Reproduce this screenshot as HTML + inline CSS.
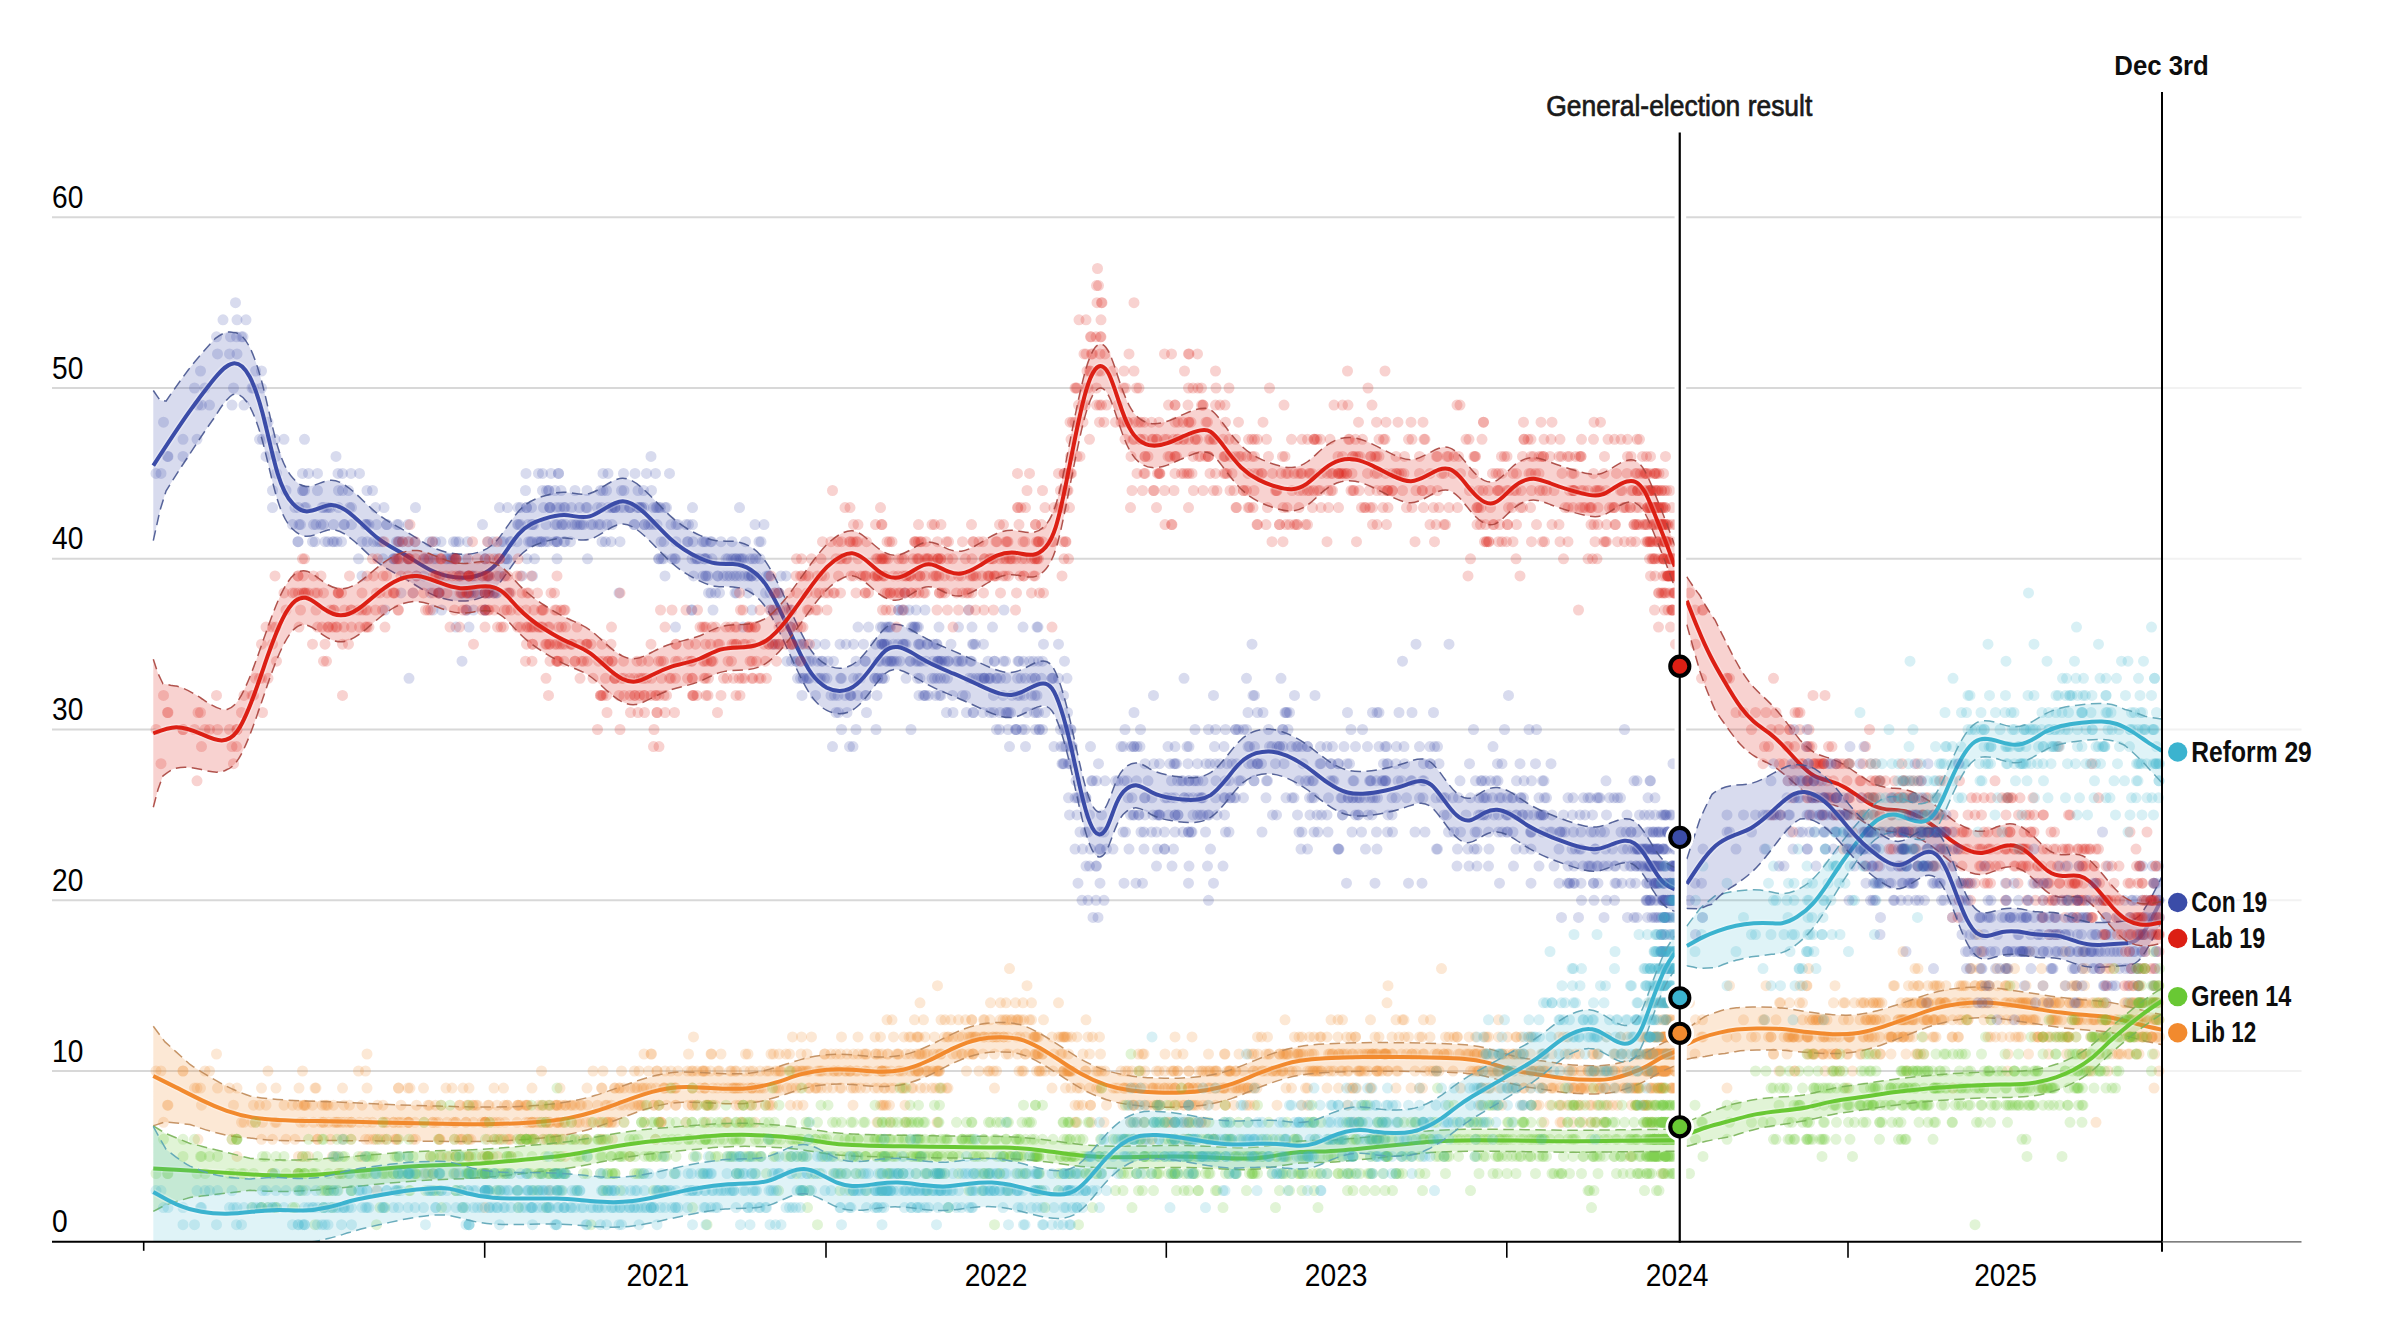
<!DOCTYPE html>
<html lang="en"><head><meta charset="utf-8"><title>Poll tracker</title>
<style>html,body{margin:0;padding:0;background:#fff}svg{display:block}</style></head>
<body>
<svg width="2382" height="1340" viewBox="0 0 2382 1340">
<style>
text{font-family:"Liberation Sans",Arial,Helvetica,sans-serif}
.ax{font-size:30.5px;fill:#000}
.p{fill:none;stroke-width:11;stroke-linecap:round;stroke-opacity:.2}
.d{fill:none;stroke-width:1.5;stroke-dasharray:10.5 5.5;stroke-opacity:.9}
.h{fill:none;stroke:#fff;stroke-width:7;stroke-opacity:.3}
.l{fill:none;stroke-width:4;stroke-linecap:butt;stroke-linejoin:round}
.lb{font-size:28.6px;font-weight:bold;fill:#0d0d0d;stroke:#fff;stroke-width:5;paint-order:stroke;stroke-linejoin:round}
</style>
<rect width="2382" height="1340" fill="#fff"/>
<path d="M52 1071H2162" stroke="#d8d8d8" stroke-width="2"/>
<path d="M2162 1071H2301.5" stroke="#f2f2f2" stroke-width="2"/>
<path d="M52 900.3H2162" stroke="#d8d8d8" stroke-width="2"/>
<path d="M2162 900.3H2301.5" stroke="#f2f2f2" stroke-width="2"/>
<path d="M52 729.5H2162" stroke="#d8d8d8" stroke-width="2"/>
<path d="M2162 729.5H2301.5" stroke="#f2f2f2" stroke-width="2"/>
<path d="M52 558.8H2162" stroke="#d8d8d8" stroke-width="2"/>
<path d="M2162 558.8H2301.5" stroke="#f2f2f2" stroke-width="2"/>
<path d="M52 388H2162" stroke="#d8d8d8" stroke-width="2"/>
<path d="M2162 388H2301.5" stroke="#f2f2f2" stroke-width="2"/>
<path d="M52 217.3H2162" stroke="#d8d8d8" stroke-width="2"/>
<path d="M2162 217.3H2301.5" stroke="#f2f2f2" stroke-width="2"/>
<clipPath id="c"><rect x="0" y="0" width="2382" height="1241.8"/></clipPath>
<g clip-path="url(#c)" class="m">
<path d="M223 319.8h0M217.5 353.9h0M205 388h0M163.5 422.2h0M651 456.4h0M317.5 473.4h0m233.5 0h0m104.5 0h0M286 490.5h0m81 0h0m194 0h0m77 0h0M272.5 507.6h0m56 0h0m171 0h0m50 0h0m30 0h0m35 0h0m22.5 0h0m20 0h0M333.5 524.6h0m43 0h0m142 0h0m38.5 0h0m24.5 0h0m52.5 0h0m37 0h0M298 541.7h0m39 0h0m59.5 0h0m39 0h0m65.5 0h0m36.5 0h0m19.5 0h0m63 0h0m84 0h0m57 0h0M408 558.8h0m39 0h0m38.5 0h0m102 0h0m104.5 0h0m15 0h0m32 0h0M440 575.9h0m47.5 0h0m206 0h0m33.5 0h0m24.5 0h0m34.5 0h0M401 592.9h0m68 0h0m20 0h0m219.5 0h0m61.5 0h0M467 610h0m285 0h0m146.5 0h0M868.5 627.1h0m44.5 0h0m79.5 0h0M800.5 644.2h0m63 0h0m23.5 0h0m32 0h0m53.5 0h0m476.5 0h0M801 661.2h0m32.5 0h0m56.5 0h0m26 0h0m22 0h0m20.5 0h0m45 0h0m39 0h0M807 678.3h0m33.5 0h0m37.5 0h0m56.5 0h0m44.5 0h0m17 0h0m39 0h0m149 0h0M850 695.4h0m73.5 0h0m39 0h0m69 0h0m263 0h0M946.5 712.5h0m53.5 0h0m38.5 0h0m247.5 0h0m126 0h0M841.5 729.5h0m174.5 0h0m44.5 0h0m134.5 0h0m51.5 0h0m258 0h0M849.5 746.6h0m221 0h0m63.5 0h0m90 0h0m55.5 0h0m41 0h0m66 0h0M1062 763.7h0m97.5 0h0m50.5 0h0m47 0h0m64 0h0m66 0h0m82.5 0h0M1091.5 780.8h0m45 0h0m57 0h0m47.5 0h0m71.5 0h0m58 0h0m27.5 0h0m83 0h0m50.5 0h0M1075 797.8h0m69.5 0h0m40 0h0m39.5 0h0m62 0h0m56 0h0m22.5 0h0m55 0h0m51 0h0m37 0h0m39 0h0m53.5 0h0M1069.5 814.9h0m69.5 0h0m36 0h0m33 0h0m109 0h0m51 0h0m112.5 0h0m28 0h0m32.5 0h0m44 0h0m76.5 0h0M1088 832h0m63.5 0h0m40.5 0h0m126 0h0m107 0h0m77 0h0m48 0h0m41 0h0m46 0h0m24 0h0M1099.5 849.1h0m65 0h0m201 0h0m123.5 0h0m92 0h0m54.5 0h0m9.5 0h0m9 0h0m9 0h0M1156.5 866.1h0m332 0h0m101 0h0m35 0h0m21.5 0h0m7 0h0m7.5 0h0m12 0h0M1346.5 883.2h0m223 0h0m45.5 0h0m39.5 0h0m8.5 0h0m8 0h0M1104 900.3h0m543.5 0h0m15.5 0h0m7 0h0m4 0h0M1098 917.4h0m554 0h0m13.5 0h0M1666 951.5h0M1674 1002.8h0" class="p" stroke="#3b4ca8"/>
<path d="M237 319.8h0M229.5 353.9h0M233.5 388h0M268 422.2h0M183 439.3h0M338 473.4h0m220.5 0h0m111 0h0M302.5 490.5h0m70 0h0m202.5 0h0m68.5 0h0M295 507.6h0m35.5 0h0m177 0h0m42.5 0h0m36 0h0m29 0h0m24 0h0m20 0h0M292.5 524.6h0m51.5 0h0m42.5 0h0m134 0h0m41 0h0m22 0h0m51 0h0m41.5 0h0M298 541.7h0m43.5 0h0m56.5 0h0m43 0h0m62.5 0h0m36 0h0m18 0h0m103.5 0h0m45 0h0M358.5 558.8h0m51.5 0h0m40 0h0m47.5 0h0m161 0h0m37 0h0m16.5 0h0m28.5 0h0M459.5 575.9h0m28.5 0h0m215 0h0m27 0h0m21.5 0h0M413 592.9h0m56 0h0m20.5 0h0m221.5 0h0m64.5 0h0M473.5 610h0m297.5 0h0m131 0h0M456 627.1h0m424.5 0h0m34 0h0m108.5 0h0M801.5 644.2h0m74 0h0m18 0h0m27 0h0m53 0h0M806 661.2h0m50 0h0m35 0h0m27 0h0m21.5 0h0m22 0h0m44 0h0m59 0h0M808.5 678.3h0m33 0h0m40.5 0h0m55.5 0h0m44.5 0h0m15 0h0m38.5 0h0m211 0h0M850.5 695.4h0m74.5 0h0m40.5 0h0m69.5 0h0m280 0h0M953 712.5h0m53 0h0m39 0h0m242 0h0m146.5 0h0M856 729.5h0m160.5 0h0m47.5 0h0m144.5 0h0m60 0h0m260.5 0h0M853 746.6h0m218.5 0h0m65.5 0h0m111 0h0m35 0h0m44 0h0m69.5 0h0M1063 763.7h0m107 0h0m45.5 0h0m42 0h0m73.5 0h0m57 0h0m109.5 0h0M1092.5 780.8h0m55.5 0h0m47.5 0h0m58.5 0h0m59.5 0h0m57.5 0h0m30.5 0h0m80.5 0h0m60.5 0h0M1077 797.8h0m68 0h0m43.5 0h0m36.5 0h0m67 0h0m56 0h0m22 0h0m53 0h0m56 0h0m33 0h0m56 0h0m41.5 0h0M1077 814.9h0m68 0h0m30 0h0m34 0h0m112.5 0h0m50.5 0h0m111.5 0h0m32.5 0h0m25.5 0h0m51 0h0m71 0h0M1099.5 832h0m57 0h0m49 0h0m122.5 0h0m120.5 0h0m58.5 0h0m45 0h0m42 0h0m53.5 0h0m17 0h0M1100.5 849.1h0m73 0h0m203.5 0h0m139 0h0m79 0h0m42.5 0h0m8 0h0m10 0h0m8 0h0M1172 866.1h0m341.5 0h0m78 0h0m38.5 0h0m18 0h0m6 0h0m7.5 0h0m12.5 0h0M1078 883.2h0m297 0h0m194.5 0h0m47 0h0m38 0h0m9 0h0m9.5 0h0M1208.5 900.3h0m441.5 0h0m13.5 0h0m7 0h0M1561.5 917.4h0m93 0h0m12.5 0h0M1674.5 951.5h0M1665.5 968.6h0" class="p" stroke="#3b4ca8"/>
<path d="M246 319.8h0M237 353.9h0M252 388h0M198 405.1h0M197 439.3h0M167.5 456.4h0M342.5 473.4h0m216 0h0M303 490.5h0m222.5 0h0m61.5 0h0m64.5 0h0M298.5 507.6h0m40 0h0m179.5 0h0m32 0h0m37 0h0m28 0h0m24.5 0h0m21 0h0M299 524.6h0m45.5 0h0m42.5 0h0m141 0h0m34.5 0h0m28.5 0h0m53.5 0h0m33.5 0h0M312.5 541.7h0m49.5 0h0m37.5 0h0m54 0h0m57 0h0m31 0h0m22.5 0h0m100 0h0m46.5 0h0M383 558.8h0m40.5 0h0m28.5 0h0m53 0h0m154 0h0m38 0h0m29 0h0m16 0h0M460 575.9h0m29 0h0m216.5 0h0m28.5 0h0m18 0h0M430.5 592.9h0m40.5 0h0m23 0h0m221.5 0h0m63 0h0M485 610h0m288.5 0h0m130.5 0h0M469 627.1h0m413.5 0h0m32.5 0h0m122 0h0M807.5 644.2h0m74 0h0m16.5 0h0m29 0h0m48.5 0h0M809 661.2h0m56 0h0m27 0h0m28 0h0m21 0h0m21.5 0h0m55.5 0h0m384.5 0h0M809.5 678.3h0m44 0h0m29 0h0m58 0h0m43.5 0h0m16.5 0h0m41 0h0m239.5 0h0M802 695.4h0m49 0h0m74 0h0m68.5 0h0m43.5 0h0m471.5 0h0M966.5 712.5h0m40.5 0h0m60.5 0h0m222 0h0M876 729.5h0m146 0h0m43.5 0h0m150 0h0m67 0h0m254 0h0M1009.5 746.6h0m63 0h0m67.5 0h0m109.5 0h0m42 0h0m41 0h0m71.5 0h0M1064 763.7h0m110 0h0m46 0h0m38 0h0m73 0h0m65 0h0m106 0h0M1096.5 780.8h0m75 0h0m26.5 0h0m56 0h0m76 0h0m46.5 0h0m34.5 0h0m74.5 0h0m58.5 0h0M1078.5 797.8h0m73.5 0h0m41 0h0m37 0h0m64 0h0m54.5 0h0m24 0h0m63.5 0h0m47 0h0m30 0h0m60 0h0m41 0h0M1089.5 814.9h0m63.5 0h0m25 0h0m39 0h0m110 0h0m61 0h0m95.5 0h0m33 0h0m27 0h0m63 0h0m58.5 0h0M1101.5 832h0m63 0h0m61 0h0m126.5 0h0m102 0h0m53.5 0h0m52.5 0h0m40.5 0h0m49.5 0h0m17 0h0M1106.5 849.1h0m104 0h0m226 0h0m87.5 0h0m71.5 0h0m42 0h0m9 0h0m10 0h0m9 0h0M1189 866.1h0m350 0h0m58 0h0m34.5 0h0m17.5 0h0m5.5 0h0m9 0h0m11.5 0h0M1100 883.2h0m308.5 0h0m165 0h0m48.5 0h0m33.5 0h0m8.5 0h0m10.5 0h0M1581.5 900.3h0m68.5 0h0m14 0h0m6.5 0h0M1578.5 917.4h0m78 0h0m12.5 0h0M1661 934.5h0M1667 968.6h0" class="p" stroke="#3b4ca8"/>
<path d="M235.5 302.7h0M216.5 336.8h0M253.5 388h0M201.5 405.1h0M259.5 439.3h0M168 456.4h0M156 473.4h0m195 0h0m252 0h0M304.5 490.5h0m238 0h0m58 0h0M304.5 507.6h0m45 0h0m171 0h0m36 0h0m41 0h0m22.5 0h0m21.5 0h0m23.5 0h0M300.5 524.6h0m51 0h0m45.5 0h0m135 0h0m33.5 0h0m27.5 0h0m51.5 0h0m41.5 0h0M315 541.7h0m52 0h0m35.5 0h0m53.5 0h0m55 0h0m30.5 0h0m23.5 0h0m111 0h0m35.5 0h0M393.5 558.8h0m32 0h0m29 0h0m52.5 0h0m154.5 0h0m36 0h0m30.5 0h0m15.5 0h0M468 575.9h0m31.5 0h0m206.5 0h0m30.5 0h0m20 0h0M438.5 592.9h0m37.5 0h0m18.5 0h0m225 0h0m59.5 0h0M485 610h0m291.5 0h0m132.5 0h0M675.5 627.1h0m210.5 0h0m31 0h0m121 0h0M772.5 644.2h0m43 0h0m66.5 0h0m21 0h0m24.5 0h0m56 0h0M462 661.2h0m349.5 0h0m54 0h0m28.5 0h0m27.5 0h0m20.5 0h0m28.5 0h0m48.5 0h0M409 678.3h0m408.5 0h0m40.5 0h0m26.5 0h0m60 0h0m40 0h0m21.5 0h0m46 0h0M815.5 695.4h0m42 0h0m71 0h0m74.5 0h0m60.5 0h0M973 712.5h0m35.5 0h0m125.5 0h0m213.5 0h0M911 729.5h0m114 0h0m43 0h0m157.5 0h0m57.5 0h0m341.5 0h0M1025.5 746.6h0m65 0h0m77.5 0h0m86.5 0h0m42 0h0m47.5 0h0m75.5 0h0M1068.5 763.7h0m106.5 0h0m52 0h0m34.5 0h0m76.5 0h0m66.5 0h0m115.5 0h0M1105 780.8h0m72.5 0h0m25.5 0h0m63.5 0h0m66 0h0m49.5 0h0m30 0h0m78.5 0h0m115.5 0h0M1083 797.8h0m82 0h0m33.5 0h0m32 0h0m79 0h0m43 0h0m22.5 0h0m66.5 0h0m43 0h0m36 0h0m63 0h0m34 0h0M1101.5 814.9h0m55.5 0h0m21 0h0m46.5 0h0m118 0h0m49.5 0h0m94.5 0h0m36 0h0m21 0h0m83.5 0h0m38.5 0h0M1104 832h0m71 0h0m54 0h0m132.5 0h0m99 0h0m52.5 0h0m47 0h0m44.5 0h0m48.5 0h0m14.5 0h0M1113 849.1h0m188 0h0m136.5 0h0m93.5 0h0m74.5 0h0m32.5 0h0m9.5 0h0m9.5 0h0m10.5 0h0M1207.5 866.1h0m346.5 0h0m44 0h0m38 0h0m13.5 0h0m5 0h0m11 0h0m9.5 0h0M1124 883.2h0m298 0h0m152.5 0h0m56 0h0m25.5 0h0m9 0h0m10.5 0h0M1594 900.3h0m57 0h0m14 0h0m5.5 0h0M1604 917.4h0m54.5 0h0m13 0h0M1661.5 934.5h0M1668.5 968.6h0" class="p" stroke="#3b4ca8"/>
<path d="M230.5 336.8h0M261.5 388h0M209.5 405.1h0M262.5 439.3h0M183 456.4h0M161 473.4h0m198.5 0h0m248.5 0h0M317.5 490.5h0m229 0h0m56.5 0h0M306 507.6h0m45.5 0h0m175 0h0m33.5 0h0m41.5 0h0m22.5 0h0m17.5 0h0m25 0h0M313.5 524.6h0m52 0h0m33 0h0m134 0h0m39.5 0h0m26.5 0h0m50 0h0m40 0h0M325 541.7h0m48.5 0h0m35.5 0h0m50 0h0m58 0h0m28.5 0h0m25 0h0m117 0h0m33.5 0h0M393.5 558.8h0m34.5 0h0m27.5 0h0m51.5 0h0m156.5 0h0m36.5 0h0m31.5 0h0m18.5 0h0M468.5 575.9h0m36 0h0m203.5 0h0m32 0h0m26.5 0h0M439 592.9h0m38.5 0h0m19 0h0m238.5 0h0m170 0h0M385 610h0m100 0h0m295 0h0m136 0h0M743 627.1h0m145 0h0m30.5 0h0M774.5 644.2h0m50.5 0h0m57 0h0m21 0h0m30.5 0h0m110 0h0M787 661.2h0m30.5 0h0m61 0h0m18 0h0m29.5 0h0m19 0h0m26.5 0h0m52 0h0M797.5 678.3h0m22 0h0m41 0h0m45.5 0h0m41.5 0h0m37 0h0m33 0h0m34.5 0h0M831 695.4h0m34.5 0h0m70 0h0m76.5 0h0m141.5 0h0M836 712.5h0m137.5 0h0m37 0h0m237.5 0h0m124.5 0h0M996.5 729.5h0m39 0h0m35 0h0m165 0h0m52.5 0h0M1054 746.6h0m67 0h0m54 0h0m94.5 0h0m28.5 0h0m57.5 0h0m74.5 0h0M1070 763.7h0m106.5 0h0m55.5 0h0m43.5 0h0m63 0h0m85 0h0m112 0h0M1115.5 780.8h0m66 0h0m34.5 0h0m51.5 0h0m66.5 0h0m49 0h0m39.5 0h0m73.5 0h0m138 0h0M1085.5 797.8h0m81.5 0h0m34.5 0h0m32.5 0h0m78 0h0m41 0h0m24.5 0h0m66.5 0h0m42.5 0h0m34.5 0h0m67 0h0m32.5 0h0M1130.5 814.9h0m28.5 0h0m34 0h0m79.5 0h0m70 0h0m101.5 0h0m50 0h0m28.5 0h0m29.5 0h0m87.5 0h0m27 0h0M1123 832h0m60 0h0m79 0h0m114.5 0h0m98.5 0h0m55.5 0h0m31.5 0h0m59 0h0m32.5 0h0m14.5 0h0M1129 849.1h0m178.5 0h0m150 0h0m101.5 0h0m53.5 0h0m26.5 0h0m11.5 0h0m7.5 0h0m15.5 0h0M1086 866.1h0m137 0h0m345 0h0m36 0h0m32 0h0m14 0h0m6.5 0h0m9 0h0m10 0h0M1136 883.2h0m363.5 0h0m81.5 0h0m54.5 0h0m21 0h0m11 0h0M1606.5 900.3h0m48 0h0m11 0h0m6.5 0h0M1627.5 917.4h0m34 0h0m14 0h0M1665.5 934.5h0M1660.5 951.5h0" class="p" stroke="#3b4ca8"/>
<path d="M236.5 336.8h0M200.5 371h0M232 405.1h0M275 439.3h0M266 456.4h0M276.5 473.4h0m249.5 0h0m97.5 0h0M338.5 490.5h0m210 0h0m58 0h0M322 507.6h0m53.5 0h0m151 0h0m37.5 0h0m44 0h0m21.5 0h0m14.5 0h0m48.5 0h0M316 524.6h0m49.5 0h0m42.5 0h0m126 0h0m41 0h0m25.5 0h0m50.5 0h0m41.5 0h0M328 541.7h0m49.5 0h0m37.5 0h0m52.5 0h0m61 0h0m19.5 0h0m54 0h0m86 0h0m44 0h0M395 558.8h0m38.5 0h0m22.5 0h0m71 0h0m145 0h0m32.5 0h0m29 0h0m19.5 0h0M362 575.9h0m110.5 0h0m49.5 0h0m195.5 0h0m27 0h0m24 0h0M439.5 592.9h0m45.5 0h0m12 0h0m239.5 0h0M433 610h0m258.5 0h0m98 0h0m135.5 0h0M790.5 627.1h0m99 0h0m49.5 0h0M778.5 644.2h0m61.5 0h0m44 0h0m20.5 0h0m32 0h0m122 0h0M791.5 661.2h0m30 0h0m59 0h0m19.5 0h0m33 0h0m15 0h0m40 0h0m41.5 0h0M800.5 678.3h0m20.5 0h0m53.5 0h0m43 0h0m51.5 0h0m19.5 0h0m32.5 0h0m32 0h0M834.5 695.4h0m31.5 0h0m73.5 0h0m78 0h0m196 0h0M838.5 712.5h0m144.5 0h0m44 0h0m230.5 0h0m119.5 0h0M999.5 729.5h0m39.5 0h0m32 0h0m165 0h0m115 0h0M1061 746.6h0m62.5 0h0m63.5 0h0m85 0h0m30 0h0m65.5 0h0m67 0h0M1098.5 763.7h0m89.5 0h0m48.5 0h0m47.5 0h0m63 0h0m83 0h0m121 0h0M1118 780.8h0m65 0h0m42.5 0h0m73.5 0h0m54 0h0m32 0h0m39 0h0m74 0h0m139 0h0M1086 797.8h0m85.5 0h0m30 0h0m34 0h0m78.5 0h0m42.5 0h0m35.5 0h0m53.5 0h0m47 0h0m31 0h0m67 0h0m57.5 0h0M1133 814.9h0m26 0h0m38.5 0h0m79 0h0m79 0h0m91.5 0h0m51.5 0h0m29.5 0h0m35.5 0h0m81 0h0m25.5 0h0M1125.5 832h0m63 0h0m110.5 0h0m88.5 0h0m89.5 0h0m54 0h0m34 0h0m61 0h0m30 0h0m12 0h0M1075 849.1h0m69 0h0m194 0h0m130 0h0m104 0h0m51 0h0m18 0h0m10.5 0h0m7 0h0m17 0h0M1089.5 866.1h0m367.5 0h0m117 0h0m34 0h0m31 0h0m11.5 0h0m6 0h0m15.5 0h0M1142.5 883.2h0m388.5 0h0m62.5 0h0m53 0h0m12 0h0m11.5 0h0M1082 900.3h0m532.5 0h0m43 0h0m10 0h0m4.5 0h0M1634 917.4h0m30.5 0h0M1670 934.5h0M1661.5 951.5h0" class="p" stroke="#3b4ca8"/>
<path d="M241.5 336.8h0M255.5 371h0M244 405.1h0M284 439.3h0M276 456.4h0M302.5 473.4h0m236 0h0m96.5 0h0M342.5 490.5h0m206.5 0h0m72.5 0h0M323.5 507.6h0m60.5 0h0m147.5 0h0m33.5 0h0m46.5 0h0m18.5 0h0m23.5 0h0m86 0h0M321 524.6h0m46 0h0m115.5 0h0m63.5 0h0m31 0h0m30 0h0m47 0h0m101 0h0M332.5 541.7h0m47.5 0h0m49.5 0h0m58.5 0h0m42.5 0h0m24 0h0m51 0h0m87.5 0h0m52.5 0h0M398.5 558.8h0m37.5 0h0m30 0h0m68.5 0h0m140 0h0m30 0h0m31.5 0h0m19.5 0h0M416.5 575.9h0m57 0h0m59 0h0m185.5 0h0m30 0h0m21 0h0M461.5 592.9h0m24 0h0m23.5 0h0m239 0h0M441.5 610h0m250.5 0h0m99.5 0h0m177 0h0M790.5 627.1h0m100 0h0m68 0h0M792.5 644.2h0m53.5 0h0m38 0h0m22 0h0m31 0h0m315 0h0M796 661.2h0m26.5 0h0m63.5 0h0m24 0h0m27.5 0h0m11 0h0m46 0h0m39 0h0M803 678.3h0m21.5 0h0m50.5 0h0m45 0h0m52 0h0m17.5 0h0m36 0h0m33 0h0M838 695.4h0m39 0h0m64 0h0m79 0h0m233 0h0M847 712.5h0m143 0h0m44.5 0h0m228.5 0h0m116 0h0M1008 729.5h0m31.5 0h0m85.5 0h0m113.5 0h0m124 0h0M1064 746.6h0m67 0h0m58 0h0m88 0h0m30.5 0h0m71.5 0h0m58.5 0h0M1145 763.7h0m52.5 0h0m51 0h0m54.5 0h0m46.5 0h0m81 0h0m242.5 0h0M1124 780.8h0m64.5 0h0m40.5 0h0m76.5 0h0m48.5 0h0m31.5 0h0m74.5 0h0m56.5 0h0m133.5 0h0M1128 797.8h0m47 0h0m28 0h0m40.5 0h0m85 0h0m30.5 0h0m37 0h0m57 0h0m46.5 0h0m39.5 0h0m58 0h0m58 0h0M1134 814.9h0m26 0h0m40.5 0h0m97 0h0m60.5 0h0m108 0h0m40.5 0h0m27 0h0m39 0h0m77 0h0m22.5 0h0M1080 832h0m61 0h0m47.5 0h0m113.5 0h0m90.5 0h0m96 0h0m43 0h0m42 0h0m57.5 0h0m27.5 0h0m13.5 0h0M1082.5 849.1h0m75 0h0m181 0h0m135.5 0h0m101.5 0h0m52 0h0m15 0h0m10 0h0m6.5 0h0M1096 866.1h0m373 0h0m114 0h0m31.5 0h0m26 0h0m10.5 0h0m7.5 0h0m13.5 0h0M1188.5 883.2h0m370.5 0h0m34.5 0h0m53.5 0h0m11.5 0h0m11.5 0h0M1088 900.3h0m558 0h0m16 0h0m6 0h0m4 0h0M1637 917.4h0m27.5 0h0M1675 934.5h0M1661.5 951.5h0" class="p" stroke="#3b4ca8"/>
<path d="M243 336.8h0M261.5 371h0M194.5 388h0M304.5 439.3h0M336 456.4h0M308.5 473.4h0m234 0h0m104 0h0M272.5 490.5h0m76 0h0m206.5 0h0m69 0h0M326.5 507.6h0m89 0h0m128 0h0m28 0h0m41 0h0m18 0h0m25.5 0h0M323.5 524.6h0m45.5 0h0m148.5 0h0m37.5 0h0m25 0h0m32 0h0m45 0h0m107 0h0M334 541.7h0m48.5 0h0m50 0h0m60.5 0h0m39 0h0m24.5 0h0m54.5 0h0m91.5 0h0m56.5 0h0M408 558.8h0m38 0h0m39 0h0m72 0h0m118.5 0h0m30 0h0m30.5 0h0m24 0h0M424 575.9h0m58 0h0m183 0h0m58.5 0h0m26 0h0m31.5 0h0M463 592.9h0m24.5 0h0m131.5 0h0m146.5 0h0M466 610h0m247 0h0m185.5 0h0m105.5 0h0M858 627.1h0m53.5 0h0m60.5 0h0M797 644.2h0m56.5 0h0m31.5 0h0m33.5 0h0m32.5 0h0m465 0h0M796.5 661.2h0m31.5 0h0m59.5 0h0m23 0h0m27.5 0h0m18.5 0h0m38 0h0m44 0h0M803.5 678.3h0m23.5 0h0m50.5 0h0m54.5 0h0m44 0h0m14.5 0h0m41 0h0m35.5 0h0M845 695.4h0m74 0h0m33.5 0h0m71.5 0h0m230.5 0h0M866.5 712.5h0m127 0h0m43 0h0m248.5 0h0m114 0h0M1015.5 729.5h0m27 0h0m98 0h0m103 0h0m230 0h0M832.5 746.6h0m233.5 0h0m68 0h0m80.5 0h0m65 0h0m28 0h0m77.5 0h0m108 0h0M1154 763.7h0m52 0h0m46 0h0m68 0h0m63.5 0h0m55.5 0h0M1076 780.8h0m51 0h0m62 0h0m50 0h0m70 0h0m60.5 0h0m16.5 0h0m89.5 0h0m48.5 0h0m126.5 0h0M1068.5 797.8h0m63.5 0h0m52 0h0m31.5 0h0m50.5 0h0m75 0h0m19 0h0m46.5 0h0m52 0h0m43 0h0m43 0h0m54 0h0M1138.5 814.9h0m30 0h0m34.5 0h0m107 0h0m48.5 0h0m120 0h0m28.5 0h0m32.5 0h0m40.5 0h0m75 0h0M1085.5 832h0m58.5 0h0m47 0h0m123 0h0m101 0h0m83.5 0h0m44 0h0m38.5 0h0m50 0h0m27.5 0h0m14.5 0h0M1090.5 849.1h0m74 0h0m174.5 0h0m138 0h0m102.5 0h0m53.5 0h0m10.5 0h0m9.5 0h0m10 0h0M1096.5 866.1h0m380.5 0h0m111 0h0m27.5 0h0m28.5 0h0m8 0h0m7 0h0m13 0h0M1213.5 883.2h0m354 0h0m30.5 0h0m51.5 0h0m9.5 0h0m11 0h0M1096 900.3h0m550.5 0h0m16.5 0h0m5 0h0m5 0h0M1093 917.4h0m554.5 0h0m17 0h0M1663 951.5h0" class="p" stroke="#3b4ca8"/>
<path d="M153.3 390.5C155.5 393.8 157.8 397 160 400.3C162 400.6 164 400.8 166 401.1C173.6 390.1 181.2 379.4 188.8 369.3C189.2 368.7 189.6 368.2 190 367.7C197.2 358.7 204.4 350.3 211.6 342.4C212.8 341.1 213.9 339.9 215 338.7C221 334.1 227 330.6 233 332.4C233.1 332.4 233.1 332.4 233.2 332.4C238.7 332.2 244.2 336.6 249.7 347.3C253.9 355.6 258.1 367.7 262.4 384C267.4 403.5 272.5 429.1 277.6 446.2C282.7 463.4 287.7 472.2 292.8 478.1C295.2 480.8 297.6 483 300 484.5C301.8 485.5 303.7 486.1 305.5 486.4C314 487.5 322.4 480.5 330.9 480.3C338.5 480 346.1 485.3 353.7 491.9C362.2 499.3 370.6 508.5 379.1 515C387.5 521.5 396 525.5 404.4 530.5C412.9 535.5 421.4 541.6 429.8 546C438.3 550.3 446.7 552.7 455.2 553.8C463.6 554.9 472.1 554.6 480.5 551.5C485.6 549.7 490.7 546.9 495.8 541.5C497.2 540.1 498.6 538.4 500 536.6C506.2 528.6 512.4 518.1 518.6 511.2C527.1 501.7 535.5 498.6 544 496C550.7 493.8 557.5 492 564.3 492.2C572.7 492.4 581.2 495.7 589.6 493.5C600.6 490.6 611.6 478.4 622.6 478.3C630.2 478.2 637.8 483.8 645.4 491C653.9 498.9 662.4 508.7 670.8 516.4C680.5 525.1 690.3 531 700 535.4C705.1 537.8 710.1 539.7 715.2 540.5C721.1 541.5 727.1 540.9 733 541.3C738.9 541.7 744.8 543.2 750.7 546.9C755.8 550 760.9 554.8 766 562.1C771 569.5 776.1 579.3 781.2 590C786.3 600.8 791.3 612.3 796.4 623C801.5 633.8 806.6 643.8 811.6 651C816.7 658.1 821.8 662.3 826.8 664.9C831.1 667.1 835.3 668.2 839.5 668.2C845.5 668.3 851.4 666.2 857.3 661.1C862.4 656.8 867.4 650.3 872.5 643.4C876.7 637.7 881 631.7 885.2 628.2C889.4 624.7 893.7 623.8 897.9 624.4C902.1 625 906.3 627.1 910.6 629.5C916.5 632.8 922.4 636.5 928.3 639.6C936.8 644.1 945.2 647.5 953.7 651.1C962.2 654.7 970.6 658.6 979.1 662.5C986 665.8 993 669.1 1000 671C1004.2 672.2 1008.5 672.8 1012.7 672.3C1017.8 671.6 1022.8 669.1 1027.9 666.5C1033 663.8 1038.1 660.9 1043.1 660.9C1046.1 660.9 1049 661.9 1052 666C1055 670 1057.9 677.2 1060.9 686.3C1064.3 696.7 1067.7 709.6 1071 724.3C1074.4 739.1 1077.8 755.7 1081.2 770C1084.1 782.5 1087.1 793.2 1090.1 800.5C1093 807.7 1096 811.4 1098.9 811.9C1101.5 812.3 1104 810.3 1106.6 805.5C1109.9 799.2 1113.3 787.8 1116.7 780.2C1120.1 772.6 1123.5 768.7 1126.8 766.2C1130.2 763.7 1133.6 762.6 1137 763C1142.1 763.5 1147.1 767.4 1152.2 770.1C1159 773.6 1165.7 774.8 1172.5 775.9C1181 777.3 1189.4 778.4 1197.9 777.2C1202.1 776.6 1206.3 775.4 1210.6 772.7C1215.6 769.3 1220.7 763.7 1225.8 757.4C1230.9 751.2 1235.9 744.4 1241 739.7C1246.1 735 1251.2 732.4 1256.2 730.8C1260.5 729.5 1264.7 728.9 1268.9 729.1C1274.8 729.3 1280.8 730.9 1286.7 733.4C1293.4 736.2 1300.2 740 1307 744.8C1313.7 749.6 1320.5 755.4 1327.3 760.1C1334 764.8 1340.8 768.5 1347.6 770.2C1352.6 771.5 1357.7 771.7 1362.8 771.5C1370.4 771.2 1378 769.9 1385.6 768.2C1392.4 766.8 1399.2 765 1405.9 762.7C1411 760.9 1416.1 758.8 1421.1 758.9C1424.5 758.9 1427.9 760 1431.3 762.7C1435.5 766.1 1439.7 772.1 1444 777.9C1448.2 783.8 1452.4 789.4 1456.7 793.2C1460.9 796.9 1465.1 798.8 1469.3 798.2C1474.4 797.6 1479.5 793.3 1484.6 790.6C1488.8 788.4 1493 787.3 1497.2 787.6C1501.5 787.9 1505.7 789.6 1509.9 791.9C1515.9 795.2 1521.8 799.7 1527.7 803.4C1534.5 807.6 1541.2 810.7 1548 813.5C1554.8 816.4 1561.5 818.8 1568.3 821.2C1573.4 822.9 1578.4 824.6 1583.5 825.7C1587.8 826.8 1592.1 827.4 1596.4 827C1601.5 826.5 1606.6 824.5 1611.6 822.5C1615.9 820.8 1620.1 819.1 1624.3 818.7C1627.7 818.4 1631.1 818.9 1634.5 821.2C1637.8 823.5 1641.2 827.6 1644.6 832.6C1648 837.7 1651.4 843.8 1654.8 849.1C1658.1 854.4 1661.5 858.9 1664.9 861.8C1668.2 864.7 1671.5 866.1 1674.8 867.4L1674.8 911.4C1671.5 910.1 1668.2 908.7 1664.9 905.9C1661.5 902.9 1658.1 898.5 1654.8 893.2C1651.4 887.9 1648 881.8 1644.6 876.7C1641.2 871.6 1637.8 867.6 1634.5 865.3C1631.1 863 1627.7 862.5 1624.3 862.8C1620.1 863.1 1615.9 864.9 1611.6 866.6C1606.6 868.6 1601.5 870.7 1596.4 871.2C1592.1 871.6 1587.8 870.9 1583.5 869.9C1578.4 868.7 1573.4 867.1 1568.3 865.3C1561.5 863 1554.8 860.6 1548 857.8C1541.2 854.9 1534.5 851.8 1527.7 847.6C1521.8 844 1515.9 839.5 1509.9 836.2C1505.7 833.9 1501.5 832.2 1497.2 831.9C1493 831.6 1488.8 832.7 1484.6 835C1479.5 837.6 1474.4 841.9 1469.3 842.6C1465.1 843.2 1460.9 841.3 1456.7 837.5C1452.4 833.8 1448.2 828.1 1444 822.3C1439.7 816.5 1435.5 810.5 1431.3 807.1C1427.9 804.4 1424.5 803.4 1421.1 803.3C1416.1 803.2 1411 805.4 1405.9 807.1C1399.2 809.5 1392.4 811.3 1385.6 812.7C1378 814.4 1370.4 815.7 1362.8 816C1357.7 816.3 1352.6 816.1 1347.6 814.8C1340.8 813.1 1334 809.4 1327.3 804.7C1320.5 800 1313.7 794.2 1307 789.5C1300.2 784.7 1293.4 780.9 1286.7 778.1C1280.8 775.6 1274.8 774 1268.9 773.8C1264.7 773.6 1260.5 774.2 1256.2 775.5C1251.2 777.1 1246.1 779.7 1241 784.4C1235.9 789.2 1230.9 796 1225.8 802.2C1220.7 808.4 1215.6 814.1 1210.6 817.4C1206.3 820.2 1202.1 821.4 1197.9 822C1189.4 823.2 1181 822.1 1172.5 820.8C1165.7 819.7 1159 818.5 1152.2 815C1147.1 812.3 1142.1 808.4 1137 807.9C1133.6 807.5 1130.2 808.7 1126.8 811.2C1123.5 813.7 1120.1 817.5 1116.7 825.1C1113.3 832.8 1109.9 844.1 1106.6 850.5C1104 855.3 1101.5 857.3 1098.9 856.9C1096 856.4 1093 852.7 1090.1 845.5C1087.1 838.2 1084.1 827.5 1081.2 815C1077.8 800.7 1074.4 784.1 1071 769.4C1067.7 754.6 1064.3 741.7 1060.9 731.3C1057.9 722.2 1055 715.1 1052 711C1049 707 1046.1 706 1043.1 706C1038.1 706 1033 708.9 1027.9 711.6C1022.8 714.2 1017.8 716.7 1012.7 717.4C1008.5 718 1004.2 717.3 1000 716.1C993 714.2 986 710.9 979.1 707.7C970.6 703.8 962.2 699.9 953.7 696.3C945.2 692.7 936.8 689.4 928.3 684.9C922.4 681.8 916.5 678.1 910.6 674.8C906.3 672.4 902.1 670.3 897.9 669.7C893.7 669.1 889.4 670.1 885.2 673.5C881 677 876.7 683 872.5 688.8C867.4 695.7 862.4 702.2 857.3 706.5C851.4 711.6 845.5 713.7 839.5 713.7C835.3 713.6 831.1 712.6 826.8 710.4C821.8 707.8 816.7 703.5 811.6 696.4C806.6 689.3 801.5 679.3 796.4 668.5C791.3 657.8 786.3 646.3 781.2 635.6C776.1 624.9 771 615 766 607.7C760.9 600.4 755.8 595.6 750.7 592.5C744.8 588.8 738.9 587.3 733 586.9C727.1 586.5 721.1 587.1 715.2 586.2C710.1 585.4 705.1 583.4 700 581.1C690.3 576.6 680.5 570.8 670.8 562.1C662.4 554.5 653.9 544.7 645.4 536.7C637.8 529.6 630.2 523.9 622.6 524.1C611.6 524.2 600.6 536.4 589.6 539.3C581.2 541.5 572.7 538.2 564.3 538.1C557.5 537.9 550.7 539.8 544 541.9C535.5 544.5 527.1 547.6 518.6 557.1C512.4 564.1 506.2 574.6 500 582.6C498.6 584.4 497.2 586.1 495.8 587.6C490.7 593.1 485.6 596 480.5 597.9C472.1 601.1 463.6 601.6 455.2 600.7C446.7 599.8 438.3 597.5 429.8 593.4C421.4 589.2 412.9 583.3 404.4 578.4C396 573.5 387.5 569.8 379.1 563.4C370.6 557.1 362.2 548.1 353.7 540.8C346.1 534.3 338.5 529.3 330.9 529.7C322.4 530.1 314 537.2 305.5 536.3C303.7 536 301.8 535.5 300 534.5C297.6 533.4 295.2 531.7 292.8 529.3C287.7 524.4 282.7 516.5 277.6 500.3C272.5 484 267.4 459.4 262.4 440.7C258.1 425.2 253.9 413.9 249.7 406.4C244.2 396.6 238.7 393.2 233.2 394.4C233.1 394.4 233.1 394.4 233 394.4C227 397.9 221 406.8 215 416.7C213.9 418.3 212.8 419.9 211.6 421.5C204.4 431.7 197.2 442.4 190 453.7C189.6 454.3 189.2 454.9 188.8 455.5C181.2 466.8 173.6 478.8 166 491.1C164 497.5 162 503.9 160 510.3C157.8 520.4 155.5 530.6 153.3 540.7Z" fill="#3b4ca8" fill-opacity=".2"/>
<path d="M153.3 390.5C155.5 393.8 157.8 397 160 400.3C162 400.6 164 400.8 166 401.1C173.6 390.1 181.2 379.4 188.8 369.3C189.2 368.7 189.6 368.2 190 367.7C197.2 358.7 204.4 350.3 211.6 342.4C212.8 341.1 213.9 339.9 215 338.7C221 334.1 227 330.6 233 332.4C233.1 332.4 233.1 332.4 233.2 332.4C238.7 332.2 244.2 336.6 249.7 347.3C253.9 355.6 258.1 367.7 262.4 384C267.4 403.5 272.5 429.1 277.6 446.2C282.7 463.4 287.7 472.2 292.8 478.1C295.2 480.8 297.6 483 300 484.5C301.8 485.5 303.7 486.1 305.5 486.4C314 487.5 322.4 480.5 330.9 480.3C338.5 480 346.1 485.3 353.7 491.9C362.2 499.3 370.6 508.5 379.1 515C387.5 521.5 396 525.5 404.4 530.5C412.9 535.5 421.4 541.6 429.8 546C438.3 550.3 446.7 552.7 455.2 553.8C463.6 554.9 472.1 554.6 480.5 551.5C485.6 549.7 490.7 546.9 495.8 541.5C497.2 540.1 498.6 538.4 500 536.6C506.2 528.6 512.4 518.1 518.6 511.2C527.1 501.7 535.5 498.6 544 496C550.7 493.8 557.5 492 564.3 492.2C572.7 492.4 581.2 495.7 589.6 493.5C600.6 490.6 611.6 478.4 622.6 478.3C630.2 478.2 637.8 483.8 645.4 491C653.9 498.9 662.4 508.7 670.8 516.4C680.5 525.1 690.3 531 700 535.4C705.1 537.8 710.1 539.7 715.2 540.5C721.1 541.5 727.1 540.9 733 541.3C738.9 541.7 744.8 543.2 750.7 546.9C755.8 550 760.9 554.8 766 562.1C771 569.5 776.1 579.3 781.2 590C786.3 600.8 791.3 612.3 796.4 623C801.5 633.8 806.6 643.8 811.6 651C816.7 658.1 821.8 662.3 826.8 664.9C831.1 667.1 835.3 668.2 839.5 668.2C845.5 668.3 851.4 666.2 857.3 661.1C862.4 656.8 867.4 650.3 872.5 643.4C876.7 637.7 881 631.7 885.2 628.2C889.4 624.7 893.7 623.8 897.9 624.4C902.1 625 906.3 627.1 910.6 629.5C916.5 632.8 922.4 636.5 928.3 639.6C936.8 644.1 945.2 647.5 953.7 651.1C962.2 654.7 970.6 658.6 979.1 662.5C986 665.8 993 669.1 1000 671C1004.2 672.2 1008.5 672.8 1012.7 672.3C1017.8 671.6 1022.8 669.1 1027.9 666.5C1033 663.8 1038.1 660.9 1043.1 660.9C1046.1 660.9 1049 661.9 1052 666C1055 670 1057.9 677.2 1060.9 686.3C1064.3 696.7 1067.7 709.6 1071 724.3C1074.4 739.1 1077.8 755.7 1081.2 770C1084.1 782.5 1087.1 793.2 1090.1 800.5C1093 807.7 1096 811.4 1098.9 811.9C1101.5 812.3 1104 810.3 1106.6 805.5C1109.9 799.2 1113.3 787.8 1116.7 780.2C1120.1 772.6 1123.5 768.7 1126.8 766.2C1130.2 763.7 1133.6 762.6 1137 763C1142.1 763.5 1147.1 767.4 1152.2 770.1C1159 773.6 1165.7 774.8 1172.5 775.9C1181 777.3 1189.4 778.4 1197.9 777.2C1202.1 776.6 1206.3 775.4 1210.6 772.7C1215.6 769.3 1220.7 763.7 1225.8 757.4C1230.9 751.2 1235.9 744.4 1241 739.7C1246.1 735 1251.2 732.4 1256.2 730.8C1260.5 729.5 1264.7 728.9 1268.9 729.1C1274.8 729.3 1280.8 730.9 1286.7 733.4C1293.4 736.2 1300.2 740 1307 744.8C1313.7 749.6 1320.5 755.4 1327.3 760.1C1334 764.8 1340.8 768.5 1347.6 770.2C1352.6 771.5 1357.7 771.7 1362.8 771.5C1370.4 771.2 1378 769.9 1385.6 768.2C1392.4 766.8 1399.2 765 1405.9 762.7C1411 760.9 1416.1 758.8 1421.1 758.9C1424.5 758.9 1427.9 760 1431.3 762.7C1435.5 766.1 1439.7 772.1 1444 777.9C1448.2 783.8 1452.4 789.4 1456.7 793.2C1460.9 796.9 1465.1 798.8 1469.3 798.2C1474.4 797.6 1479.5 793.3 1484.6 790.6C1488.8 788.4 1493 787.3 1497.2 787.6C1501.5 787.9 1505.7 789.6 1509.9 791.9C1515.9 795.2 1521.8 799.7 1527.7 803.4C1534.5 807.6 1541.2 810.7 1548 813.5C1554.8 816.4 1561.5 818.8 1568.3 821.2C1573.4 822.9 1578.4 824.6 1583.5 825.7C1587.8 826.8 1592.1 827.4 1596.4 827C1601.5 826.5 1606.6 824.5 1611.6 822.5C1615.9 820.8 1620.1 819.1 1624.3 818.7C1627.7 818.4 1631.1 818.9 1634.5 821.2C1637.8 823.5 1641.2 827.6 1644.6 832.6C1648 837.7 1651.4 843.8 1654.8 849.1C1658.1 854.4 1661.5 858.9 1664.9 861.8C1668.2 864.7 1671.5 866.1 1674.8 867.4M153.3 540.7C155.5 530.6 157.8 520.4 160 510.3C162 503.9 164 497.5 166 491.1C173.6 478.8 181.2 466.8 188.8 455.5C189.2 454.9 189.6 454.3 190 453.7C197.2 442.4 204.4 431.7 211.6 421.5C212.8 419.9 213.9 418.3 215 416.7C221 406.8 227 397.9 233 394.4C233.1 394.4 233.1 394.4 233.2 394.4C238.7 393.2 244.2 396.6 249.7 406.4C253.9 413.9 258.1 425.2 262.4 440.7C267.4 459.4 272.5 484 277.6 500.3C282.7 516.5 287.7 524.4 292.8 529.3C295.2 531.7 297.6 533.4 300 534.5C301.8 535.5 303.7 536 305.5 536.3C314 537.2 322.4 530.1 330.9 529.7C338.5 529.3 346.1 534.3 353.7 540.8C362.2 548.1 370.6 557.1 379.1 563.4C387.5 569.8 396 573.5 404.4 578.4C412.9 583.3 421.4 589.2 429.8 593.4C438.3 597.5 446.7 599.8 455.2 600.7C463.6 601.6 472.1 601.1 480.5 597.9C485.6 596 490.7 593.1 495.8 587.6C497.2 586.1 498.6 584.4 500 582.6C506.2 574.6 512.4 564.1 518.6 557.1C527.1 547.6 535.5 544.5 544 541.9C550.7 539.8 557.5 537.9 564.3 538.1C572.7 538.2 581.2 541.5 589.6 539.3C600.6 536.4 611.6 524.2 622.6 524.1C630.2 523.9 637.8 529.6 645.4 536.7C653.9 544.7 662.4 554.5 670.8 562.1C680.5 570.8 690.3 576.6 700 581.1C705.1 583.4 710.1 585.4 715.2 586.2C721.1 587.1 727.1 586.5 733 586.9C738.9 587.3 744.8 588.8 750.7 592.5C755.8 595.6 760.9 600.4 766 607.7C771 615 776.1 624.9 781.2 635.6C786.3 646.3 791.3 657.8 796.4 668.5C801.5 679.3 806.6 689.3 811.6 696.4C816.7 703.5 821.8 707.8 826.8 710.4C831.1 712.6 835.3 713.6 839.5 713.7C845.5 713.7 851.4 711.6 857.3 706.5C862.4 702.2 867.4 695.7 872.5 688.8C876.7 683 881 677 885.2 673.5C889.4 670.1 893.7 669.1 897.9 669.7C902.1 670.3 906.3 672.4 910.6 674.8C916.5 678.1 922.4 681.8 928.3 684.9C936.8 689.4 945.2 692.7 953.7 696.3C962.2 699.9 970.6 703.8 979.1 707.7C986 710.9 993 714.2 1000 716.1C1004.2 717.3 1008.5 718 1012.7 717.4C1017.8 716.7 1022.8 714.2 1027.9 711.6C1033 708.9 1038.1 706 1043.1 706C1046.1 706 1049 707 1052 711C1055 715.1 1057.9 722.2 1060.9 731.3C1064.3 741.7 1067.7 754.6 1071 769.4C1074.4 784.1 1077.8 800.7 1081.2 815C1084.1 827.5 1087.1 838.2 1090.1 845.5C1093 852.7 1096 856.4 1098.9 856.9C1101.5 857.3 1104 855.3 1106.6 850.5C1109.9 844.1 1113.3 832.8 1116.7 825.1C1120.1 817.5 1123.5 813.7 1126.8 811.2C1130.2 808.7 1133.6 807.5 1137 807.9C1142.1 808.4 1147.1 812.3 1152.2 815C1159 818.5 1165.7 819.7 1172.5 820.8C1181 822.1 1189.4 823.2 1197.9 822C1202.1 821.4 1206.3 820.2 1210.6 817.4C1215.6 814.1 1220.7 808.4 1225.8 802.2C1230.9 796 1235.9 789.2 1241 784.4C1246.1 779.7 1251.2 777.1 1256.2 775.5C1260.5 774.2 1264.7 773.6 1268.9 773.8C1274.8 774 1280.8 775.6 1286.7 778.1C1293.4 780.9 1300.2 784.7 1307 789.5C1313.7 794.2 1320.5 800 1327.3 804.7C1334 809.4 1340.8 813.1 1347.6 814.8C1352.6 816.1 1357.7 816.3 1362.8 816C1370.4 815.7 1378 814.4 1385.6 812.7C1392.4 811.3 1399.2 809.5 1405.9 807.1C1411 805.4 1416.1 803.2 1421.1 803.3C1424.5 803.4 1427.9 804.4 1431.3 807.1C1435.5 810.5 1439.7 816.5 1444 822.3C1448.2 828.1 1452.4 833.8 1456.7 837.5C1460.9 841.3 1465.1 843.2 1469.3 842.6C1474.4 841.9 1479.5 837.6 1484.6 835C1488.8 832.7 1493 831.6 1497.2 831.9C1501.5 832.2 1505.7 833.9 1509.9 836.2C1515.9 839.5 1521.8 844 1527.7 847.6C1534.5 851.8 1541.2 854.9 1548 857.8C1554.8 860.6 1561.5 863 1568.3 865.3C1573.4 867.1 1578.4 868.7 1583.5 869.9C1587.8 870.9 1592.1 871.6 1596.4 871.2C1601.5 870.7 1606.6 868.6 1611.6 866.6C1615.9 864.9 1620.1 863.1 1624.3 862.8C1627.7 862.5 1631.1 863 1634.5 865.3C1637.8 867.6 1641.2 871.6 1644.6 876.7C1648 881.8 1651.4 887.9 1654.8 893.2C1658.1 898.5 1661.5 902.9 1664.9 905.9C1668.2 908.7 1671.5 910.1 1674.8 911.4" class="d" stroke="#46548f"/>
<path d="M153.3 465.6C165.1 447.4 177 429.1 188.8 412.4C196.4 401.6 204 391.5 211.6 381.9C218.8 372.9 226 364.3 233.2 363.4C238.7 362.7 244.2 366.6 249.7 376.8C253.9 384.8 258.1 396.5 262.4 412.4C267.4 431.4 272.5 456.6 277.6 473.3C282.7 490 287.7 498.3 292.8 503.7C297 508.2 301.3 510.8 305.5 511.3C314 512.4 322.4 505.3 330.9 505C338.5 504.7 346.1 509.8 353.7 516.4C362.2 523.7 370.6 532.8 379.1 539.2C387.5 545.7 396 549.5 404.4 554.4C412.9 559.4 421.4 565.4 429.8 569.7C438.3 573.9 446.7 576.3 455.2 577.3C463.6 578.3 472.1 577.9 480.5 574.7C485.6 572.9 490.7 570 495.8 564.6C503.4 556.5 511 542.7 518.6 534.1C527.1 524.6 535.5 521.6 544 518.9C550.7 516.8 557.5 515 564.3 515.1C572.7 515.3 581.2 518.6 589.6 516.4C600.6 513.5 611.6 501.3 622.6 501.2C630.2 501 637.8 506.7 645.4 513.8C653.9 521.8 662.4 531.6 670.8 539.2C680.5 548 690.3 553.8 700 558.3C705.1 560.6 710.1 562.5 715.2 563.3C721.1 564.3 727.1 563.7 733 564.1C738.9 564.5 744.8 566 750.7 569.7C755.8 572.8 760.9 577.6 766 584.9C771 592.2 776.1 602.1 781.2 612.8C786.3 623.5 791.3 635 796.4 645.8C801.5 656.6 806.6 666.6 811.6 673.7C816.7 680.8 821.8 685 826.8 687.7C831.1 689.8 835.3 690.9 839.5 690.9C845.5 691 851.4 688.9 857.3 683.8C862.4 679.5 867.4 673 872.5 666.1C876.7 660.3 881 654.3 885.2 650.9C889.4 647.4 893.7 646.5 897.9 647.1C902.1 647.7 906.3 649.8 910.6 652.1C916.5 655.4 922.4 659.1 928.3 662.3C936.8 666.8 945.2 670.1 953.7 673.7C962.2 677.3 970.6 681.2 979.1 685.1C986 688.4 993 691.6 1000 693.6C1004.2 694.7 1008.5 695.4 1012.7 694.8C1017.8 694.2 1022.8 691.7 1027.9 689C1033 686.3 1038.1 683.4 1043.1 683.4C1046.1 683.4 1049 684.4 1052 688.5C1055 692.6 1057.9 699.7 1060.9 708.8C1064.3 719.2 1067.7 732.1 1071 746.8C1074.4 761.6 1077.8 778.2 1081.2 792.5C1084.1 805 1087.1 815.7 1090.1 823C1093 830.2 1096 833.9 1098.9 834.4C1101.5 834.8 1104 832.8 1106.6 828C1109.9 821.7 1113.3 810.3 1116.7 802.7C1120.1 795.1 1123.5 791.2 1126.8 788.7C1130.2 786.2 1133.6 785.1 1137 785.4C1142.1 785.9 1147.1 789.9 1152.2 792.5C1159 796 1165.7 797.3 1172.5 798.3C1181 799.7 1189.4 800.8 1197.9 799.6C1202.1 799 1206.3 797.8 1210.6 795.1C1215.6 791.7 1220.7 786.1 1225.8 779.8C1230.9 773.6 1235.9 766.8 1241 762.1C1246.1 757.4 1251.2 754.8 1256.2 753.2C1260.5 751.9 1264.7 751.3 1268.9 751.4C1274.8 751.6 1280.8 753.3 1286.7 755.7C1293.4 758.5 1300.2 762.4 1307 767.1C1313.7 771.9 1320.5 777.7 1327.3 782.4C1334 787.1 1340.8 790.8 1347.6 792.5C1352.6 793.8 1357.7 794 1362.8 793.8C1370.4 793.4 1378 792.1 1385.6 790.5C1392.4 789 1399.2 787.3 1405.9 784.9C1411 783.1 1416.1 781 1421.1 781.1C1424.5 781.2 1427.9 782.2 1431.3 784.9C1435.5 788.3 1439.7 794.3 1444 800.1C1448.2 805.9 1452.4 811.6 1456.7 815.3C1460.9 819.1 1465.1 821 1469.3 820.4C1474.4 819.7 1479.5 815.5 1484.6 812.8C1488.8 810.6 1493 809.5 1497.2 809.8C1501.5 810.1 1505.7 811.8 1509.9 814.1C1515.9 817.3 1521.8 821.8 1527.7 825.5C1534.5 829.7 1541.2 832.8 1548 835.6C1554.8 838.5 1561.5 840.9 1568.3 843.3C1573.4 845 1578.4 846.6 1583.5 847.8C1587.8 848.8 1592.1 849.5 1596.4 849.1C1601.5 848.6 1606.6 846.6 1611.6 844.5C1615.9 842.8 1620.1 841.1 1624.3 840.7C1627.7 840.4 1631.1 841 1634.5 843.3C1637.8 845.5 1641.2 849.6 1644.6 854.7C1648 859.7 1651.4 865.9 1654.8 871.2C1658.1 876.5 1661.5 880.9 1664.9 883.8C1668.2 886.7 1671.5 888.1 1674.8 889.4" class="h"/>
<path d="M153.3 465.6C165.1 447.4 177 429.1 188.8 412.4C196.4 401.6 204 391.5 211.6 381.9C218.8 372.9 226 364.3 233.2 363.4C238.7 362.7 244.2 366.6 249.7 376.8C253.9 384.8 258.1 396.5 262.4 412.4C267.4 431.4 272.5 456.6 277.6 473.3C282.7 490 287.7 498.3 292.8 503.7C297 508.2 301.3 510.8 305.5 511.3C314 512.4 322.4 505.3 330.9 505C338.5 504.7 346.1 509.8 353.7 516.4C362.2 523.7 370.6 532.8 379.1 539.2C387.5 545.7 396 549.5 404.4 554.4C412.9 559.4 421.4 565.4 429.8 569.7C438.3 573.9 446.7 576.3 455.2 577.3C463.6 578.3 472.1 577.9 480.5 574.7C485.6 572.9 490.7 570 495.8 564.6C503.4 556.5 511 542.7 518.6 534.1C527.1 524.6 535.5 521.6 544 518.9C550.7 516.8 557.5 515 564.3 515.1C572.7 515.3 581.2 518.6 589.6 516.4C600.6 513.5 611.6 501.3 622.6 501.2C630.2 501 637.8 506.7 645.4 513.8C653.9 521.8 662.4 531.6 670.8 539.2C680.5 548 690.3 553.8 700 558.3C705.1 560.6 710.1 562.5 715.2 563.3C721.1 564.3 727.1 563.7 733 564.1C738.9 564.5 744.8 566 750.7 569.7C755.8 572.8 760.9 577.6 766 584.9C771 592.2 776.1 602.1 781.2 612.8C786.3 623.5 791.3 635 796.4 645.8C801.5 656.6 806.6 666.6 811.6 673.7C816.7 680.8 821.8 685 826.8 687.7C831.1 689.8 835.3 690.9 839.5 690.9C845.5 691 851.4 688.9 857.3 683.8C862.4 679.5 867.4 673 872.5 666.1C876.7 660.3 881 654.3 885.2 650.9C889.4 647.4 893.7 646.5 897.9 647.1C902.1 647.7 906.3 649.8 910.6 652.1C916.5 655.4 922.4 659.1 928.3 662.3C936.8 666.8 945.2 670.1 953.7 673.7C962.2 677.3 970.6 681.2 979.1 685.1C986 688.4 993 691.6 1000 693.6C1004.2 694.7 1008.5 695.4 1012.7 694.8C1017.8 694.2 1022.8 691.7 1027.9 689C1033 686.3 1038.1 683.4 1043.1 683.4C1046.1 683.4 1049 684.4 1052 688.5C1055 692.6 1057.9 699.7 1060.9 708.8C1064.3 719.2 1067.7 732.1 1071 746.8C1074.4 761.6 1077.8 778.2 1081.2 792.5C1084.1 805 1087.1 815.7 1090.1 823C1093 830.2 1096 833.9 1098.9 834.4C1101.5 834.8 1104 832.8 1106.6 828C1109.9 821.7 1113.3 810.3 1116.7 802.7C1120.1 795.1 1123.5 791.2 1126.8 788.7C1130.2 786.2 1133.6 785.1 1137 785.4C1142.1 785.9 1147.1 789.9 1152.2 792.5C1159 796 1165.7 797.3 1172.5 798.3C1181 799.7 1189.4 800.8 1197.9 799.6C1202.1 799 1206.3 797.8 1210.6 795.1C1215.6 791.7 1220.7 786.1 1225.8 779.8C1230.9 773.6 1235.9 766.8 1241 762.1C1246.1 757.4 1251.2 754.8 1256.2 753.2C1260.5 751.9 1264.7 751.3 1268.9 751.4C1274.8 751.6 1280.8 753.3 1286.7 755.7C1293.4 758.5 1300.2 762.4 1307 767.1C1313.7 771.9 1320.5 777.7 1327.3 782.4C1334 787.1 1340.8 790.8 1347.6 792.5C1352.6 793.8 1357.7 794 1362.8 793.8C1370.4 793.4 1378 792.1 1385.6 790.5C1392.4 789 1399.2 787.3 1405.9 784.9C1411 783.1 1416.1 781 1421.1 781.1C1424.5 781.2 1427.9 782.2 1431.3 784.9C1435.5 788.3 1439.7 794.3 1444 800.1C1448.2 805.9 1452.4 811.6 1456.7 815.3C1460.9 819.1 1465.1 821 1469.3 820.4C1474.4 819.7 1479.5 815.5 1484.6 812.8C1488.8 810.6 1493 809.5 1497.2 809.8C1501.5 810.1 1505.7 811.8 1509.9 814.1C1515.9 817.3 1521.8 821.8 1527.7 825.5C1534.5 829.7 1541.2 832.8 1548 835.6C1554.8 838.5 1561.5 840.9 1568.3 843.3C1573.4 845 1578.4 846.6 1583.5 847.8C1587.8 848.8 1592.1 849.5 1596.4 849.1C1601.5 848.6 1606.6 846.6 1611.6 844.5C1615.9 842.8 1620.1 841.1 1624.3 840.7C1627.7 840.4 1631.1 841 1634.5 843.3C1637.8 845.5 1641.2 849.6 1644.6 854.7C1648 859.7 1651.4 865.9 1654.8 871.2C1658.1 876.5 1661.5 880.9 1664.9 883.8C1668.2 886.7 1671.5 888.1 1674.8 889.4" class="l" stroke="#3b4ca8"/>
<path d="M1098.5 285.6h0M1079 319.8h0M1086 353.9h0m102.5 0h0M1113 371h0M1125.5 388h0m103.5 0h0M1078.5 405.1h0m90 0h0m51.5 0h0m240 0h0M1072.5 422.2h0m54.5 0h0m48 0h0m50.5 0h0m197.5 0h0M1125 439.3h0m31.5 0h0m27.5 0h0m30.5 0h0m52 0h0m54 0h0m64.5 0h0m139 0h0m69.5 0h0M1145 456.4h0m48 0h0m31.5 0h0m30 0h0m101 0h0m40.5 0h0m62.5 0h0m72.5 0h0m30.5 0h0m66 0h0M1067.5 473.4h0m91.5 0h0m33 0h0m62 0h0m40 0h0m33 0h0m17 0h0m48 0h0m49.5 0h0m60.5 0h0m70 0h0m68.5 0h0m15.5 0h0M1060.5 490.5h0m104 0h0m79 0h0m55.5 0h0m32 0h0m51 0h0m40 0h0m75.5 0h0m34 0h0m42 0h0m26.5 0h0m38 0h0m13 0h0m13.5 0h0M1018 507.6h0m51.5 0h0m183.5 0h0m85.5 0h0m68 0h0m70.5 0h0m53.5 0h0m60 0h0m34 0h0m23.5 0h0m7.5 0h0m7.5 0h0M410 524.6h0m524.5 0h0m107 0h0m238 0h0m93 0h0m108 0h0m56 0h0m79 0h0m31 0h0m14.5 0h0m6 0h0M384 541.7h0m113 0h0m359 0h0m60 0h0m46.5 0h0m44.5 0h0m35.5 0h0m284.5 0h0m162 0h0m71 0h0m71 0h0m22 0h0m12 0h0M408 558.8h0m33.5 0h0m48 0h0m331.5 0h0m56.5 0h0m24.5 0h0m25.5 0h0m20.5 0h0m44.5 0h0m23.5 0h0m22.5 0h0m558.5 0h0m66.5 0h0m7 0h0M321 575.9h0m95.5 0h0m42.5 0h0m23.5 0h0m38 0h0m288 0h0m55 0h0m18.5 0h0m27 0h0m26.5 0h0m37 0h0m22 0h0m39 0h0m632 0h0m4.5 0h0m5.5 0h0M284 592.9h0m24.5 0h0m53.5 0h0m61.5 0h0m43.5 0h0m42 0h0m111 0h0m199.5 0h0m46 0h0m34.5 0h0m25 0h0m43.5 0h0m690 0h0m15.5 0h0M351 610h0m47 0h0m84 0h0m29 0h0m45.5 0h0m184 0h0m68.5 0h0m128 0h0m641.5 0h0M322 627.1h0m37.5 0h0m138 0h0m34.5 0h0m26.5 0h0m146 0h0m43.5 0h0m42.5 0h0m880 0h0M261.5 644.2h0m271 0h0m27.5 0h0m27 0h0m101.5 0h0m47.5 0h0m36.5 0h0m31 0h0M276.5 661.2h0m281 0h0m41 0h0m43 0h0m50 0h0m36.5 0h0M259.5 678.3h0m355.5 0h0m28.5 0h0m48.5 0h0m47 0h0M253.5 695.4h0m365.5 0h0m32 0h0m42.5 0h0M200.5 712.5h0m456.5 0h0M156 729.5h0m81 0h0M197 780.8h0" class="p" stroke="#dc1f14"/>
<path d="M1097.5 268.5h0M1086 319.8h0M1091.5 353.9h0m97.5 0h0M1124 371h0M1075 388h0m61.5 0h0m133 0h0M1082.5 405.1h0m92.5 0h0m50 0h0M1075 422.2h0m53 0h0m50 0h0m60.5 0h0m245 0h0M1133 439.3h0m24 0h0m31.5 0h0m34.5 0h0m68.5 0h0m38.5 0h0m78.5 0h0m115.5 0h0m84 0h0M1145 456.4h0m53.5 0h0m27 0h0m43 0h0m89.5 0h0m46.5 0h0m69.5 0h0m59.5 0h0m34 0h0m63.5 0h0M1068.5 473.4h0m91 0h0m50.5 0h0m48 0h0m40 0h0m33 0h0m15.5 0h0m49.5 0h0m48 0h0m69 0h0m61 0h0m70 0h0m12.5 0h0M1063.5 490.5h0m110.5 0h0m69.5 0h0m59.5 0h0m29.5 0h0m54.5 0h0m35.5 0h0m75.5 0h0m41.5 0h0m35 0h0m31.5 0h0m35 0h0m12 0h0m13.5 0h0M1021 507.6h0m109.5 0h0m137 0h0m94 0h0m50.5 0h0m66.5 0h0m86.5 0h0m26.5 0h0m34.5 0h0m23.5 0h0m7 0h0m6.5 0h0M853.5 524.6h0m87.5 0h0m224 0h0m121 0h0m91 0h0m108.5 0h0m66.5 0h0m82 0h0m13.5 0h0m13.5 0h0m7 0h0M398.5 541.7h0m424 0h0m35 0h0m61 0h0m54.5 0h0m35 0h0m44 0h0m304.5 0h0m142 0h0m69.5 0h0m67.5 0h0m21 0h0m9 0h0M302.5 558.8h0m106.5 0h0m44.5 0h0m40.5 0h0m342 0h0m44.5 0h0m23.5 0h0m24.5 0h0m24 0h0m41 0h0m28.5 0h0m42 0h0m585.5 0h0m14 0h0m7.5 0h0M349.5 575.9h0m84 0h0m28.5 0h0m23.5 0h0m46 0h0m286 0h0m48 0h0m18.5 0h0m26 0h0m26.5 0h0m37 0h0m23 0h0m38.5 0h0m632.5 0h0m4.5 0h0M292.5 592.9h0m22.5 0h0m61.5 0h0m56.5 0h0m34.5 0h0m43 0h0m229 0h0m85.5 0h0m43.5 0h0m36 0h0m35 0h0m32.5 0h0m687 0h0m15.5 0h0M286 610h0m65.5 0h0m47 0h0m86.5 0h0m33.5 0h0m42.5 0h0m182 0h0m72.5 0h0m132 0h0m707 0h0M328 627.1h0m37.5 0h0m135.5 0h0m33.5 0h0m27 0h0m144.5 0h0m42 0h0m49.5 0h0M272.5 644.2h0m260 0h0m30 0h0m24.5 0h0m108.5 0h0m41 0h0m39 0h0m34 0h0M323.5 661.2h0m235 0h0m44.5 0h0m45.5 0h0m43.5 0h0m39.5 0h0M261.5 678.3h0m353.5 0h0m31.5 0h0m46 0h0m49.5 0h0M342.5 695.4h0m281.5 0h0m31.5 0h0m41.5 0h0M241.5 712.5h0m423.5 0h0M183 729.5h0m54 0h0M161 763.7h0" class="p" stroke="#dc1f14"/>
<path d="M1101 319.8h0M1092.5 353.9h0m105 0h0M1134 371h0M1076 388h0m63 0h0m229 0h0M1085.5 405.1h0m89.5 0h0m109 0h0M1083 422.2h0m51 0h0m49 0h0m80 0h0m220.5 0h0M1134 439.3h0m30.5 0h0m30.5 0h0m34 0h0m73 0h0m46.5 0h0m63.5 0h0m116 0h0m86.5 0h0M1148 456.4h0m52.5 0h0m30 0h0m52 0h0m77.5 0h0m59.5 0h0m55.5 0h0m64 0h0m30.5 0h0m73 0h0M1070.5 473.4h0m89.5 0h0m55.5 0h0m46 0h0m39.5 0h0m31.5 0h0m14.5 0h0m49.5 0h0m56.5 0h0m63.5 0h0m77 0h0m52 0h0m13.5 0h0M1067 490.5h0m126.5 0h0m53 0h0m61 0h0m43.5 0h0m36.5 0h0m43 0h0m69 0h0m43 0h0m38.5 0h0m39.5 0h0m24 0h0m11 0h0m14.5 0h0M1025.5 507.6h0m131 0h0m126.5 0h0m81.5 0h0m59 0h0m57.5 0h0m87 0h0m30 0h0m32 0h0m20 0h0m6.5 0h0m8.5 0h0M858 524.6h0m113.5 0h0m200 0h0m118 0h0m97 0h0m106.5 0h0m66 0h0m75 0h0m18 0h0m9.5 0h0m10.5 0h0M402.5 541.7h0m428.5 0h0m35.5 0h0m54 0h0m53 0h0m49.5 0h0m30 0h0m362 0h0m87 0h0m93 0h0m51 0h0m12 0h0m7.5 0h0M304.5 558.8h0m104.5 0h0m46.5 0h0m44 0h0m340.5 0h0m42 0h0m31 0h0m20 0h0m32.5 0h0m34.5 0h0m25.5 0h0m43 0h0m583.5 0h0m12 0h0m8 0h0M367 575.9h0m68.5 0h0m33 0h0m19 0h0m69.5 0h0m264.5 0h0m44.5 0h0m18.5 0h0m26 0h0m28.5 0h0m37 0h0m27 0h0m59 0h0m605.5 0h0m4.5 0h0M295 592.9h0m22.5 0h0m62.5 0h0m58.5 0h0m35 0h0m48.5 0h0m252.5 0h0m53.5 0h0m57 0h0m20 0h0m34.5 0h0m44 0h0m678 0h0m13.5 0h0M300.5 610h0m58 0h0m67 0h0m60 0h0m40.5 0h0m38 0h0m196 0h0m57.5 0h0m141 0h0m706 0h0M328.5 627.1h0m38.5 0h0m136.5 0h0m35 0h0m27 0h0m146.5 0h0m37.5 0h0m51.5 0h0M312.5 644.2h0m233 0h0m19.5 0h0m26 0h0m114.5 0h0m38 0h0m35 0h0m897 0h0M326.5 661.2h0m237.5 0h0m44 0h0m50.5 0h0m44.5 0h0m47 0h0M268 678.3h0m353.5 0h0m30 0h0m52.5 0h0m40.5 0h0M548.5 695.4h0m81.5 0h0m26 0h0m50 0h0M262.5 712.5h0m412 0h0M183 729.5h0m414.5 0h0M233.5 763.7h0" class="p" stroke="#dc1f14"/>
<path d="M1097 302.7h0M1090.5 336.8h0M1100 353.9h0M1087 371h0m97.5 0h0M1077 388h0m111.5 0h0M1096.5 405.1h0m91.5 0h0m146 0h0M1099.5 422.2h0m39 0h0m50 0h0m170 0h0m165 0h0M1140 439.3h0m27 0h0m28.5 0h0m40 0h0m72 0h0m42 0h0m74.5 0h0m107 0h0m90 0h0M1168 456.4h0m37.5 0h0m30 0h0m49.5 0h0m85.5 0h0m66 0h0m39 0h0m66 0h0m34 0h0m71 0h0M1017.5 473.4h0m54 0h0m103.5 0h0m49 0h0m38 0h0m40 0h0m36 0h0m14 0h0m47 0h0m61.5 0h0m68.5 0h0m75 0h0m42 0h0m17.5 0h0M1068 490.5h0m135 0h0m51 0h0m55.5 0h0m43.5 0h0m35 0h0m49.5 0h0m69.5 0h0m39.5 0h0m37 0h0m38.5 0h0m24.5 0h0m9.5 0h0M1045 507.6h0m143.5 0h0m98.5 0h0m78.5 0h0m68 0h0m57 0h0m82.5 0h0m36.5 0h0m21 0h0m20.5 0h0m6 0h0m8.5 0h0M875.5 524.6h0m124 0h0m172.5 0h0m122.5 0h0m135.5 0h0m64 0h0m97 0h0m45 0h0m17.5 0h0m9.5 0h0m12.5 0h0M408 541.7h0m430 0h0m49 0h0m34.5 0h0m57.5 0h0m46 0h0m38 0h0m371.5 0h0m72 0h0m97.5 0h0m43.5 0h0m11 0h0m7.5 0h0M372.5 558.8h0m43 0h0m40.5 0h0m43.5 0h0m342 0h0m41 0h0m34.5 0h0m20.5 0h0m34.5 0h0m32 0h0m27.5 0h0m439 0h0m182.5 0h0m11 0h0m8 0h0M275 575.9h0m98.5 0h0m62.5 0h0m33 0h0m20 0h0m282 0h0m53.5 0h0m50 0h0m19 0h0m24 0h0m27 0h0m37.5 0h0m23.5 0h0m462.5 0h0m200 0h0m5.5 0h0M298.5 592.9h0m25 0h0m63.5 0h0m52 0h0m46 0h0m42 0h0m251.5 0h0m55 0h0m54 0h0m23.5 0h0m31 0h0m58.5 0h0m662.5 0h0M316 610h0m46 0h0m66 0h0m60 0h0m46 0h0m31 0h0m205 0h0m57 0h0m142 0h0m699 0h0M266 627.1h0m66.5 0h0m36.5 0h0m148.5 0h0m22 0h0m37.5 0h0m138.5 0h0m36 0h0m51.5 0h0M325 644.2h0m221.5 0h0m24 0h0m31.5 0h0m108.5 0h0m35 0h0m34.5 0h0M525.5 661.2h0m49.5 0h0m33 0h0m53 0h0m43.5 0h0m47.5 0h0M546 678.3h0m78 0h0m37.5 0h0m44 0h0m46.5 0h0M600.5 695.4h0m34 0h0m24.5 0h0m49 0h0M607 712.5h0m110.5 0h0M194.5 729.5h0m425.5 0h0M201.5 746.6h0" class="p" stroke="#dc1f14"/>
<path d="M1101.5 302.7h0M1091 336.8h0M1105 353.9h0M1089.5 371h0m126 0h0M1085.5 388h0m107.5 0h0M1099.5 405.1h0m102 0h0m141 0h0M1104 422.2h0m37 0h0m48 0h0m187.5 0h0m164.5 0h0M1140.5 439.3h0m33 0h0m24 0h0m51 0h0m65.5 0h0m41.5 0h0m69.5 0h0m119 0h0m83.5 0h0M1070.5 456.4h0m99.5 0h0m38 0h0m31 0h0m99 0h0m33 0h0m66.5 0h0m64 0h0m42 0h0m36 0h0m71 0h0M1029.5 473.4h0m107.5 0h0m44.5 0h0m44 0h0m47 0h0m36.5 0h0m29.5 0h0m29 0h0m34 0h0m72 0h0m57.5 0h0m85.5 0h0m30.5 0h0M1132 490.5h0m81.5 0h0m62 0h0m38 0h0m40.5 0h0m38 0h0m77.5 0h0m39 0h0m45.5 0h0m34 0h0m43.5 0h0m17.5 0h0m8.5 0h0M845 507.6h0m209 0h0m182 0h0m63 0h0m71 0h0m69 0h0m69.5 0h0m71.5 0h0m32.5 0h0m23.5 0h0m16.5 0h0m6 0h0m13.5 0h0M881.5 524.6h0m122 0h0m253.5 0h0m39.5 0h0m139.5 0h0m63.5 0h0m94.5 0h0m43 0h0m17.5 0h0m9 0h0M415 541.7h0m426.5 0h0m48 0h0m36.5 0h0m57 0h0m53.5 0h0m29 0h0m419 0h0m28.5 0h0m92.5 0h0m42.5 0h0m13.5 0h0m5.5 0h0M377.5 558.8h0m46.5 0h0m32 0h0m62 0h0m328 0h0m38 0h0m34 0h0m20 0h0m46.5 0h0m21.5 0h0m28.5 0h0m481.5 0h0m138.5 0h0m12.5 0h0m6 0h0M298 575.9h0m85 0h0m56.5 0h0m29.5 0h0m27.5 0h0m299.5 0h0m42.5 0h0m36.5 0h0m23 0h0m22 0h0m31 0h0m37 0h0m20.5 0h0m511.5 0h0m148 0h0m6 0h0M302.5 592.9h0m35.5 0h0m55.5 0h0m53.5 0h0m38 0h0m43.5 0h0m261 0h0m45 0h0m55.5 0h0m21.5 0h0m33.5 0h0m71.5 0h0m648 0h0M330.5 610h0m35 0h0m65 0h0m58.5 0h0m52.5 0h0m119 0h0m113 0h0m109 0h0m93 0h0m696 0h0M272.5 627.1h0m63.5 0h0m49 0h0m135.5 0h0m21 0h0m70 0h0m114.5 0h0m29 0h0m141.5 0h0M342.5 644.2h0m206.5 0h0m22.5 0h0m39.5 0h0m107 0h0m33.5 0h0m34.5 0h0M532 661.2h0m43 0h0m37 0h0m51.5 0h0m43.5 0h0m49.5 0h0M580 678.3h0m49.5 0h0m40 0h0m39 0h0m44.5 0h0M163.5 695.4h0m437 0h0m34.5 0h0m29 0h0m57 0h0M630.5 712.5h0M205 729.5h0m449 0h0M232 746.6h0" class="p" stroke="#dc1f14"/>
<path d="M1102 302.7h0M1096 336.8h0M1129 353.9h0M1090.5 371h0m257 0h0M1088 388h0m110 0h0M1101.5 405.1h0m101.5 0h0m145 0h0M1115.5 422.2h0m29 0h0m46.5 0h0m195 0h0m166 0h0M1144 439.3h0m33.5 0h0m31.5 0h0m43 0h0m62 0h0m48.5 0h0m103.5 0h0m85 0h0m86 0h0M1077 456.4h0m98 0h0m33.5 0h0m32.5 0h0m101.5 0h0m32.5 0h0m72 0h0m57.5 0h0m39 0h0m37.5 0h0m84.5 0h0M1058.5 473.4h0m85.5 0h0m40 0h0m43 0h0m54 0h0m29 0h0m29 0h0m36 0h0m29 0h0m88.5 0h0m43 0h0m91.5 0h0m23 0h0M832.5 490.5h0m310 0h0m74.5 0h0m59.5 0h0m41.5 0h0m41 0h0m33.5 0h0m86.5 0h0m34.5 0h0m56 0h0m26 0h0m37.5 0h0m16.5 0h0m9 0h0M850 507.6h0m208.5 0h0m178 0h0m76 0h0m60 0h0m76.5 0h0m63 0h0m71 0h0m31 0h0m25 0h0m15 0h0m4.5 0h0M882 524.6h0m137 0h0m238.5 0h0m40 0h0m146.5 0h0m63.5 0h0m90.5 0h0m41 0h0m17.5 0h0m7 0h0M432.5 541.7h0m417 0h0m42.5 0h0m45.5 0h0m58.5 0h0m42 0h0m28 0h0m420.5 0h0m45 0h0m75 0h0m43.5 0h0m13 0h0m4.5 0h0M396.5 558.8h0m33 0h0m38.5 0h0m328.5 0h0m50.5 0h0m39 0h0m33 0h0m19 0h0m46.5 0h0m25 0h0m25.5 0h0m528.5 0h0m91.5 0h0m15 0h0m3 0h0M298 575.9h0m88.5 0h0m59.5 0h0m23 0h0m36 0h0m295.5 0h0m50.5 0h0m26 0h0m26 0h0m17 0h0m38.5 0h0m30 0h0m31.5 0h0m630.5 0h0m18 0h0m5.5 0h0M304.5 592.9h0m34 0h0m55 0h0m66.5 0h0m28 0h0m49.5 0h0m259.5 0h0m43.5 0h0m50 0h0m25.5 0h0m40.5 0h0m75 0h0m634 0h0M333.5 610h0m33.5 0h0m87.5 0h0m40 0h0m48 0h0m129.5 0h0m115 0h0m99 0h0m98 0h0m688 0h0M276 627.1h0m61 0h0m113 0h0m76.5 0h0m16 0h0m122.5 0h0m65 0h0m25.5 0h0m197.5 0h0M348.5 644.2h0m201.5 0h0m22 0h0m79 0h0m68.5 0h0m44.5 0h0m26.5 0h0M550 661.2h0m31.5 0h0m31 0h0m63 0h0m35.5 0h0m54.5 0h0M593 678.3h0m41 0h0m37 0h0m52.5 0h0m35.5 0h0M216.5 695.4h0m385 0h0m38 0h0m27 0h0m69.5 0h0M167.5 712.5h0m470.5 0h0M209.5 729.5h0M236.5 746.6h0" class="p" stroke="#dc1f14"/>
<path d="M1134 302.7h0M1100.5 336.8h0M1164.5 353.9h0M1098.5 371h0m286.5 0h0M1096.5 388h0m105 0h0M1106.5 405.1h0m96.5 0h0m169 0h0M1121 422.2h0m30.5 0h0m54.5 0h0m192 0h0m196 0h0M1071 439.3h0m81 0h0m26 0h0m32.5 0h0m44 0h0m60.5 0h0m64 0h0m90 0h0m91 0h0m79.5 0h0M1080 456.4h0m95 0h0m33.5 0h0m38 0h0m106 0h0m24 0h0m72 0h0m58.5 0h0m43 0h0m31 0h0M1064 473.4h0m81 0h0m42 0h0m45 0h0m54 0h0m26 0h0m29 0h0m36.5 0h0m42 0h0m76.5 0h0m43 0h0m96.5 0h0m19 0h0M1027 490.5h0m126.5 0h0m76.5 0h0m47 0h0m43 0h0m49.5 0h0m33 0h0m80.5 0h0m33 0h0m56.5 0h0m24.5 0h0m40.5 0h0m12.5 0h0m11.5 0h0M880.5 507.6h0m180.5 0h0m187 0h0m73 0h0m62 0h0m74.5 0h0m63 0h0m64.5 0h0m29.5 0h0m33 0h0m6.5 0h0m6.5 0h0M918.5 524.6h0m117 0h0m230.5 0h0m39.5 0h0m140 0h0m62 0h0m99 0h0m37 0h0m15.5 0h0m6.5 0h0M472.5 541.7h0m378 0h0m64 0h0m32 0h0m50.5 0h0m41.5 0h0m233.5 0h0m214.5 0h0m56 0h0m75 0h0m32.5 0h0m14.5 0h0m3 0h0M397 558.8h0m43 0h0m37.5 0h0m324 0h0m56.5 0h0m30 0h0m37 0h0m15.5 0h0m49 0h0m21 0h0m26.5 0h0m551 0h0m70.5 0h0m11.5 0h0m5 0h0M303 575.9h0m98 0h0m51 0h0m19 0h0m36.5 0h0m294.5 0h0m51.5 0h0m24.5 0h0m28 0h0m19 0h0m36.5 0h0m28.5 0h0m33.5 0h0m631.5 0h0m15 0h0m4.5 0h0M304.5 592.9h0m34 0h0m56.5 0h0m66.5 0h0m31.5 0h0m58 0h0m256 0h0m49 0h0m38 0h0m25 0h0m43.5 0h0m77 0h0m629.5 0h0M334 610h0m41.5 0h0m87.5 0h0m41.5 0h0m39 0h0m142.5 0h0m105.5 0h0m99.5 0h0m102.5 0h0m679 0h0M299 627.1h0m45 0h0m115.5 0h0m68.5 0h0m20 0h0m152 0h0m35 0h0m44 0h0m273 0h0M473.5 644.2h0m81.5 0h0m24.5 0h0m96.5 0h0m56 0h0m36.5 0h0m23 0h0M556.5 661.2h0m27 0h0m40 0h0m54.5 0h0m33.5 0h0m65 0h0M605.5 678.3h0m33.5 0h0m36.5 0h0m51.5 0h0m34 0h0M244 695.4h0m359 0h0m41 0h0m48.5 0h0m47.5 0h0M168 712.5h0m476.5 0h0M217.5 729.5h0M653.5 746.6h0" class="p" stroke="#dc1f14"/>
<path d="M1096.5 285.6h0M1101 336.8h0M1084 353.9h0m87.5 0h0M1101 371h0M1123.5 388h0m92.5 0h0M1118 405.1h0m97.5 0h0m241.5 0h0M1070 422.2h0m53 0h0m36 0h0m48.5 0h0m203.5 0h0m189.5 0h0M1089.5 439.3h0m63.5 0h0m30 0h0m30.5 0h0m44 0h0m59.5 0h0m66.5 0h0m98.5 0h0m99.5 0h0M1131 456.4h0m45.5 0h0m47.5 0h0m28 0h0m101 0h0m26 0h0m75 0h0m68.5 0h0m36.5 0h0m45.5 0h0M1064.5 473.4h0m93 0h0m31.5 0h0m59 0h0m40 0h0m33.5 0h0m20.5 0h0m43.5 0h0m44.5 0h0m68.5 0h0m63.5 0h0m75 0h0m17.5 0h0M1042.5 490.5h0m111.5 0h0m80 0h0m58 0h0m36 0h0m49 0h0m39 0h0m72.5 0h0m32.5 0h0m52.5 0h0m25 0h0m39 0h0m13 0h0m11 0h0M1017.5 507.6h0m46.5 0h0m185.5 0h0m79 0h0m59.5 0h0m89 0h0m45.5 0h0m67 0h0m33.5 0h0m24.5 0h0m7 0h0m7 0h0M932 524.6h0m103.5 0h0m244 0h0m28 0h0m169.5 0h0m39.5 0h0m98.5 0h0m30 0h0m15.5 0h0m5 0h0M487.5 541.7h0m365.5 0h0m62 0h0m33.5 0h0m57.5 0h0m33 0h0m244 0h0m205.5 0h0m56 0h0m80 0h0m27 0h0m13.5 0h0m7 0h0M399.5 558.8h0m41.5 0h0m44 0h0m326.5 0h0m64.5 0h0m22.5 0h0m28.5 0h0m14 0h0m49.5 0h0m21.5 0h0m25 0h0m555.5 0h0m69.5 0h0m8.5 0h0m5 0h0M313.5 575.9h0m94.5 0h0m48 0h0m20 0h0m41 0h0m289 0h0m54.5 0h0m18 0h0m27.5 0h0m27.5 0h0m37 0h0m24 0h0m29.5 0h0m639 0h0m7 0h0m5 0h0M306 592.9h0m35.5 0h0m71.5 0h0m53 0h0m41 0h0m47.5 0h0m261 0h0m49.5 0h0m33.5 0h0m25 0h0m43 0h0m77 0h0m629.5 0h0M344.5 610h0m38 0h0m83.5 0h0m41 0h0m48 0h0m142.5 0h0m110 0h0m95.5 0h0m112.5 0h0m657.5 0h0M317.5 627.1h0m34 0h0m133.5 0h0m45.5 0h0m19 0h0m153 0h0m34 0h0m44.5 0h0m877.5 0h0M526.5 644.2h0m30.5 0h0m29 0h0m90 0h0m58 0h0m35 0h0m23.5 0h0M557 661.2h0m30.5 0h0m49.5 0h0m51 0h0m25 0h0m87.5 0h0M255.5 678.3h0m359 0h0m27 0h0m46 0h0m46 0h0m33 0h0M252 695.4h0m354.5 0h0m38 0h0m48.5 0h0M198 712.5h0m459 0h0M229.5 729.5h0M659 746.6h0" class="p" stroke="#dc1f14"/>
<path d="M153.3 659.3C154.9 664.1 156.4 668.8 158 673.5C159.7 676.9 161.3 680.3 163 683.8C166 684.1 169 684.7 172 685.6C173.4 685.7 174.7 685.9 176.1 686.1C184.6 687.8 193 692.9 201.5 698.5C208.2 703 215 707.9 221.8 709.3C223.5 709.6 225.3 709.8 227 709.5C230.3 708.5 233.7 706.3 237 702C242.1 695.4 247.1 684.1 252.2 670.9C257.3 657.7 262.4 642.6 267.4 628.4C272.5 614.2 277.6 600.8 282.7 590.9C286.9 582.7 291.1 576.8 295.3 573.7C296.9 572.5 298.4 571.7 300 571.3C301.8 570.7 303.7 570.6 305.5 570.9C311.4 572 317.3 577.6 323.3 581.8C329.2 586 335.1 588.8 341 588.9C346.9 589 352.9 586.3 358.8 582.3C365.5 577.7 372.3 571.4 379.1 566.1C385.8 560.7 392.6 556.4 399.4 553.6C405.3 551.2 411.2 550.1 417.1 550.6C423.9 551.2 430.7 554 437.4 556.7C445 559.8 452.6 562.8 460.3 563.3C468.7 563.9 477.2 561.5 485.6 561.6C490.7 561.8 495.8 562.8 500.8 566.4C506.8 570.6 512.7 578.2 518.6 584.4C527.1 593.3 535.5 599.5 544 605C552.4 610.6 560.9 615.4 569.3 619.3C576.1 622.5 582.9 625 589.6 629.8C593.1 632.2 596.5 635.3 600 638.4C602.5 640.7 604.9 643 607.4 645.1C612.5 649.6 617.5 653.6 622.6 656.1C626.8 658.1 631.1 659.1 635.3 658.6C641.2 658 647.1 654.6 653.1 651.6C659 648.5 664.9 645.9 670.8 644C680.5 640.8 690.3 639.6 700 635.7C706.8 632.9 713.5 628.8 720.3 626.8C728.8 624.3 737.2 625 745.7 624.3C752.4 623.8 759.2 622.4 766 618C772.7 613.7 779.5 606.3 786.3 597.8C793 589.2 799.8 579.4 806.6 569.9C813.3 560.4 820.1 551.3 826.8 544.6C831.9 539.5 837 535.7 842.1 533.2C845.5 531.5 848.8 530.4 852.2 530.7C856.4 531 860.7 533.7 864.9 537C870 541.1 875.1 546.1 880.1 549.7C885.2 553.3 890.3 555.5 895.3 555.3C900.4 555.2 905.5 552.8 910.6 549.8C915.6 546.8 920.7 543.1 925.8 542.2C929.2 541.6 932.6 542.2 935.9 543.5C940.2 545.1 944.4 547.7 948.6 549.4C952.9 551 957.1 551.7 961.3 551.2C967.2 550.4 973.1 547.2 979.1 543.6C985 540 990.9 536 996.8 533.5C1003 530.9 1009.1 529.8 1015.2 530.5C1021.1 531.1 1027.1 533.3 1033 532.5C1037.2 532 1041.4 529.8 1045.7 525C1049 521 1052.4 515.4 1055.8 504.7C1059.2 494 1062.6 478.2 1066 461.6C1069.3 444.9 1072.7 427.3 1076.1 410.8C1079.5 394.4 1082.9 379 1086.3 367.7C1089.2 357.9 1092.2 351.2 1095.1 347.5C1099.8 341.6 1104.4 343.1 1109.1 352.6C1112.5 359.4 1115.9 370.5 1119.2 380.5C1122.6 390.5 1126 399.5 1129.4 405.9C1132.8 412.2 1136.2 416 1139.5 418.6C1143.8 421.8 1148 423.3 1152.2 423.7C1157.3 424.1 1162.4 422.9 1167.4 421.2C1173.4 419.1 1179.3 416.2 1185.2 413.6C1190.3 411.4 1195.3 409.4 1200.4 408.5C1203.8 407.9 1207.2 407.8 1210.6 409.8C1214.8 412.3 1219 418.1 1223.3 423.8C1229.2 431.8 1235.1 439.6 1241 445.4C1246.9 451.2 1252.9 455.1 1258.8 458.1C1264.7 461.1 1270.6 463.2 1276.5 465C1281.6 466.5 1286.7 467.8 1291.8 467.6C1296.8 467.3 1301.9 465.5 1307 462C1312.9 457.9 1318.8 451.5 1324.7 446.8C1329.8 442.8 1334.9 440.2 1340 438.7C1345 437.3 1350.1 437.1 1355.2 438C1361.1 439 1367 441.5 1372.9 444.4C1379.7 447.6 1386.5 451.3 1393.2 454.6C1399.2 457.4 1405.1 459.9 1411 459.7C1416.1 459.5 1421.1 457.3 1426.2 454.6C1430.4 452.4 1434.7 449.8 1438.9 448.3C1442.3 447.1 1445.7 446.5 1449 447.6C1452.4 448.6 1455.8 451.1 1459.2 454.7C1463.4 459.1 1467.6 465.1 1471.9 469.9C1476.1 474.8 1480.3 478.6 1484.6 480.6C1487.9 482.2 1491.3 482.6 1494.7 481.4C1500.7 479.2 1506.7 471.7 1512.7 466.5C1516.9 462.9 1521.1 460.4 1525.4 458.9C1528.8 457.8 1532.1 457.4 1535.5 457.7C1540.6 458.2 1545.7 460.3 1550.7 462.3C1557.5 464.9 1564.3 467.1 1571 469.2C1577 471 1582.9 472.8 1588.8 473.8C1593 474.5 1597.3 474.8 1601.5 473.5C1605.7 472.3 1609.9 469.4 1614.2 466.7C1618.4 464 1622.6 461.5 1626.8 460.4C1629.8 459.6 1632.8 459.5 1635.7 460.9C1638.7 462.4 1641.6 465.4 1644.6 470.6C1648 476.4 1651.4 485 1654.8 493.4C1658.1 501.8 1661.5 510 1664.9 518.8C1668.2 527.4 1671.5 536.4 1674.8 545.5L1674.8 587.5C1671.5 578.4 1668.2 569.4 1664.9 560.8C1661.5 552.1 1658.1 543.9 1654.8 535.5C1651.4 527.1 1648 518.5 1644.6 512.7C1641.6 507.6 1638.7 504.5 1635.7 503.1C1632.8 501.6 1629.8 501.8 1626.8 502.6C1622.6 503.7 1618.4 506.2 1614.2 508.9C1609.9 511.6 1605.7 514.5 1601.5 515.8C1597.3 517.1 1593 516.8 1588.8 516.1C1582.9 515.1 1577 513.4 1571 511.6C1564.3 509.5 1557.5 507.3 1550.7 504.7C1545.7 502.8 1540.6 500.7 1535.5 500.2C1532.1 499.9 1528.8 500.3 1525.4 501.5C1521.1 502.9 1516.9 505.5 1512.7 509.1C1506.7 514.3 1500.7 521.8 1494.7 524.1C1491.3 525.3 1487.9 524.9 1484.6 523.3C1480.3 521.3 1476.1 517.5 1471.9 512.7C1467.6 507.8 1463.4 501.9 1459.2 497.5C1455.8 494 1452.4 491.4 1449 490.4C1445.7 489.4 1442.3 490 1438.9 491.2C1434.7 492.7 1430.4 495.3 1426.2 497.5C1421.1 500.2 1416.1 502.4 1411 502.7C1405.1 502.9 1399.2 500.4 1393.2 497.6C1386.5 494.4 1379.7 490.7 1372.9 487.5C1367 484.7 1361.1 482.2 1355.2 481.2C1350.1 480.3 1345 480.5 1340 482C1334.9 483.4 1329.8 486.1 1324.7 490.1C1318.8 494.8 1312.9 501.3 1307 505.4C1301.9 508.9 1296.8 510.7 1291.8 511C1286.7 511.3 1281.6 510 1276.5 508.5C1270.6 506.7 1264.7 504.6 1258.8 501.7C1252.9 498.7 1246.9 494.8 1241 489C1235.1 483.2 1229.2 475.4 1223.3 467.5C1219 461.8 1214.8 456 1210.6 453.6C1207.2 451.6 1203.8 451.7 1200.4 452.3C1195.3 453.2 1190.3 455.2 1185.2 457.4C1179.3 460 1173.4 462.9 1167.4 465.1C1162.4 466.9 1157.3 468 1152.2 467.6C1148 467.3 1143.8 465.8 1139.5 462.6C1136.2 460 1132.8 456.3 1129.4 449.9C1126 443.5 1122.6 434.6 1119.2 424.5C1115.9 414.5 1112.5 403.5 1109.1 396.7C1104.4 387.2 1099.8 385.7 1095.1 391.6C1092.2 395.3 1089.2 402.1 1086.3 411.9C1082.9 423.2 1079.5 438.6 1076.1 455.1C1072.7 471.6 1069.3 489.2 1066 505.8C1062.6 522.5 1059.2 538.3 1055.8 549C1052.4 559.7 1049 565.4 1045.7 569.3C1041.4 574.2 1037.2 576.3 1033 576.9C1027.1 577.8 1021.1 575.6 1015.2 574.9C1009.1 574.3 1003 575.4 996.8 578C990.9 580.5 985 584.5 979.1 588.2C973.1 591.8 967.2 595 961.3 595.8C957.1 596.4 952.9 595.7 948.6 594.1C944.4 592.4 940.2 589.8 935.9 588.3C932.6 587 929.2 586.4 925.8 587C920.7 587.9 915.6 591.6 910.6 594.6C905.5 597.7 900.4 600.1 895.3 600.3C890.3 600.4 885.2 598.3 880.1 594.7C875.1 591.1 870 586.1 864.9 582C860.7 578.7 856.4 576.1 852.2 575.7C848.8 575.4 845.5 576.6 842.1 578.3C837 580.8 831.9 584.6 826.8 589.7C820.1 596.5 813.3 605.6 806.6 615.1C799.8 624.6 793 634.5 786.3 643.1C779.5 651.7 772.7 659 766 663.4C759.2 667.8 752.4 669.2 745.7 669.8C737.2 670.5 728.8 669.8 720.3 672.4C713.5 674.4 706.8 678.5 700 681.3C690.3 685.3 680.5 686.5 670.8 689.7C664.9 691.7 659 694.3 653.1 697.4C647.1 700.4 641.2 703.8 635.3 704.5C631.1 705 626.8 704 622.6 702C617.5 699.6 612.5 695.6 607.4 691.1C604.9 688.9 602.5 686.6 600 684.4C596.5 681.3 593.1 678.4 589.6 676C582.9 671.4 576.1 669.1 569.3 666.2C560.9 662.5 552.4 657.8 544 652.5C535.5 647.2 527.1 641.3 518.6 632.6C512.7 626.5 506.8 619.1 500.8 615.1C495.8 611.6 490.7 610.7 485.6 610.7C477.2 610.7 468.7 613.4 460.3 613.1C452.6 612.7 445 609.9 437.4 607C430.7 604.5 423.9 601.9 417.1 601.5C411.2 601.1 405.3 602.4 399.4 605C392.6 607.9 385.8 612.4 379.1 618C372.3 623.5 365.5 630 358.8 634.7C352.9 638.9 346.9 641.7 341 641.8C335.1 641.9 329.2 639.2 323.3 635.2C317.3 631.1 311.4 625.7 305.5 624.8C303.7 624.5 301.8 624.7 300 625.3C298.4 625.9 296.9 626.8 295.3 628.1C291.1 631.6 286.9 637.8 282.7 646.4C277.6 656.7 272.5 670.4 267.4 685C262.4 699.7 257.3 715.2 252.2 728.8C247.1 742.4 242.1 754.1 237 761.1C233.7 765.7 230.3 768.3 227 769.5C225.3 770.5 223.5 771.2 221.8 771.6C215 773.1 208.2 771.2 201.5 769.6C193 767.7 184.6 766.3 176.1 768.3C174.7 768.7 173.4 769.1 172 769.6C169 771.3 166 773.5 163 775.8C161.3 780.3 159.7 784.9 158 789.5C156.4 795.4 154.9 801.4 153.3 807.3Z" fill="#dc1f14" fill-opacity=".2"/>
<path d="M153.3 659.3C154.9 664.1 156.4 668.8 158 673.5C159.7 676.9 161.3 680.3 163 683.8C166 684.1 169 684.7 172 685.6C173.4 685.7 174.7 685.9 176.1 686.1C184.6 687.8 193 692.9 201.5 698.5C208.2 703 215 707.9 221.8 709.3C223.5 709.6 225.3 709.8 227 709.5C230.3 708.5 233.7 706.3 237 702C242.1 695.4 247.1 684.1 252.2 670.9C257.3 657.7 262.4 642.6 267.4 628.4C272.5 614.2 277.6 600.8 282.7 590.9C286.9 582.7 291.1 576.8 295.3 573.7C296.9 572.5 298.4 571.7 300 571.3C301.8 570.7 303.7 570.6 305.5 570.9C311.4 572 317.3 577.6 323.3 581.8C329.2 586 335.1 588.8 341 588.9C346.9 589 352.9 586.3 358.8 582.3C365.5 577.7 372.3 571.4 379.1 566.1C385.8 560.7 392.6 556.4 399.4 553.6C405.3 551.2 411.2 550.1 417.1 550.6C423.9 551.2 430.7 554 437.4 556.7C445 559.8 452.6 562.8 460.3 563.3C468.7 563.9 477.2 561.5 485.6 561.6C490.7 561.8 495.8 562.8 500.8 566.4C506.8 570.6 512.7 578.2 518.6 584.4C527.1 593.3 535.5 599.5 544 605C552.4 610.6 560.9 615.4 569.3 619.3C576.1 622.5 582.9 625 589.6 629.8C593.1 632.2 596.5 635.3 600 638.4C602.5 640.7 604.9 643 607.4 645.1C612.5 649.6 617.5 653.6 622.6 656.1C626.8 658.1 631.1 659.1 635.3 658.6C641.2 658 647.1 654.6 653.1 651.6C659 648.5 664.9 645.9 670.8 644C680.5 640.8 690.3 639.6 700 635.7C706.8 632.9 713.5 628.8 720.3 626.8C728.8 624.3 737.2 625 745.7 624.3C752.4 623.8 759.2 622.4 766 618C772.7 613.7 779.5 606.3 786.3 597.8C793 589.2 799.8 579.4 806.6 569.9C813.3 560.4 820.1 551.3 826.8 544.6C831.9 539.5 837 535.7 842.1 533.2C845.5 531.5 848.8 530.4 852.2 530.7C856.4 531 860.7 533.7 864.9 537C870 541.1 875.1 546.1 880.1 549.7C885.2 553.3 890.3 555.5 895.3 555.3C900.4 555.2 905.5 552.8 910.6 549.8C915.6 546.8 920.7 543.1 925.8 542.2C929.2 541.6 932.6 542.2 935.9 543.5C940.2 545.1 944.4 547.7 948.6 549.4C952.9 551 957.1 551.7 961.3 551.2C967.2 550.4 973.1 547.2 979.1 543.6C985 540 990.9 536 996.8 533.5C1003 530.9 1009.1 529.8 1015.2 530.5C1021.1 531.1 1027.1 533.3 1033 532.5C1037.2 532 1041.4 529.8 1045.7 525C1049 521 1052.4 515.4 1055.8 504.7C1059.2 494 1062.6 478.2 1066 461.6C1069.3 444.9 1072.7 427.3 1076.1 410.8C1079.5 394.4 1082.9 379 1086.3 367.7C1089.2 357.9 1092.2 351.2 1095.1 347.5C1099.8 341.6 1104.4 343.1 1109.1 352.6C1112.5 359.4 1115.9 370.5 1119.2 380.5C1122.6 390.5 1126 399.5 1129.4 405.9C1132.8 412.2 1136.2 416 1139.5 418.6C1143.8 421.8 1148 423.3 1152.2 423.7C1157.3 424.1 1162.4 422.9 1167.4 421.2C1173.4 419.1 1179.3 416.2 1185.2 413.6C1190.3 411.4 1195.3 409.4 1200.4 408.5C1203.8 407.9 1207.2 407.8 1210.6 409.8C1214.8 412.3 1219 418.1 1223.3 423.8C1229.2 431.8 1235.1 439.6 1241 445.4C1246.9 451.2 1252.9 455.1 1258.8 458.1C1264.7 461.1 1270.6 463.2 1276.5 465C1281.6 466.5 1286.7 467.8 1291.8 467.6C1296.8 467.3 1301.9 465.5 1307 462C1312.9 457.9 1318.8 451.5 1324.7 446.8C1329.8 442.8 1334.9 440.2 1340 438.7C1345 437.3 1350.1 437.1 1355.2 438C1361.1 439 1367 441.5 1372.9 444.4C1379.7 447.6 1386.5 451.3 1393.2 454.6C1399.2 457.4 1405.1 459.9 1411 459.7C1416.1 459.5 1421.1 457.3 1426.2 454.6C1430.4 452.4 1434.7 449.8 1438.9 448.3C1442.3 447.1 1445.7 446.5 1449 447.6C1452.4 448.6 1455.8 451.1 1459.2 454.7C1463.4 459.1 1467.6 465.1 1471.9 469.9C1476.1 474.8 1480.3 478.6 1484.6 480.6C1487.9 482.2 1491.3 482.6 1494.7 481.4C1500.7 479.2 1506.7 471.7 1512.7 466.5C1516.9 462.9 1521.1 460.4 1525.4 458.9C1528.8 457.8 1532.1 457.4 1535.5 457.7C1540.6 458.2 1545.7 460.3 1550.7 462.3C1557.5 464.9 1564.3 467.1 1571 469.2C1577 471 1582.9 472.8 1588.8 473.8C1593 474.5 1597.3 474.8 1601.5 473.5C1605.7 472.3 1609.9 469.4 1614.2 466.7C1618.4 464 1622.6 461.5 1626.8 460.4C1629.8 459.6 1632.8 459.5 1635.7 460.9C1638.7 462.4 1641.6 465.4 1644.6 470.6C1648 476.4 1651.4 485 1654.8 493.4C1658.1 501.8 1661.5 510 1664.9 518.8C1668.2 527.4 1671.5 536.4 1674.8 545.5M153.3 807.3C154.9 801.4 156.4 795.4 158 789.5C159.7 784.9 161.3 780.3 163 775.8C166 773.5 169 771.3 172 769.6C173.4 769.1 174.7 768.7 176.1 768.3C184.6 766.3 193 767.7 201.5 769.6C208.2 771.2 215 773.1 221.8 771.6C223.5 771.2 225.3 770.5 227 769.5C230.3 768.3 233.7 765.7 237 761.1C242.1 754.1 247.1 742.4 252.2 728.8C257.3 715.2 262.4 699.7 267.4 685C272.5 670.4 277.6 656.7 282.7 646.4C286.9 637.8 291.1 631.6 295.3 628.1C296.9 626.8 298.4 625.9 300 625.3C301.8 624.7 303.7 624.5 305.5 624.8C311.4 625.7 317.3 631.1 323.3 635.2C329.2 639.2 335.1 641.9 341 641.8C346.9 641.7 352.9 638.9 358.8 634.7C365.5 630 372.3 623.5 379.1 618C385.8 612.4 392.6 607.9 399.4 605C405.3 602.4 411.2 601.1 417.1 601.5C423.9 601.9 430.7 604.5 437.4 607C445 609.9 452.6 612.7 460.3 613.1C468.7 613.4 477.2 610.7 485.6 610.7C490.7 610.7 495.8 611.6 500.8 615.1C506.8 619.1 512.7 626.5 518.6 632.6C527.1 641.3 535.5 647.2 544 652.5C552.4 657.8 560.9 662.5 569.3 666.2C576.1 669.1 582.9 671.4 589.6 676C593.1 678.4 596.5 681.3 600 684.4C602.5 686.6 604.9 688.9 607.4 691.1C612.5 695.6 617.5 699.6 622.6 702C626.8 704 631.1 705 635.3 704.5C641.2 703.8 647.1 700.4 653.1 697.4C659 694.3 664.9 691.7 670.8 689.7C680.5 686.5 690.3 685.3 700 681.3C706.8 678.5 713.5 674.4 720.3 672.4C728.8 669.8 737.2 670.5 745.7 669.8C752.4 669.2 759.2 667.8 766 663.4C772.7 659 779.5 651.7 786.3 643.1C793 634.5 799.8 624.6 806.6 615.1C813.3 605.6 820.1 596.5 826.8 589.7C831.9 584.6 837 580.8 842.1 578.3C845.5 576.6 848.8 575.4 852.2 575.7C856.4 576.1 860.7 578.7 864.9 582C870 586.1 875.1 591.1 880.1 594.7C885.2 598.3 890.3 600.4 895.3 600.3C900.4 600.1 905.5 597.7 910.6 594.6C915.6 591.6 920.7 587.9 925.8 587C929.2 586.4 932.6 587 935.9 588.3C940.2 589.8 944.4 592.4 948.6 594.1C952.9 595.7 957.1 596.4 961.3 595.8C967.2 595 973.1 591.8 979.1 588.2C985 584.5 990.9 580.5 996.8 578C1003 575.4 1009.1 574.3 1015.2 574.9C1021.1 575.6 1027.1 577.8 1033 576.9C1037.2 576.3 1041.4 574.2 1045.7 569.3C1049 565.4 1052.4 559.7 1055.8 549C1059.2 538.3 1062.6 522.5 1066 505.8C1069.3 489.2 1072.7 471.6 1076.1 455.1C1079.5 438.6 1082.9 423.2 1086.3 411.9C1089.2 402.1 1092.2 395.3 1095.1 391.6C1099.8 385.7 1104.4 387.2 1109.1 396.7C1112.5 403.5 1115.9 414.5 1119.2 424.5C1122.6 434.6 1126 443.5 1129.4 449.9C1132.8 456.3 1136.2 460 1139.5 462.6C1143.8 465.8 1148 467.3 1152.2 467.6C1157.3 468 1162.4 466.9 1167.4 465.1C1173.4 462.9 1179.3 460 1185.2 457.4C1190.3 455.2 1195.3 453.2 1200.4 452.3C1203.8 451.7 1207.2 451.6 1210.6 453.6C1214.8 456 1219 461.8 1223.3 467.5C1229.2 475.4 1235.1 483.2 1241 489C1246.9 494.8 1252.9 498.7 1258.8 501.7C1264.7 504.6 1270.6 506.7 1276.5 508.5C1281.6 510 1286.7 511.3 1291.8 511C1296.8 510.7 1301.9 508.9 1307 505.4C1312.9 501.3 1318.8 494.8 1324.7 490.1C1329.8 486.1 1334.9 483.4 1340 482C1345 480.5 1350.1 480.3 1355.2 481.2C1361.1 482.2 1367 484.7 1372.9 487.5C1379.7 490.7 1386.5 494.4 1393.2 497.6C1399.2 500.4 1405.1 502.9 1411 502.7C1416.1 502.4 1421.1 500.2 1426.2 497.5C1430.4 495.3 1434.7 492.7 1438.9 491.2C1442.3 490 1445.7 489.4 1449 490.4C1452.4 491.4 1455.8 494 1459.2 497.5C1463.4 501.9 1467.6 507.8 1471.9 512.7C1476.1 517.5 1480.3 521.3 1484.6 523.3C1487.9 524.9 1491.3 525.3 1494.7 524.1C1500.7 521.8 1506.7 514.3 1512.7 509.1C1516.9 505.5 1521.1 502.9 1525.4 501.5C1528.8 500.3 1532.1 499.9 1535.5 500.2C1540.6 500.7 1545.7 502.8 1550.7 504.7C1557.5 507.3 1564.3 509.5 1571 511.6C1577 513.4 1582.9 515.1 1588.8 516.1C1593 516.8 1597.3 517.1 1601.5 515.8C1605.7 514.5 1609.9 511.6 1614.2 508.9C1618.4 506.2 1622.6 503.7 1626.8 502.6C1629.8 501.8 1632.8 501.6 1635.7 503.1C1638.7 504.5 1641.6 507.6 1644.6 512.7C1648 518.5 1651.4 527.1 1654.8 535.5C1658.1 543.9 1661.5 552.1 1664.9 560.8C1668.2 569.4 1671.5 578.4 1674.8 587.5" class="d" stroke="#a8423c"/>
<path d="M153.3 733.3C160.9 730.4 168.5 727.4 176.1 727.2C184.6 727 193 730.3 201.5 734.1C208.2 737.1 215 740.5 221.8 740.4C226.8 740.4 231.9 738.3 237 731.5C242.1 724.8 247.1 713.2 252.2 699.8C257.3 686.4 262.4 671.1 267.4 656.7C272.5 642.3 277.6 628.7 282.7 618.6C286.9 610.2 291.1 604.2 295.3 600.9C298.7 598.2 302.1 597.3 305.5 597.8C311.4 598.8 317.3 604.4 323.3 608.5C329.2 612.6 335.1 615.4 341 615.3C346.9 615.3 352.9 612.6 358.8 608.5C365.5 603.8 372.3 597.4 379.1 592C385.8 586.6 392.6 582.2 399.4 579.3C405.3 576.8 411.2 575.6 417.1 576C423.9 576.5 430.7 579.2 437.4 581.9C445 584.8 452.6 587.8 460.3 588.2C468.7 588.7 477.2 586.1 485.6 586.2C490.7 586.2 495.8 587.2 500.8 590.7C506.8 594.8 512.7 602.3 518.6 608.5C527.1 617.3 535.5 623.4 544 628.8C552.4 634.2 560.9 639 569.3 642.7C576.1 645.8 582.9 648.2 589.6 652.9C595.6 657 601.5 662.9 607.4 668.1C612.5 672.6 617.5 676.6 622.6 679C626.8 681.1 631.1 682 635.3 681.6C641.2 680.9 647.1 677.5 653.1 674.5C659 671.4 664.9 668.8 670.8 666.8C680.5 663.7 690.3 662.4 700 658.5C706.8 655.7 713.5 651.6 720.3 649.6C728.8 647.1 737.2 647.7 745.7 647.1C752.4 646.5 759.2 645.1 766 640.7C772.7 636.3 779.5 629 786.3 620.4C793 611.8 799.8 602 806.6 592.5C813.3 583 820.1 573.9 826.8 567.1C831.9 562.1 837 558.3 842.1 555.7C845.5 554 848.8 552.9 852.2 553.2C856.4 553.6 860.7 556.2 864.9 559.5C870 563.6 875.1 568.6 880.1 572.2C885.2 575.8 890.3 577.9 895.3 577.8C900.4 577.7 905.5 575.3 910.6 572.2C915.6 569.2 920.7 565.5 925.8 564.6C929.2 564 932.6 564.6 935.9 565.9C940.2 567.5 944.4 570.1 948.6 571.7C952.9 573.4 957.1 574 961.3 573.5C967.2 572.7 973.1 569.5 979.1 565.9C985 562.3 990.9 558.3 996.8 555.7C1003 553.1 1009.1 552.1 1015.2 552.7C1021.1 553.3 1027.1 555.6 1033 554.7C1037.2 554.1 1041.4 552 1045.7 547.1C1049 543.2 1052.4 537.5 1055.8 526.8C1059.2 516.1 1062.6 500.4 1066 483.7C1069.3 467 1072.7 449.4 1076.1 433C1079.5 416.5 1082.9 401.1 1086.3 389.8C1089.2 380 1092.2 373.3 1095.1 369.5C1099.8 363.7 1104.4 365.2 1109.1 374.6C1112.5 381.5 1115.9 392.5 1119.2 402.5C1122.6 412.5 1126 421.5 1129.4 427.9C1132.8 434.2 1136.2 438 1139.5 440.6C1143.8 443.8 1148 445.3 1152.2 445.6C1157.3 446.1 1162.4 444.9 1167.4 443.1C1173.4 441 1179.3 438.1 1185.2 435.5C1190.3 433.3 1195.3 431.3 1200.4 430.4C1203.8 429.8 1207.2 429.7 1210.6 431.7C1214.8 434.2 1219 440 1223.3 445.6C1229.2 453.6 1235.1 461.4 1241 467.2C1246.9 473 1252.9 476.9 1258.8 479.9C1264.7 482.9 1270.6 485 1276.5 486.7C1281.6 488.3 1286.7 489.5 1291.8 489.3C1296.8 489 1301.9 487.2 1307 483.7C1312.9 479.6 1318.8 473.1 1324.7 468.5C1329.8 464.5 1334.9 461.8 1340 460.4C1345 458.9 1350.1 458.7 1355.2 459.6C1361.1 460.6 1367 463.1 1372.9 465.9C1379.7 469.2 1386.5 472.9 1393.2 476.1C1399.2 478.9 1405.1 481.4 1411 481.2C1416.1 481 1421.1 478.8 1426.2 476.1C1430.4 473.8 1434.7 471.3 1438.9 469.7C1442.3 468.5 1445.7 468 1449 469C1452.4 470 1455.8 472.6 1459.2 476.1C1463.4 480.5 1467.6 486.4 1471.9 491.3C1476.1 496.2 1480.3 500 1484.6 502C1487.9 503.6 1491.3 504 1494.7 502.7C1500.7 500.5 1506.7 493 1512.7 487.8C1516.9 484.2 1521.1 481.6 1525.4 480.2C1528.8 479.1 1532.1 478.6 1535.5 478.9C1540.6 479.4 1545.7 481.6 1550.7 483.5C1557.5 486.1 1564.3 488.3 1571 490.4C1577 492.2 1582.9 493.9 1588.8 494.9C1593 495.6 1597.3 496 1601.5 494.7C1605.7 493.4 1609.9 490.5 1614.2 487.8C1618.4 485.1 1622.6 482.6 1626.8 481.5C1629.8 480.7 1632.8 480.5 1635.7 482C1638.7 483.4 1641.6 486.5 1644.6 491.6C1648 497.5 1651.4 506.1 1654.8 514.5C1658.1 522.9 1661.5 531.1 1664.9 539.8C1668.2 548.4 1671.5 557.4 1674.8 566.5" class="h"/>
<path d="M153.3 733.3C160.9 730.4 168.5 727.4 176.1 727.2C184.6 727 193 730.3 201.5 734.1C208.2 737.1 215 740.5 221.8 740.4C226.8 740.4 231.9 738.3 237 731.5C242.1 724.8 247.1 713.2 252.2 699.8C257.3 686.4 262.4 671.1 267.4 656.7C272.5 642.3 277.6 628.7 282.7 618.6C286.9 610.2 291.1 604.2 295.3 600.9C298.7 598.2 302.1 597.3 305.5 597.8C311.4 598.8 317.3 604.4 323.3 608.5C329.2 612.6 335.1 615.4 341 615.3C346.9 615.3 352.9 612.6 358.8 608.5C365.5 603.8 372.3 597.4 379.1 592C385.8 586.6 392.6 582.2 399.4 579.3C405.3 576.8 411.2 575.6 417.1 576C423.9 576.5 430.7 579.2 437.4 581.9C445 584.8 452.6 587.8 460.3 588.2C468.7 588.7 477.2 586.1 485.6 586.2C490.7 586.2 495.8 587.2 500.8 590.7C506.8 594.8 512.7 602.3 518.6 608.5C527.1 617.3 535.5 623.4 544 628.8C552.4 634.2 560.9 639 569.3 642.7C576.1 645.8 582.9 648.2 589.6 652.9C595.6 657 601.5 662.9 607.4 668.1C612.5 672.6 617.5 676.6 622.6 679C626.8 681.1 631.1 682 635.3 681.6C641.2 680.9 647.1 677.5 653.1 674.5C659 671.4 664.9 668.8 670.8 666.8C680.5 663.7 690.3 662.4 700 658.5C706.8 655.7 713.5 651.6 720.3 649.6C728.8 647.1 737.2 647.7 745.7 647.1C752.4 646.5 759.2 645.1 766 640.7C772.7 636.3 779.5 629 786.3 620.4C793 611.8 799.8 602 806.6 592.5C813.3 583 820.1 573.9 826.8 567.1C831.9 562.1 837 558.3 842.1 555.7C845.5 554 848.8 552.9 852.2 553.2C856.4 553.6 860.7 556.2 864.9 559.5C870 563.6 875.1 568.6 880.1 572.2C885.2 575.8 890.3 577.9 895.3 577.8C900.4 577.7 905.5 575.3 910.6 572.2C915.6 569.2 920.7 565.5 925.8 564.6C929.2 564 932.6 564.6 935.9 565.9C940.2 567.5 944.4 570.1 948.6 571.7C952.9 573.4 957.1 574 961.3 573.5C967.2 572.7 973.1 569.5 979.1 565.9C985 562.3 990.9 558.3 996.8 555.7C1003 553.1 1009.1 552.1 1015.2 552.7C1021.1 553.3 1027.1 555.6 1033 554.7C1037.2 554.1 1041.4 552 1045.7 547.1C1049 543.2 1052.4 537.5 1055.8 526.8C1059.2 516.1 1062.6 500.4 1066 483.7C1069.3 467 1072.7 449.4 1076.1 433C1079.5 416.5 1082.9 401.1 1086.3 389.8C1089.2 380 1092.2 373.3 1095.1 369.5C1099.8 363.7 1104.4 365.2 1109.1 374.6C1112.5 381.5 1115.9 392.5 1119.2 402.5C1122.6 412.5 1126 421.5 1129.4 427.9C1132.8 434.2 1136.2 438 1139.5 440.6C1143.8 443.8 1148 445.3 1152.2 445.6C1157.3 446.1 1162.4 444.9 1167.4 443.1C1173.4 441 1179.3 438.1 1185.2 435.5C1190.3 433.3 1195.3 431.3 1200.4 430.4C1203.8 429.8 1207.2 429.7 1210.6 431.7C1214.8 434.2 1219 440 1223.3 445.6C1229.2 453.6 1235.1 461.4 1241 467.2C1246.9 473 1252.9 476.9 1258.8 479.9C1264.7 482.9 1270.6 485 1276.5 486.7C1281.6 488.3 1286.7 489.5 1291.8 489.3C1296.8 489 1301.9 487.2 1307 483.7C1312.9 479.6 1318.8 473.1 1324.7 468.5C1329.8 464.5 1334.9 461.8 1340 460.4C1345 458.9 1350.1 458.7 1355.2 459.6C1361.1 460.6 1367 463.1 1372.9 465.9C1379.7 469.2 1386.5 472.9 1393.2 476.1C1399.2 478.9 1405.1 481.4 1411 481.2C1416.1 481 1421.1 478.8 1426.2 476.1C1430.4 473.8 1434.7 471.3 1438.9 469.7C1442.3 468.5 1445.7 468 1449 469C1452.4 470 1455.8 472.6 1459.2 476.1C1463.4 480.5 1467.6 486.4 1471.9 491.3C1476.1 496.2 1480.3 500 1484.6 502C1487.9 503.6 1491.3 504 1494.7 502.7C1500.7 500.5 1506.7 493 1512.7 487.8C1516.9 484.2 1521.1 481.6 1525.4 480.2C1528.8 479.1 1532.1 478.6 1535.5 478.9C1540.6 479.4 1545.7 481.6 1550.7 483.5C1557.5 486.1 1564.3 488.3 1571 490.4C1577 492.2 1582.9 493.9 1588.8 494.9C1593 495.6 1597.3 496 1601.5 494.7C1605.7 493.4 1609.9 490.5 1614.2 487.8C1618.4 485.1 1622.6 482.6 1626.8 481.5C1629.8 480.7 1632.8 480.5 1635.7 482C1638.7 483.4 1641.6 486.5 1644.6 491.6C1648 497.5 1651.4 506.1 1654.8 514.5C1658.1 522.9 1661.5 531.1 1664.9 539.8C1668.2 548.4 1671.5 557.4 1674.8 566.5" class="l" stroke="#dc1f14"/>
<path d="M1388 985.7h0M1058.5 1002.8h0M958.5 1019.8h0m44.5 0h0m18 0h0m317 0h0m160.5 0h0m177 0h0M792.5 1036.9h0m111.5 0h0m40.5 0h0m27.5 0h0m20.5 0h0m24 0h0m22 0h0m29 0h0m190 0h0m62.5 0h0m55 0h0m55 0h0m54.5 0h0m44.5 0h0m111.5 0h0m16 0h0m8.5 0h0m5 0h0m4 0h0M711 1054h0m75 0h0m54.5 0h0m35.5 0h0m30 0h0m27.5 0h0m35.5 0h0m48.5 0h0m25 0h0m58 0h0m124 0h0m44 0h0m19.5 0h0m24 0h0m30 0h0m25.5 0h0m15.5 0h0m9.5 0h0m42 0h0m25.5 0h0m23 0h0m30 0h0m30.5 0h0m53.5 0h0m40 0h0m12.5 0h0m7 0h0m2.5 0h0m6.5 0h0m4.5 0h0m3 0h0M156 1071h0m202.5 0h0m290 0h0m44.5 0h0m26.5 0h0m40.5 0h0m31.5 0h0m17.5 0h0m29 0h0m19.5 0h0m25 0h0m32.5 0h0m18 0h0m55 0h0m51 0h0m28 0h0m18.5 0h0m42.5 0h0m43.5 0h0m30 0h0m15.5 0h0m26.5 0h0m29 0h0m24 0h0m24 0h0m28 0h0m28.5 0h0m38 0h0m55.5 0h0m23.5 0h0m19 0h0m26.5 0h0m48.5 0h0m18.5 0h0m27.5 0h0m16 0h0m4.5 0h0m7 0h0m3.5 0h0m10 0h0M229.5 1088.1h0m137.5 0h0m96 0h0m139 0h0m35 0h0m28 0h0m35 0h0m32 0h0m16 0h0m26.5 0h0m35 0h0m32 0h0m42.5 0h0m29 0h0m35 0h0m148.5 0h0m28.5 0h0m26.5 0h0m20 0h0m17.5 0h0m21.5 0h0m21.5 0h0m16 0h0m79 0h0m69 0h0m93 0h0m42 0h0m38.5 0h0m15.5 0h0m31.5 0h0m19 0h0m16 0h0m10 0h0M266 1105.2h0m46.5 0h0m49.5 0h0m79 0h0m36.5 0h0m40.5 0h0m23.5 0h0m19.5 0h0m26.5 0h0m46.5 0h0m25 0h0m38.5 0h0m42 0h0m33 0h0m113.5 0h0m220.5 0h0m41.5 0h0m30 0h0m19.5 0h0m52 0h0m252.5 0h0m65.5 0h0m40.5 0h0m36.5 0h0M262.5 1122.3h0m61 0h0m25 0h0m38 0h0m22.5 0h0m38 0h0m38 0h0m14.5 0h0m35 0h0m15.5 0h0m27 0h0m31 0h0m53 0h0m94 0h0m349 0h0m80 0h0m360 0h0m103 0h0M317.5 1139.3h0m58 0h0m40 0h0m52 0h0m41.5 0h0m33.5 0h0m32.5 0h0m577 0h0M338 1156.4h0m144.5 0h0m1148 0h0M456 1173.5h0M485 1207.6h0" class="p" stroke="#f28a2e"/>
<path d="M1009.5 968.6h0M920 1002.8h0m467 0h0M887 1019.8h0m78.5 0h0m40 0h0m18.5 0h0m318.5 0h0m316 0h0M801.5 1036.9h0m107.5 0h0m38.5 0h0m26 0h0m20 0h0m26.5 0h0m32 0h0m19.5 0h0m190 0h0m59.5 0h0m58 0h0m66.5 0h0m41 0h0m44.5 0h0m111.5 0h0m15 0h0m7.5 0h0m5 0h0M711.5 1054h0m78 0h0m57.5 0h0m31.5 0h0m32 0h0m27.5 0h0m34.5 0h0m52.5 0h0m17.5 0h0m96 0h0m86.5 0h0m44.5 0h0m24.5 0h0m20 0h0m30 0h0m25.5 0h0m14 0h0m18 0h0m36 0h0m28.5 0h0m17.5 0h0m30 0h0m38.5 0h0m46 0h0m41.5 0h0m10.5 0h0m6.5 0h0m4 0h0m5 0h0m5 0h0m3 0h0M161 1071h0m204.5 0h0m291.5 0h0m40 0h0m33 0h0m36.5 0h0m30 0h0m21 0h0m21 0h0m26.5 0h0m19.5 0h0m31.5 0h0m20.5 0h0m53 0h0m50 0h0m28.5 0h0m17.5 0h0m46.5 0h0m41.5 0h0m29.5 0h0m24 0h0m26 0h0m22.5 0h0m32 0h0m14 0h0m36.5 0h0m19.5 0h0m47.5 0h0m48.5 0h0m24 0h0m25 0h0m21 0h0m44.5 0h0m21.5 0h0m28 0h0m13 0h0m4 0h0m7 0h0m4 0h0m10 0h0M237 1088.1h0m161.5 0h0m70.5 0h0m145.5 0h0m27 0h0m28 0h0m35 0h0m29 0h0m18 0h0m25 0h0m39 0h0m35.5 0h0m34 0h0m35.5 0h0m74 0h0m105 0h0m27.5 0h0m26 0h0m22 0h0m18 0h0m21.5 0h0m21 0h0m16.5 0h0m86.5 0h0m72.5 0h0m79.5 0h0m50.5 0h0m31.5 0h0m18 0h0m32.5 0h0m13 0h0m18 0h0m9 0h0M284 1105.2h0m38 0h0m55.5 0h0m82 0h0m28.5 0h0m30.5 0h0m25 0h0m21.5 0h0m32.5 0h0m40.5 0h0m28.5 0h0m39.5 0h0m37.5 0h0m47 0h0m99 0h0m233.5 0h0m31 0h0m29 0h0m20 0h0m51.5 0h0m268 0h0m51 0h0m39 0h0m33.5 0h0M275 1122.3h0m53.5 0h0m23 0h0m42 0h0m15.5 0h0m44.5 0h0m31.5 0h0m20 0h0m32.5 0h0m19 0h0m23 0h0m31.5 0h0m50.5 0h0m215.5 0h0m253.5 0h0m56.5 0h0m373 0h0m92.5 0h0M198 1139.3h0m119.5 0h0m62.5 0h0m59 0h0m30 0h0m41.5 0h0m36 0h0m37 0h0m600.5 0h0M362 1156.4h0m125.5 0h0M485 1173.5h0M376.5 1190.6h0" class="p" stroke="#f28a2e"/>
<path d="M1441.5 968.6h0M990.5 1002.8h0m659.5 0h0M892 1019.8h0m79.5 0h0m35.5 0h0m22.5 0h0m341 0h0m292.5 0h0M811.5 1036.9h0m99.5 0h0m37.5 0h0m27 0h0m20.5 0h0m29.5 0h0m33 0h0m18.5 0h0m190.5 0h0m59.5 0h0m65 0h0m57 0h0m39.5 0h0m70.5 0h0m86 0h0m13.5 0h0m7 0h0m4.5 0h0M216.5 1054h0m504.5 0h0m80 0h0m52.5 0h0m28.5 0h0m34 0h0m24.5 0h0m32.5 0h0m52.5 0h0m28.5 0h0m88.5 0h0m96.5 0h0m40.5 0h0m18 0h0m31 0h0m18.5 0h0m25 0h0m13 0h0m21.5 0h0m31 0h0m30.5 0h0m18.5 0h0m29.5 0h0m49 0h0m49 0h0m32 0h0m4 0h0m6.5 0h0m4.5 0h0m4.5 0h0m6.5 0h0m2 0h0M183 1071h0m358.5 0h0m115.5 0h0m45.5 0h0m29 0h0m37.5 0h0m28 0h0m22.5 0h0m25.5 0h0m20.5 0h0m20.5 0h0m32 0h0m19.5 0h0m56 0h0m48 0h0m27 0h0m28 0h0m42.5 0h0m35 0h0m32 0h0m23 0h0m25 0h0m22.5 0h0m33.5 0h0m18 0h0m31 0h0m20 0h0m51 0h0m47 0h0m21 0h0m30 0h0m16.5 0h0m49 0h0m21 0h0m24.5 0h0m11.5 0h0m4.5 0h0m6.5 0h0m4 0h0M261.5 1088.1h0m137 0h0m95.5 0h0m121 0h0m28.5 0h0m28.5 0h0m32.5 0h0m29.5 0h0m18 0h0m26.5 0h0m37 0h0m38 0h0m37 0h0m34.5 0h0m127 0h0m49.5 0h0m29.5 0h0m22.5 0h0m21.5 0h0m18.5 0h0m22 0h0m21 0h0m18 0h0m95 0h0m70 0h0m80 0h0m43 0h0m31.5 0h0m24.5 0h0m26 0h0m13 0h0m18 0h0m9 0h0M167.5 1105.2h0m125 0h0m32.5 0h0m58 0h0m77 0h0m29 0h0m31.5 0h0m27.5 0h0m17.5 0h0m40 0h0m34 0h0m36 0h0m31.5 0h0m42.5 0h0m48 0h0m107.5 0h0m224 0h0m28 0h0m27.5 0h0m23 0h0m69.5 0h0m254 0h0m47.5 0h0m39 0h0m30.5 0h0M276.5 1122.3h0m57.5 0h0m17.5 0h0m42 0h0m21.5 0h0m40.5 0h0m29.5 0h0m32 0h0m22.5 0h0m17.5 0h0m29 0h0m26 0h0m74 0h0m204 0h0m247 0h0m52 0h0m373 0h0M232 1139.3h0m98.5 0h0m53.5 0h0m55.5 0h0m31.5 0h0m49.5 0h0m30.5 0h0m36 0h0m626.5 0h0M430.5 1156.4h0m57.5 0h0M1663 1173.5h0M549 1190.6h0" class="p" stroke="#f28a2e"/>
<path d="M1000.5 1002.8h0m658.5 0h0M914.5 1019.8h0m57.5 0h0m38.5 0h0m21 0h0m364.5 0h0m269.5 0h0M841.5 1036.9h0m75.5 0h0m36 0h0m23 0h0m21 0h0m36.5 0h0m27.5 0h0m27 0h0m206.5 0h0m43.5 0h0m61 0h0m55 0h0m44.5 0h0m65 0h0m84 0h0m14 0h0m6 0h0m3 0h0M367 1054h0m378.5 0h0m61.5 0h0m51 0h0m29.5 0h0m31.5 0h0m22 0h0m32.5 0h0m61.5 0h0m25.5 0h0m83.5 0h0m104.5 0h0m31 0h0m18.5 0h0m32 0h0m22 0h0m20.5 0h0m12.5 0h0m27 0h0m32 0h0m25.5 0h0m23.5 0h0m27 0h0m49.5 0h0m46 0h0m31 0h0m3.5 0h0m7 0h0m5 0h0m5 0h0m5 0h0m2.5 0h0M183 1071h0m410 0h0m72 0h0m38 0h0m32 0h0m40.5 0h0m25 0h0m20.5 0h0m25 0h0m22.5 0h0m22.5 0h0m27.5 0h0m19.5 0h0m58.5 0h0m48.5 0h0m24.5 0h0m29 0h0m42 0h0m37 0h0m31 0h0m20.5 0h0m28.5 0h0m23.5 0h0m31.5 0h0m18.5 0h0m29 0h0m22 0h0m51.5 0h0m45 0h0m21 0h0m32 0h0m15 0h0m47.5 0h0m21 0h0m30.5 0h0m5.5 0h0m4 0h0m8.5 0h0m2 0h0M276 1088.1h0m132 0h0m95.5 0h0m115.5 0h0m27.5 0h0m28 0h0m31 0h0m30.5 0h0m16 0h0m35 0h0m30.5 0h0m38.5 0h0m38 0h0m38 0h0m133.5 0h0m47.5 0h0m21 0h0m22.5 0h0m18.5 0h0m22.5 0h0m22.5 0h0m18.5 0h0m18.5 0h0m95.5 0h0m70 0h0m86 0h0m34 0h0m32 0h0m25.5 0h0m27 0h0m11 0h0m20.5 0h0m12.5 0h0M168 1105.2h0m130 0h0m28.5 0h0m74.5 0h0m66 0h0m30 0h0m28.5 0h0m24.5 0h0m20.5 0h0m36.5 0h0m34.5 0h0m34.5 0h0m32 0h0m43.5 0h0m51.5 0h0m272 0h0m58 0h0m24.5 0h0m31 0h0m27 0h0m86.5 0h0m234.5 0h0m44.5 0h0m50.5 0h0m21.5 0h0M163.5 1122.3h0m137 0h0m35.5 0h0m23.5 0h0m38.5 0h0m26 0h0m32 0h0m29.5 0h0m40.5 0h0m16.5 0h0m16 0h0m32.5 0h0m24 0h0m91 0h0m200 0h0m238 0h0m51.5 0h0m377.5 0h0M236.5 1139.3h0m106 0h0m44.5 0h0m53 0h0m47.5 0h0m34.5 0h0m32.5 0h0m46 0h0M237 1156.4h0m204.5 0h0m47.5 0h0M272.5 1173.5h0" class="p" stroke="#f28a2e"/>
<path d="M1006 1002.8h0m661 0h0M923.5 1019.8h0m60 0h0m28.5 0h0m31.5 0h0m359 0h0m264 0h0M858 1036.9h0m59.5 0h0m41 0h0m23.5 0h0m17.5 0h0m35 0h0m28.5 0h0m29.5 0h0m206.5 0h0m47.5 0h0m58 0h0m52.5 0h0m50.5 0h0m60.5 0h0m85.5 0h0m9.5 0h0m5 0h0m4 0h0M644 1054h0m104 0h0m76.5 0h0m39 0h0m24.5 0h0m32 0h0m32.5 0h0m30.5 0h0m52.5 0h0m26.5 0h0m103 0h0m87 0h0m31 0h0m16 0h0m33.5 0h0m20.5 0h0m19.5 0h0m13 0h0m26.5 0h0m32 0h0m30 0h0m27.5 0h0m19 0h0m55 0h0m46.5 0h0m25.5 0h0m3 0h0m7.5 0h0m5 0h0m4 0h0m5 0h0m3 0h0M205 1071h0m398 0h0m68 0h0m33 0h0m32.5 0h0m42 0h0m23.5 0h0m20.5 0h0m27 0h0m28 0h0m21 0h0m20 0h0m20.5 0h0m80 0h0m34 0h0m17 0h0m31.5 0h0m43.5 0h0m33 0h0m32 0h0m20 0h0m32 0h0m20.5 0h0m31 0h0m20.5 0h0m27.5 0h0m26 0h0m48.5 0h0m43 0h0m27.5 0h0m25 0h0m36.5 0h0m26 0h0m27 0h0m25.5 0h0m5.5 0h0m3.5 0h0m8 0h0m2.5 0h0M194.5 1088.1h0m104.5 0h0m111 0h0m122 0h0m88 0h0m31 0h0m24.5 0h0m37.5 0h0m23.5 0h0m19 0h0m36 0h0m30 0h0m39 0h0m41.5 0h0m33.5 0h0m135.5 0h0m44.5 0h0m18.5 0h0m25 0h0m22.5 0h0m16.5 0h0m25 0h0m18 0h0m45 0h0m67 0h0m107.5 0h0m51.5 0h0m39 0h0m29 0h0m20.5 0h0m27 0h0m11.5 0h0m19.5 0h0m13.5 0h0M201.5 1105.2h0m101.5 0h0m25 0h0m88.5 0h0m51.5 0h0m36.5 0h0m22 0h0m28.5 0h0m17 0h0m39.5 0h0m33 0h0m43.5 0h0m20.5 0h0m48 0h0m96.5 0h0m225.5 0h0m55.5 0h0m25.5 0h0m29 0h0m37 0h0m82 0h0m231.5 0h0m50.5 0h0m46 0h0M241.5 1122.3h0m63 0h0m32.5 0h0m30 0h0m32.5 0h0m33 0h0m33.5 0h0m19.5 0h0m43 0h0m17 0h0m13 0h0m40 0h0m25.5 0h0m102 0h0m211 0h0m230 0h0m33.5 0h0m382.5 0h0M261.5 1139.3h0m89.5 0h0m44 0h0m59.5 0h0m40 0h0m32 0h0m28.5 0h0m48 0h0M298.5 1156.4h0m151.5 0h0m47.5 0h0M298 1173.5h0" class="p" stroke="#f28a2e"/>
<path d="M1015.5 1002.8h0m652.5 0h0M941 1019.8h0m43.5 0h0m31.5 0h0m70 0h0m318 0h0m264 0h0M875 1036.9h0m44 0h0m43.5 0h0m21.5 0h0m19.5 0h0m31.5 0h0m29 0h0m35.5 0h0m202.5 0h0m49 0h0m57.5 0h0m49 0h0m58.5 0h0m90.5 0h0m48 0h0m8.5 0h0m5.5 0h0m3.5 0h0M651 1054h0m120 0h0m54 0h0m40.5 0h0m31 0h0m25 0h0m35 0h0m38 0h0m42.5 0h0m31.5 0h0m108 0h0m77.5 0h0m30 0h0m17 0h0m31.5 0h0m26 0h0m16.5 0h0m11 0h0m30 0h0m31 0h0m28 0h0m27 0h0m22 0h0m55.5 0h0m46.5 0h0m21.5 0h0m4.5 0h0m6.5 0h0m5 0h0m4 0h0m4.5 0h0m3 0h0M209.5 1071h0m412 0h0m56.5 0h0m27.5 0h0m39 0h0m35.5 0h0m23.5 0h0m24.5 0h0m22 0h0m31.5 0h0m18.5 0h0m26 0h0m13.5 0h0m82.5 0h0m41.5 0h0m7 0h0m34.5 0h0m51.5 0h0m32 0h0m25 0h0m17 0h0m32.5 0h0m20 0h0m32 0h0m26 0h0m23.5 0h0m23.5 0h0m48.5 0h0m47 0h0m23.5 0h0m26.5 0h0m38.5 0h0m23 0h0m29.5 0h0m22 0h0m6.5 0h0m3 0h0m7.5 0h0m4 0h0M197 1088.1h0m118 0h0m108.5 0h0m136.5 0h0m64 0h0m32 0h0m20 0h0m41.5 0h0m21.5 0h0m20 0h0m37 0h0m31 0h0m39 0h0m37 0h0m36.5 0h0m137.5 0h0m41 0h0m18.5 0h0m28 0h0m23.5 0h0m15 0h0m21 0h0m19.5 0h0m48 0h0m65 0h0m124.5 0h0m35.5 0h0m35.5 0h0m29 0h0m24.5 0h0m25.5 0h0m10 0h0m19.5 0h0m11.5 0h0M233.5 1105.2h0m71 0h0m29 0h0m94.5 0h0m44.5 0h0m34.5 0h0m20 0h0m29.5 0h0m18.5 0h0m45 0h0m33.5 0h0m38.5 0h0m20 0h0m53.5 0h0m115 0h0m202 0h0m51.5 0h0m26 0h0m31 0h0m34.5 0h0m122.5 0h0m202 0h0m41.5 0h0m45.5 0h0M244 1122.3h0m69.5 0h0m25 0h0m34 0h0m30 0h0m30.5 0h0m33 0h0m23.5 0h0m42 0h0m14.5 0h0m16.5 0h0m38 0h0m44 0h0m82.5 0h0m348 0h0m93.5 0h0m33 0h0m389.5 0h0M272.5 1139.3h0m93 0h0m31 0h0m62.5 0h0m40.5 0h0m31 0h0m26.5 0h0m55.5 0h0M302.5 1156.4h0m153.5 0h0m55 0h0M338.5 1173.5h0" class="p" stroke="#f28a2e"/>
<path d="M937.5 985.7h0M1023 1002.8h0M945 1019.8h0m45 0h0m27.5 0h0m267.5 0h0m138.5 0h0m247 0h0M880.5 1036.9h0m44.5 0h0m43.5 0h0m16 0h0m19.5 0h0m31.5 0h0m29 0h0m110.5 0h0m134.5 0h0m46 0h0m64 0h0m49.5 0h0m47.5 0h0m104 0h0m34 0h0m9 0h0m5.5 0h0m4 0h0M651.5 1054h0m122 0h0m57.5 0h0m35.5 0h0m31.5 0h0m27 0h0m36.5 0h0m44.5 0h0m32 0h0m45 0h0m100 0h0m75 0h0m28 0h0m17 0h0m35.5 0h0m24 0h0m14 0h0m10 0h0m36.5 0h0m25.5 0h0m28.5 0h0m27.5 0h0m26 0h0m62 0h0m43.5 0h0m11.5 0h0m6.5 0h0m4.5 0h0m5.5 0h0m4 0h0m4.5 0h0m3 0h0M268 1071h0m366.5 0h0m53 0h0m23 0h0m39.5 0h0m31 0h0m25 0h0m27.5 0h0m17 0h0m31.5 0h0m21 0h0m24 0h0m39.5 0h0m57 0h0m40.5 0h0m6.5 0h0m50.5 0h0m38 0h0m30 0h0m26.5 0h0m20 0h0m31 0h0m23 0h0m27.5 0h0m25.5 0h0m25.5 0h0m28.5 0h0m42.5 0h0m49.5 0h0m18.5 0h0m28.5 0h0m38 0h0m24.5 0h0m32 0h0m18 0h0m5 0h0m3 0h0m8 0h0m3.5 0h0M200.5 1088.1h0m115.5 0h0m130 0h0m141 0h0m43.5 0h0m33 0h0m28.5 0h0m31.5 0h0m16.5 0h0m21 0h0m39.5 0h0m32 0h0m42 0h0m30 0h0m37.5 0h0m138 0h0m43.5 0h0m17.5 0h0m23.5 0h0m24 0h0m19.5 0h0m16 0h0m22.5 0h0m59 0h0m64.5 0h0m112 0h0m41.5 0h0m30.5 0h0m27.5 0h0m24.5 0h0m27 0h0m16.5 0h0m11.5 0h0m13 0h0M253.5 1105.2h0m51 0h0m39.5 0h0m85.5 0h0m44 0h0m34 0h0m20.5 0h0m29 0h0m23 0h0m43.5 0h0m30.5 0h0m38.5 0h0m23 0h0m53 0h0m114 0h0m208 0h0m49.5 0h0m30 0h0m23 0h0m41 0h0m246.5 0h0m78.5 0h0m38 0h0m46.5 0h0M252 1122.3h0m69 0h0m20.5 0h0m41 0h0m25.5 0h0m28 0h0m37.5 0h0m19.5 0h0m39 0h0m16.5 0h0m15.5 0h0m42.5 0h0m52.5 0h0m81.5 0h0m335.5 0h0m96 0h0m33.5 0h0m390 0h0M286 1139.3h0m83 0h0m28 0h0m64.5 0h0m39.5 0h0m31.5 0h0m29 0h0m94 0h0M308.5 1156.4h0m160 0h0m96.5 0h0M425.5 1173.5h0" class="p" stroke="#f28a2e"/>
<path d="M1027 985.7h0M1031.5 1002.8h0M951 1019.8h0m49 0h0m18 0h0m313 0h0m99.5 0h0m241 0h0M693.5 1036.9h0m200 0h0m41 0h0m36 0h0m18 0h0m19.5 0h0m29 0h0m29 0h0m126 0h0m122 0h0m41.5 0h0m66.5 0h0m53.5 0h0m45.5 0h0m106.5 0h0m29 0h0m8 0h0m5.5 0h0m3 0h0M688.5 1054h0m90.5 0h0m57 0h0m39.5 0h0m23 0h0m29 0h0m35 0h0m46 0h0m30 0h0m51 0h0m119 0h0m57.5 0h0m21 0h0m22 0h0m30 0h0m26.5 0h0m11.5 0h0m15 0h0m32 0h0m34.5 0h0m18.5 0h0m31.5 0h0m33 0h0m52 0h0m43.5 0h0m12 0h0m5.5 0h0m4 0h0m6 0h0m5.5 0h0m3 0h0M302.5 1071h0m336.5 0h0m52.5 0h0m26.5 0h0m35 0h0m37.5 0h0m17 0h0m27 0h0m21.5 0h0m26 0h0m28 0h0m18.5 0h0m50.5 0h0m57.5 0h0m27.5 0h0m8.5 0h0m53 0h0m39 0h0m34 0h0m17.5 0h0m20 0h0m36 0h0m20 0h0m26 0h0m29.5 0h0m29 0h0m21.5 0h0m55 0h0m39.5 0h0m15 0h0m31.5 0h0m42 0h0m23.5 0h0m26.5 0h0m18.5 0h0m5 0h0m4.5 0h0m5.5 0h0m10 0h0M217.5 1088.1h0m125 0h0m109.5 0h0m149.5 0h0m33.5 0h0m29 0h0m28.5 0h0m35.5 0h0m15 0h0m21 0h0m44.5 0h0m31.5 0h0m38 0h0m33.5 0h0m35 0h0m143 0h0m34.5 0h0m20.5 0h0m23.5 0h0m20.5 0h0m20.5 0h0m16.5 0h0m22.5 0h0m59.5 0h0m63.5 0h0m114.5 0h0m38.5 0h0m36 0h0m23.5 0h0m31 0h0m19.5 0h0m17 0h0m10.5 0h0m14 0h0M259.5 1105.2h0m46.5 0h0m43.5 0h0m86 0h0m40.5 0h0m41.5 0h0m21 0h0m19 0h0m24 0h0m48.5 0h0m28.5 0h0m37 0h0m40.5 0h0m34 0h0m114 0h0m206.5 0h0m54.5 0h0m30 0h0m20 0h0m51.5 0h0m249.5 0h0m65.5 0h0m42.5 0h0m40 0h0M255.5 1122.3h0m68 0h0m21 0h0m40.5 0h0m23 0h0m30.5 0h0m43.5 0h0m14.5 0h0m36 0h0m17 0h0m22 0h0m36.5 0h0m52.5 0h0m81.5 0h0m349.5 0h0m83.5 0h0m179 0h0m250 0h0M295 1139.3h0m78.5 0h0m39.5 0h0m49 0h0m45 0h0m27 0h0m30 0h0m581 0h0M332.5 1156.4h0m136.5 0h0m160.5 0h0M433.5 1173.5h0" class="p" stroke="#f28a2e"/>
<path d="M153.3 1026.3C157.2 1031.5 161.1 1036.7 165 1041.9C168.7 1045.2 172.4 1048.5 176.1 1051.9C180.7 1056.1 185.4 1060.3 190 1064.5C193.8 1067 197.7 1069.5 201.5 1071.8C209.9 1077.1 218.4 1082.1 226.8 1086.3C234.6 1090.2 242.3 1093.4 250 1096C250.7 1096.1 251.5 1096.3 252.2 1096.4C260.7 1098 269.1 1098.8 277.6 1099.5C294.5 1100.7 311.4 1101.1 328.3 1101.7C345.2 1102.4 362.2 1103.3 379.1 1104C386 1104.3 393 1104.6 400 1104.9C409.9 1105.2 419.9 1105.5 429.8 1105.8C446.7 1106.3 463.6 1106.9 480.5 1107C497.5 1107.2 514.4 1106.8 531.3 1105.8C544 1105 556.7 1103.9 569.3 1101.6C577.8 1100.1 586.3 1098 594.7 1095.5C603.2 1093 611.6 1089.9 620.1 1086.9C628.5 1083.8 637 1080.8 645.4 1078.2C653.9 1075.7 662.4 1073.6 670.8 1072.7C680.5 1071.5 690.3 1071.9 700 1072.4C708.5 1072.9 716.9 1073.4 725.4 1073.7C733.8 1074 742.3 1074 750.7 1073C759.2 1072 767.7 1070 776.1 1067.4C784.6 1064.9 793 1061.7 801.5 1059.4C809.9 1057 818.4 1055.5 826.8 1054.8C835.3 1054.1 843.8 1054.2 852.2 1054.8C860.7 1055.5 869.1 1056.6 877.6 1056.9C886 1057.2 894.5 1056.7 903 1054.9C911.4 1053.1 919.9 1050 928.3 1046C936.8 1042.1 945.2 1037.3 953.7 1033.4C962.2 1029.4 970.6 1026.3 979.1 1024.5C985.8 1023.1 992.6 1022.6 999.4 1022.5C1006.1 1022.4 1012.9 1022.8 1019.7 1024.6C1026.4 1026.4 1033.2 1029.6 1040 1033.5C1046.7 1037.3 1053.5 1041.7 1060.3 1046.2C1067 1050.6 1073.8 1055 1080.5 1058.9C1089 1063.7 1097.5 1067.5 1105.9 1070.3C1114.4 1073.1 1122.8 1074.8 1131.3 1075.9C1139.7 1077.1 1148.2 1077.7 1156.7 1078C1165.1 1078.3 1173.6 1078.4 1182 1078C1190.5 1077.7 1198.9 1076.9 1207.4 1075.5C1215.9 1074.1 1224.3 1072.1 1232.8 1069.2C1241.2 1066.3 1249.7 1062.5 1258.1 1059.1C1266.6 1055.6 1275 1052.6 1283.5 1050.2C1289 1048.6 1294.5 1047.4 1300 1046.4C1308.5 1045 1316.9 1044.4 1325.4 1043.9C1338.1 1043.2 1350.7 1042.8 1363.4 1042.7C1376.1 1042.5 1388.8 1042.6 1401.5 1042.7C1414.2 1042.9 1426.8 1043.1 1439.5 1043.5C1448 1043.8 1456.4 1044.1 1464.9 1044.8C1471.7 1045.4 1478.4 1046.3 1485.2 1047.9C1491.1 1049.3 1497 1051.2 1503 1053C1509.7 1055 1516.5 1056.8 1523.3 1058.1C1530 1059.4 1536.8 1060.1 1543.5 1061.1C1551.2 1062.2 1558.8 1063.6 1566.4 1064.4C1574.8 1065.4 1583.3 1065.7 1591.8 1065.7C1598.5 1065.8 1605.3 1065.7 1612 1064.5C1618 1063.4 1623.9 1061.5 1629.8 1059.4C1634.9 1057.7 1640 1055.8 1645 1053.1C1650.1 1050.4 1655.2 1047 1660.3 1044.3C1665.1 1041.7 1670 1039.8 1674.8 1037.9L1674.8 1065.9C1670 1067.8 1665.1 1069.7 1660.3 1072.3C1655.2 1075 1650.1 1078.5 1645 1081.2C1640 1083.9 1634.9 1085.8 1629.8 1087.5C1623.9 1089.6 1618 1091.6 1612 1092.6C1605.3 1093.9 1598.5 1094 1591.8 1093.9C1583.3 1093.9 1574.8 1093.6 1566.4 1092.7C1558.8 1091.8 1551.2 1090.5 1543.5 1089.4C1536.8 1088.4 1530 1087.6 1523.3 1086.4C1516.5 1085.1 1509.7 1083.3 1503 1081.3C1497 1079.6 1491.1 1077.6 1485.2 1076.3C1478.4 1074.7 1471.7 1073.8 1464.9 1073.2C1456.4 1072.5 1448 1072.2 1439.5 1072C1426.8 1071.6 1414.2 1071.4 1401.5 1071.3C1388.8 1071.1 1376.1 1071.1 1363.4 1071.3C1350.7 1071.5 1338.1 1071.9 1325.4 1072.6C1316.9 1073.1 1308.5 1073.7 1300 1075.2C1294.5 1076.1 1289 1077.4 1283.5 1079C1275 1081.4 1266.6 1084.5 1258.1 1087.9C1249.7 1091.3 1241.2 1095.2 1232.8 1098.1C1224.3 1101 1215.9 1103 1207.4 1104.5C1198.9 1105.9 1190.5 1106.6 1182 1107C1173.6 1107.4 1165.1 1107.4 1156.7 1107C1148.2 1106.7 1139.7 1106.2 1131.3 1105C1122.8 1103.9 1114.4 1102.2 1105.9 1099.5C1097.5 1096.7 1089 1092.9 1080.5 1088.1C1073.8 1084.3 1067 1079.9 1060.3 1075.4C1053.5 1071 1046.7 1066.6 1040 1062.8C1033.2 1058.9 1026.4 1055.7 1019.7 1053.9C1012.9 1052.1 1006.1 1051.8 999.4 1051.9C992.6 1052 985.8 1052.5 979.1 1054C970.6 1055.7 962.2 1058.9 953.7 1062.9C945.2 1066.8 936.8 1071.6 928.3 1075.6C919.9 1079.5 911.4 1082.6 903 1084.5C894.5 1086.3 886 1086.8 877.6 1086.5C869.1 1086.2 860.7 1085.1 852.2 1084.5C843.8 1083.9 835.3 1083.8 826.8 1084.6C818.4 1085.3 809.9 1086.8 801.5 1089.1C793 1091.5 784.6 1094.7 776.1 1097.3C767.7 1099.9 759.2 1101.9 750.7 1102.9C742.3 1103.9 733.8 1104 725.4 1103.7C716.9 1103.4 708.5 1102.8 700 1102.4C690.3 1102.1 680.5 1101.9 670.8 1103.2C662.4 1104.4 653.9 1106.6 645.4 1109.3C637 1112 628.5 1115.3 620.1 1118.5C611.6 1121.7 603.2 1124.9 594.7 1127.6C586.3 1130.3 577.8 1132.5 569.3 1134.2C556.7 1136.7 544 1138.1 531.3 1139.1C514.4 1140.5 497.5 1141.2 480.5 1141.4C463.6 1141.6 446.7 1141.4 429.8 1141.2C419.9 1141.1 409.9 1141 400 1140.9C393 1140.9 386 1140.9 379.1 1140.9C362.2 1140.8 345.2 1140.6 328.3 1140.6C311.4 1140.6 294.5 1140.9 277.6 1140.4C269.1 1140.1 260.7 1139.6 252.2 1138.3C251.5 1138.2 250.7 1138.1 250 1138C242.3 1137.7 234.6 1136.8 226.8 1135.3C218.4 1133.6 209.9 1131.2 201.5 1128.4C197.7 1127.2 193.8 1125.8 190 1124.5C185.4 1124 180.7 1123.5 176.1 1123C172.4 1122.6 168.7 1122.2 165 1121.9C161.1 1123.2 157.2 1124.5 153.3 1125.8Z" fill="#f28a2e" fill-opacity=".2"/>
<path d="M153.3 1026.3C157.2 1031.5 161.1 1036.7 165 1041.9C168.7 1045.2 172.4 1048.5 176.1 1051.9C180.7 1056.1 185.4 1060.3 190 1064.5C193.8 1067 197.7 1069.5 201.5 1071.8C209.9 1077.1 218.4 1082.1 226.8 1086.3C234.6 1090.2 242.3 1093.4 250 1096C250.7 1096.1 251.5 1096.3 252.2 1096.4C260.7 1098 269.1 1098.8 277.6 1099.5C294.5 1100.7 311.4 1101.1 328.3 1101.7C345.2 1102.4 362.2 1103.3 379.1 1104C386 1104.3 393 1104.6 400 1104.9C409.9 1105.2 419.9 1105.5 429.8 1105.8C446.7 1106.3 463.6 1106.9 480.5 1107C497.5 1107.2 514.4 1106.8 531.3 1105.8C544 1105 556.7 1103.9 569.3 1101.6C577.8 1100.1 586.3 1098 594.7 1095.5C603.2 1093 611.6 1089.9 620.1 1086.9C628.5 1083.8 637 1080.8 645.4 1078.2C653.9 1075.7 662.4 1073.6 670.8 1072.7C680.5 1071.5 690.3 1071.9 700 1072.4C708.5 1072.9 716.9 1073.4 725.4 1073.7C733.8 1074 742.3 1074 750.7 1073C759.2 1072 767.7 1070 776.1 1067.4C784.6 1064.9 793 1061.7 801.5 1059.4C809.9 1057 818.4 1055.5 826.8 1054.8C835.3 1054.1 843.8 1054.2 852.2 1054.8C860.7 1055.5 869.1 1056.6 877.6 1056.9C886 1057.2 894.5 1056.7 903 1054.9C911.4 1053.1 919.9 1050 928.3 1046C936.8 1042.1 945.2 1037.3 953.7 1033.4C962.2 1029.4 970.6 1026.3 979.1 1024.5C985.8 1023.1 992.6 1022.6 999.4 1022.5C1006.1 1022.4 1012.9 1022.8 1019.7 1024.6C1026.4 1026.4 1033.2 1029.6 1040 1033.5C1046.7 1037.3 1053.5 1041.7 1060.3 1046.2C1067 1050.6 1073.8 1055 1080.5 1058.9C1089 1063.7 1097.5 1067.5 1105.9 1070.3C1114.4 1073.1 1122.8 1074.8 1131.3 1075.9C1139.7 1077.1 1148.2 1077.7 1156.7 1078C1165.1 1078.3 1173.6 1078.4 1182 1078C1190.5 1077.7 1198.9 1076.9 1207.4 1075.5C1215.9 1074.1 1224.3 1072.1 1232.8 1069.2C1241.2 1066.3 1249.7 1062.5 1258.1 1059.1C1266.6 1055.6 1275 1052.6 1283.5 1050.2C1289 1048.6 1294.5 1047.4 1300 1046.4C1308.5 1045 1316.9 1044.4 1325.4 1043.9C1338.1 1043.2 1350.7 1042.8 1363.4 1042.7C1376.1 1042.5 1388.8 1042.6 1401.5 1042.7C1414.2 1042.9 1426.8 1043.1 1439.5 1043.5C1448 1043.8 1456.4 1044.1 1464.9 1044.8C1471.7 1045.4 1478.4 1046.3 1485.2 1047.9C1491.1 1049.3 1497 1051.2 1503 1053C1509.7 1055 1516.5 1056.8 1523.3 1058.1C1530 1059.4 1536.8 1060.1 1543.5 1061.1C1551.2 1062.2 1558.8 1063.6 1566.4 1064.4C1574.8 1065.4 1583.3 1065.7 1591.8 1065.7C1598.5 1065.8 1605.3 1065.7 1612 1064.5C1618 1063.4 1623.9 1061.5 1629.8 1059.4C1634.9 1057.7 1640 1055.8 1645 1053.1C1650.1 1050.4 1655.2 1047 1660.3 1044.3C1665.1 1041.7 1670 1039.8 1674.8 1037.9M153.3 1125.8C157.2 1124.5 161.1 1123.2 165 1121.9C168.7 1122.2 172.4 1122.6 176.1 1123C180.7 1123.5 185.4 1124 190 1124.5C193.8 1125.8 197.7 1127.2 201.5 1128.4C209.9 1131.2 218.4 1133.6 226.8 1135.3C234.6 1136.8 242.3 1137.7 250 1138C250.7 1138.1 251.5 1138.2 252.2 1138.3C260.7 1139.6 269.1 1140.1 277.6 1140.4C294.5 1140.9 311.4 1140.6 328.3 1140.6C345.2 1140.6 362.2 1140.8 379.1 1140.9C386 1140.9 393 1140.9 400 1140.9C409.9 1141 419.9 1141.1 429.8 1141.2C446.7 1141.4 463.6 1141.6 480.5 1141.4C497.5 1141.2 514.4 1140.5 531.3 1139.1C544 1138.1 556.7 1136.7 569.3 1134.2C577.8 1132.5 586.3 1130.3 594.7 1127.6C603.2 1124.9 611.6 1121.7 620.1 1118.5C628.5 1115.3 637 1112 645.4 1109.3C653.9 1106.6 662.4 1104.4 670.8 1103.2C680.5 1101.9 690.3 1102.1 700 1102.4C708.5 1102.8 716.9 1103.4 725.4 1103.7C733.8 1104 742.3 1103.9 750.7 1102.9C759.2 1101.9 767.7 1099.9 776.1 1097.3C784.6 1094.7 793 1091.5 801.5 1089.1C809.9 1086.8 818.4 1085.3 826.8 1084.6C835.3 1083.8 843.8 1083.9 852.2 1084.5C860.7 1085.1 869.1 1086.2 877.6 1086.5C886 1086.8 894.5 1086.3 903 1084.5C911.4 1082.6 919.9 1079.5 928.3 1075.6C936.8 1071.6 945.2 1066.8 953.7 1062.9C962.2 1058.9 970.6 1055.7 979.1 1054C985.8 1052.5 992.6 1052 999.4 1051.9C1006.1 1051.8 1012.9 1052.1 1019.7 1053.9C1026.4 1055.7 1033.2 1058.9 1040 1062.8C1046.7 1066.6 1053.5 1071 1060.3 1075.4C1067 1079.9 1073.8 1084.3 1080.5 1088.1C1089 1092.9 1097.5 1096.7 1105.9 1099.5C1114.4 1102.2 1122.8 1103.9 1131.3 1105C1139.7 1106.2 1148.2 1106.7 1156.7 1107C1165.1 1107.4 1173.6 1107.4 1182 1107C1190.5 1106.6 1198.9 1105.9 1207.4 1104.5C1215.9 1103 1224.3 1101 1232.8 1098.1C1241.2 1095.2 1249.7 1091.3 1258.1 1087.9C1266.6 1084.5 1275 1081.4 1283.5 1079C1289 1077.4 1294.5 1076.1 1300 1075.2C1308.5 1073.7 1316.9 1073.1 1325.4 1072.6C1338.1 1071.9 1350.7 1071.5 1363.4 1071.3C1376.1 1071.1 1388.8 1071.1 1401.5 1071.3C1414.2 1071.4 1426.8 1071.6 1439.5 1072C1448 1072.2 1456.4 1072.5 1464.9 1073.2C1471.7 1073.8 1478.4 1074.7 1485.2 1076.3C1491.1 1077.6 1497 1079.6 1503 1081.3C1509.7 1083.3 1516.5 1085.1 1523.3 1086.4C1530 1087.6 1536.8 1088.4 1543.5 1089.4C1551.2 1090.5 1558.8 1091.8 1566.4 1092.7C1574.8 1093.6 1583.3 1093.9 1591.8 1093.9C1598.5 1094 1605.3 1093.9 1612 1092.6C1618 1091.6 1623.9 1089.6 1629.8 1087.5C1634.9 1085.8 1640 1083.9 1645 1081.2C1650.1 1078.5 1655.2 1075 1660.3 1072.3C1665.1 1069.7 1670 1067.8 1674.8 1065.9" class="d" stroke="#c08a58"/>
<path d="M153.3 1076C160.9 1079.8 168.5 1083.6 176.1 1087.4C184.6 1091.7 193 1096.1 201.5 1100.1C209.9 1104.2 218.4 1107.8 226.8 1110.8C235.3 1113.7 243.8 1115.9 252.2 1117.4C260.7 1118.8 269.1 1119.5 277.6 1119.9C294.5 1120.8 311.4 1120.9 328.3 1121.2C345.2 1121.5 362.2 1122 379.1 1122.5C396 1122.9 412.9 1123.1 429.8 1123.5C446.7 1123.8 463.6 1124.3 480.5 1124.2C497.5 1124.2 514.4 1123.6 531.3 1122.5C544 1121.6 556.7 1120.3 569.3 1117.9C577.8 1116.3 586.3 1114.2 594.7 1111.5C603.2 1108.9 611.6 1105.8 620.1 1102.7C628.5 1099.5 637 1096.4 645.4 1093.8C653.9 1091.1 662.4 1089 670.8 1087.9C680.5 1086.7 690.3 1087 700 1087.4C708.5 1087.8 716.9 1088.4 725.4 1088.7C733.8 1089 742.3 1089 750.7 1087.9C759.2 1086.9 767.7 1085 776.1 1082.4C784.6 1079.8 793 1076.6 801.5 1074.2C809.9 1071.9 818.4 1070.4 826.8 1069.7C835.3 1069 843.8 1069.1 852.2 1069.7C860.7 1070.3 869.1 1071.4 877.6 1071.7C886 1072 894.5 1071.5 903 1069.7C911.4 1067.9 919.9 1064.7 928.3 1060.8C936.8 1056.9 945.2 1052.1 953.7 1048.1C962.2 1044.2 970.6 1041 979.1 1039.2C985.8 1037.8 992.6 1037.3 999.4 1037.2C1006.1 1037.1 1012.9 1037.4 1019.7 1039.2C1026.4 1041 1033.2 1044.3 1040 1048.1C1046.7 1052 1053.5 1056.4 1060.3 1060.8C1067 1065.2 1073.8 1069.7 1080.5 1073.5C1089 1078.3 1097.5 1082.1 1105.9 1084.9C1114.4 1087.7 1122.8 1089.4 1131.3 1090.5C1139.7 1091.6 1148.2 1092.2 1156.7 1092.5C1165.1 1092.8 1173.6 1092.9 1182 1092.5C1190.5 1092.2 1198.9 1091.4 1207.4 1090C1215.9 1088.6 1224.3 1086.6 1232.8 1083.6C1241.2 1080.7 1249.7 1076.9 1258.1 1073.5C1266.6 1070.1 1275 1067 1283.5 1064.6C1289 1063 1294.5 1061.7 1300 1060.8C1308.5 1059.4 1316.9 1058.7 1325.4 1058.3C1338.1 1057.6 1350.7 1057.2 1363.4 1057C1376.1 1056.8 1388.8 1056.9 1401.5 1057C1414.2 1057.1 1426.8 1057.4 1439.5 1057.8C1448 1058 1456.4 1058.3 1464.9 1059C1471.7 1059.6 1478.4 1060.5 1485.2 1062.1C1491.1 1063.5 1497 1065.4 1503 1067.1C1509.7 1069.2 1516.5 1070.9 1523.3 1072.2C1530 1073.5 1536.8 1074.3 1543.5 1075.3C1551.2 1076.4 1558.8 1077.7 1566.4 1078.6C1574.8 1079.5 1583.3 1079.8 1591.8 1079.8C1598.5 1079.9 1605.3 1079.8 1612 1078.6C1618 1077.5 1623.9 1075.6 1629.8 1073.5C1634.9 1071.7 1640 1069.8 1645 1067.1C1650.1 1064.5 1655.2 1061 1660.3 1058.3C1665.1 1055.7 1670 1053.8 1674.8 1051.9" class="h"/>
<path d="M153.3 1076C160.9 1079.8 168.5 1083.6 176.1 1087.4C184.6 1091.7 193 1096.1 201.5 1100.1C209.9 1104.2 218.4 1107.8 226.8 1110.8C235.3 1113.7 243.8 1115.9 252.2 1117.4C260.7 1118.8 269.1 1119.5 277.6 1119.9C294.5 1120.8 311.4 1120.9 328.3 1121.2C345.2 1121.5 362.2 1122 379.1 1122.5C396 1122.9 412.9 1123.1 429.8 1123.5C446.7 1123.8 463.6 1124.3 480.5 1124.2C497.5 1124.2 514.4 1123.6 531.3 1122.5C544 1121.6 556.7 1120.3 569.3 1117.9C577.8 1116.3 586.3 1114.2 594.7 1111.5C603.2 1108.9 611.6 1105.8 620.1 1102.7C628.5 1099.5 637 1096.4 645.4 1093.8C653.9 1091.1 662.4 1089 670.8 1087.9C680.5 1086.7 690.3 1087 700 1087.4C708.5 1087.8 716.9 1088.4 725.4 1088.7C733.8 1089 742.3 1089 750.7 1087.9C759.2 1086.9 767.7 1085 776.1 1082.4C784.6 1079.8 793 1076.6 801.5 1074.2C809.9 1071.9 818.4 1070.4 826.8 1069.7C835.3 1069 843.8 1069.1 852.2 1069.7C860.7 1070.3 869.1 1071.4 877.6 1071.7C886 1072 894.5 1071.5 903 1069.7C911.4 1067.9 919.9 1064.7 928.3 1060.8C936.8 1056.9 945.2 1052.1 953.7 1048.1C962.2 1044.2 970.6 1041 979.1 1039.2C985.8 1037.8 992.6 1037.3 999.4 1037.2C1006.1 1037.1 1012.9 1037.4 1019.7 1039.2C1026.4 1041 1033.2 1044.3 1040 1048.1C1046.7 1052 1053.5 1056.4 1060.3 1060.8C1067 1065.2 1073.8 1069.7 1080.5 1073.5C1089 1078.3 1097.5 1082.1 1105.9 1084.9C1114.4 1087.7 1122.8 1089.4 1131.3 1090.5C1139.7 1091.6 1148.2 1092.2 1156.7 1092.5C1165.1 1092.8 1173.6 1092.9 1182 1092.5C1190.5 1092.2 1198.9 1091.4 1207.4 1090C1215.9 1088.6 1224.3 1086.6 1232.8 1083.6C1241.2 1080.7 1249.7 1076.9 1258.1 1073.5C1266.6 1070.1 1275 1067 1283.5 1064.6C1289 1063 1294.5 1061.7 1300 1060.8C1308.5 1059.4 1316.9 1058.7 1325.4 1058.3C1338.1 1057.6 1350.7 1057.2 1363.4 1057C1376.1 1056.8 1388.8 1056.9 1401.5 1057C1414.2 1057.1 1426.8 1057.4 1439.5 1057.8C1448 1058 1456.4 1058.3 1464.9 1059C1471.7 1059.6 1478.4 1060.5 1485.2 1062.1C1491.1 1063.5 1497 1065.4 1503 1067.1C1509.7 1069.2 1516.5 1070.9 1523.3 1072.2C1530 1073.5 1536.8 1074.3 1543.5 1075.3C1551.2 1076.4 1558.8 1077.7 1566.4 1078.6C1574.8 1079.5 1583.3 1079.8 1591.8 1079.8C1598.5 1079.9 1605.3 1079.8 1612 1078.6C1618 1077.5 1623.9 1075.6 1629.8 1073.5C1634.9 1071.7 1640 1069.8 1645 1067.1C1650.1 1064.5 1655.2 1061 1660.3 1058.3C1665.1 1055.7 1670 1053.8 1674.8 1051.9" class="l" stroke="#f28a2e"/>
<path d="M789.5 1071h0M671 1088.1h0m510.5 0h0M542.5 1105.2h0m183.5 0h0m149 0h0m167.5 0h0m269.5 0h0m178.5 0h0m83.5 0h0m61.5 0h0m19.5 0h0m11 0h0M255.5 1122.3h0m337.5 0h0m65.5 0h0m46 0h0m40 0h0m61.5 0h0m57.5 0h0m34.5 0h0m25.5 0h0m65 0h0m41 0h0m58.5 0h0m77 0h0m83 0h0m98.5 0h0m39.5 0h0m50.5 0h0m52.5 0h0m42 0h0m66 0h0m37 0h0m18 0h0m9.5 0h0m5.5 0h0m7 0h0M308.5 1139.3h0m90 0h0m105 0h0m25 0h0m28 0h0m30.5 0h0m51 0h0m62 0h0m23.5 0h0m45 0h0m29 0h0m29.5 0h0m47.5 0h0m24 0h0m26.5 0h0m37.5 0h0m21.5 0h0m36 0h0m49.5 0h0m54.5 0h0m17 0h0m36.5 0h0m24 0h0m25.5 0h0m52.5 0h0m53 0h0m37 0h0m15.5 0h0m68 0h0m30.5 0h0m23 0h0m30 0h0m31.5 0h0m47.5 0h0m21.5 0h0m16 0h0m5.5 0h0m4.5 0h0m3.5 0h0m5 0h0M183 1156.4h0m101 0h0m74.5 0h0m41 0h0m56.5 0h0m32 0h0m44 0h0m49.5 0h0m40 0h0m29.5 0h0m46 0h0m43 0h0m33.5 0h0m33.5 0h0m46.5 0h0m28.5 0h0m14.5 0h0m24 0h0m21.5 0h0m42.5 0h0m31 0h0m21 0h0m29 0h0m17 0h0m61.5 0h0m39 0h0m20 0h0m32.5 0h0m21.5 0h0m29 0h0m45 0h0m56 0h0m52 0h0m44.5 0h0m33 0h0m27 0h0m50.5 0h0m30.5 0h0m23 0h0m8.5 0h0m9.5 0h0m7.5 0h0M233.5 1173.5h0m64.5 0h0m18 0h0m49.5 0h0m32.5 0h0m35 0h0m40.5 0h0m12 0h0m22 0h0m40.5 0h0m16 0h0m48 0h0m62.5 0h0m145 0h0m67.5 0h0m48.5 0h0m49 0h0m54 0h0m47.5 0h0m50.5 0h0m35 0h0m21.5 0h0m42.5 0h0m36.5 0h0m30 0h0m40.5 0h0m30 0h0m73 0h0m108.5 0h0m69 0h0m28.5 0h0M333.5 1190.6h0m99 0h0m67 0h0m107 0h0m233.5 0h0m198 0h0m138.5 0h0m103 0h0m105.5 0h0m271.5 0h0M261.5 1207.6h0m71 0h0m475 0h0m784 0h0M315 1224.7h0" class="p" stroke="#69c834"/>
<path d="M1139 1071h0M692.5 1088.1h0m745 0h0M549.5 1105.2h0m193.5 0h0m167 0h0m215.5 0h0m236 0h0m131 0h0m82 0h0m61.5 0h0m19.5 0h0m12 0h0M383 1122.3h0m220 0h0m56 0h0m52 0h0m37 0h0m60.5 0h0m56.5 0h0m39.5 0h0m20.5 0h0m65.5 0h0m41 0h0m58 0h0m85.5 0h0m93.5 0h0m81 0h0m48.5 0h0m59 0h0m50.5 0h0m34 0h0m62.5 0h0m39.5 0h0m9.5 0h0m9 0h0m6 0h0m7 0h0M163.5 1139.3h0m158.5 0h0m87 0h0m108 0h0m15 0h0m26.5 0h0m39 0h0m58 0h0m49 0h0m27.5 0h0m38 0h0m30.5 0h0m38 0h0m37 0h0m27.5 0h0m29 0h0m30.5 0h0m32 0h0m31 0h0m45 0h0m54.5 0h0m27 0h0m31 0h0m23 0h0m23 0h0m56 0h0m53 0h0m33 0h0m21 0h0m65.5 0h0m29 0h0m22 0h0m30.5 0h0m33 0h0m45.5 0h0m27.5 0h0m8 0h0m5.5 0h0m5 0h0m3.5 0h0m5 0h0M200.5 1156.4h0m102 0h0m63 0h0m42.5 0h0m52 0h0m28 0h0m57.5 0h0m42 0h0m36.5 0h0m32 0h0m54.5 0h0m35 0h0m30 0h0m47 0h0m33.5 0h0m26.5 0h0m21.5 0h0m17.5 0h0m26.5 0h0m49 0h0m20.5 0h0m19.5 0h0m29 0h0m19.5 0h0m59.5 0h0m42 0h0m20.5 0h0m28.5 0h0m22 0h0m30 0h0m46 0h0m53.5 0h0m56.5 0h0m41.5 0h0m34.5 0h0m26.5 0h0m50.5 0h0m34 0h0m18.5 0h0m7 0h0m9 0h0M241.5 1173.5h0m57 0h0m30 0h0m38.5 0h0m35.5 0h0m37 0h0m34 0h0m14 0h0m23 0h0m38.5 0h0m15 0h0m48.5 0h0m90.5 0h0m130.5 0h0m54.5 0h0m49.5 0h0m50.5 0h0m51.5 0h0m50 0h0m47.5 0h0m36.5 0h0m20 0h0m43 0h0m44.5 0h0m26.5 0h0m40.5 0h0m35 0h0m96 0h0m80 0h0m71.5 0h0m31 0h0M299 1190.6h0m39 0h0m97.5 0h0m82 0h0m102.5 0h0m230 0h0m191.5 0h0m142.5 0h0m105.5 0h0m103 0h0m266.5 0h0M261.5 1207.6h0m118.5 0h0m568.5 0h0M376.5 1224.7h0" class="p" stroke="#69c834"/>
<path d="M1507.5 1071h0M772.5 1088.1h0m792.5 0h0M646.5 1105.2h0m97 0h0m175 0h0m238 0h0m209 0h0m133 0h0m80 0h0m59 0h0m19 0h0m13.5 0h0M424 1122.3h0m200 0h0m45.5 0h0m48 0h0m32 0h0m68 0h0m60.5 0h0m28 0h0m32 0h0m58.5 0h0m66.5 0h0m70 0h0m56 0h0m98 0h0m71.5 0h0m45.5 0h0m64 0h0m40.5 0h0m59 0h0m38 0h0m38.5 0h0m11.5 0h0m7.5 0h0m6 0h0m6.5 0h0M183 1139.3h0m140.5 0h0m115 0h0m82 0h0m13.5 0h0m28.5 0h0m36 0h0m66.5 0h0m40.5 0h0m28 0h0m37.5 0h0m30.5 0h0m43.5 0h0m32.5 0h0m27.5 0h0m28.5 0h0m32 0h0m30.5 0h0m35.5 0h0m44.5 0h0m51 0h0m37.5 0h0m23.5 0h0m20 0h0m22.5 0h0m63.5 0h0m44.5 0h0m33.5 0h0m40 0h0m48.5 0h0m28 0h0m24.5 0h0m26.5 0h0m34 0h0m53.5 0h0m18.5 0h0m9 0h0m4 0h0m5.5 0h0m3.5 0h0m4.5 0h0M201.5 1156.4h0m104.5 0h0m61 0h0m46 0h0m49 0h0m31 0h0m62 0h0m45.5 0h0m29.5 0h0m27 0h0m58.5 0h0m32.5 0h0m38 0h0m39 0h0m32.5 0h0m26.5 0h0m27 0h0m14 0h0m27.5 0h0m50.5 0h0m15 0h0m19 0h0m30.5 0h0m32 0h0m45.5 0h0m43.5 0h0m22 0h0m28.5 0h0m23 0h0m37 0h0m43.5 0h0m45.5 0h0m56 0h0m52 0h0m25 0h0m42.5 0h0m36.5 0h0m31.5 0h0m18.5 0h0m6.5 0h0m9 0h0M156 1173.5h0m88 0h0m56.5 0h0m38 0h0m35 0h0m34.5 0h0m45.5 0h0m24 0h0m11.5 0h0m39 0h0m22 0h0m15.5 0h0m49.5 0h0m121.5 0h0m101.5 0h0m52 0h0m49.5 0h0m50 0h0m69 0h0m38 0h0m48.5 0h0m30 0h0m20.5 0h0m54 0h0m33.5 0h0m29.5 0h0m36 0h0m47.5 0h0m97 0h0m68.5 0h0m75.5 0h0m26.5 0h0M302.5 1190.6h0m49 0h0m87.5 0h0m93.5 0h0m121 0h0m213 0h0m192 0h0m130 0h0m113.5 0h0m120.5 0h0M268 1207.6h0m117 0h0m660 0h0M591 1224.7h0" class="p" stroke="#69c834"/>
<path d="M1131 1054h0M802 1088.1h0m791.5 0h0M659 1105.2h0m92.5 0h0m183 0h0m224.5 0h0m208.5 0h0m164 0h0m53.5 0h0m52.5 0h0m23 0h0m9.5 0h0M489.5 1122.3h0m152 0h0m34.5 0h0m45 0h0m31 0h0m80.5 0h0m49.5 0h0m27 0h0m30 0h0m61.5 0h0m63 0h0m81 0h0m47.5 0h0m115.5 0h0m51.5 0h0m52 0h0m58.5 0h0m44 0h0m54.5 0h0m38 0h0m40 0h0m10.5 0h0m6.5 0h0m7.5 0h0m5 0h0M194.5 1139.3h0m142.5 0h0m117.5 0h0m66 0h0m14 0h0m36 0h0m31 0h0m70.5 0h0m33.5 0h0m30.5 0h0m40.5 0h0m32.5 0h0m40.5 0h0m31 0h0m30 0h0m30.5 0h0m27.5 0h0m37.5 0h0m28.5 0h0m45.5 0h0m49 0h0m39 0h0m20.5 0h0m20 0h0m23.5 0h0m62.5 0h0m47.5 0h0m34.5 0h0m45.5 0h0m44 0h0m28 0h0m26.5 0h0m22 0h0m33 0h0m54.5 0h0m18 0h0m6.5 0h0m4 0h0m6 0h0m3.5 0h0m5 0h0M209.5 1156.4h0m108 0h0m51.5 0h0m61.5 0h0m37 0h0m39.5 0h0m49.5 0h0m45.5 0h0m28.5 0h0m31 0h0m56.5 0h0m32 0h0m40.5 0h0m40.5 0h0m34.5 0h0m19 0h0m28.5 0h0m15.5 0h0m24.5 0h0m50.5 0h0m17.5 0h0m17.5 0h0m32.5 0h0m28.5 0h0m48.5 0h0m41 0h0m26.5 0h0m28 0h0m19.5 0h0m40 0h0m50 0h0m48.5 0h0m45.5 0h0m51 0h0m30 0h0m45 0h0m31 0h0m29 0h0m18 0h0m7 0h0m9.5 0h0M167.5 1173.5h0m86 0h0m51 0h0m37 0h0m41 0h0m25.5 0h0m58 0h0m16 0h0m12.5 0h0m36 0h0m24 0h0m29 0h0m31.5 0h0m124 0h0m101.5 0h0m58 0h0m42.5 0h0m58.5 0h0m62.5 0h0m34.5 0h0m55 0h0m23.5 0h0m30.5 0h0m46.5 0h0m34 0h0m31 0h0m34 0h0m45 0h0m101.5 0h0m64.5 0h0m76 0h0m26.5 0h0M321 1190.6h0m30.5 0h0m104.5 0h0m81.5 0h0m126 0h0m218.5 0h0m233.5 0h0m82.5 0h0m116 0h0m156.5 0h0M275 1207.6h0m166.5 0h0m651 0h0M707 1224.7h0" class="p" stroke="#69c834"/>
<path d="M900 1088.1h0m739 0h0M441 1105.2h0m256.5 0h0m68 0h0m174 0h0m227.5 0h0m281.5 0h0m103.5 0h0m46.5 0h0m44 0h0m19 0h0m10.5 0h0M541.5 1122.3h0m100 0h0m44.5 0h0m42 0h0m36 0h0m72 0h0m46.5 0h0m29 0h0m45 0h0m50.5 0h0m61 0h0m86 0h0m55 0h0m101 0h0m52.5 0h0m52.5 0h0m58.5 0h0m49 0h0m57 0h0m27 0h0m41 0h0m11 0h0m5.5 0h0m7 0h0M232 1139.3h0m112 0h0m123 0h0m58.5 0h0m18 0h0m28.5 0h0m33.5 0h0m72.5 0h0m28 0h0m33.5 0h0m41.5 0h0m34.5 0h0m35 0h0m31 0h0m33.5 0h0m29.5 0h0m26 0h0m35.5 0h0m36.5 0h0m40.5 0h0m51 0h0m37.5 0h0m17 0h0m25 0h0m27.5 0h0m55.5 0h0m47.5 0h0m32.5 0h0m47 0h0m45.5 0h0m30.5 0h0m24 0h0m20.5 0h0m47 0h0m40 0h0m18 0h0m5.5 0h0m4.5 0h0m5.5 0h0m4 0h0m4.5 0h0M217.5 1156.4h0m116.5 0h0m38.5 0h0m61 0h0m37.5 0h0m36 0h0m53 0h0m51 0h0m24 0h0m30 0h0m62 0h0m26 0h0m38.5 0h0m43 0h0m31 0h0m20.5 0h0m30 0h0m17 0h0m25.5 0h0m45.5 0h0m20 0h0m15 0h0m32.5 0h0m33.5 0h0m48 0h0m38 0h0m25 0h0m30.5 0h0m23 0h0m36 0h0m65 0h0m36 0h0m42.5 0h0m49.5 0h0m32 0h0m52.5 0h0m31 0h0m25.5 0h0m12.5 0h0m7 0h0m9 0h0M168 1173.5h0m104.5 0h0m32 0h0m38 0h0m41.5 0h0m31 0h0m53 0h0m14.5 0h0m14.5 0h0m41.5 0h0m16.5 0h0m32 0h0m47.5 0h0m120.5 0h0m91 0h0m57 0h0m42 0h0m55 0h0m68.5 0h0m33 0h0m55 0h0m18.5 0h0m33.5 0h0m43.5 0h0m39.5 0h0m29 0h0m35 0h0m43.5 0h0m108 0h0m62.5 0h0m71 0h0m27.5 0h0M325 1190.6h0m73.5 0h0m57.5 0h0m101 0h0m221.5 0h0m149 0h0m195.5 0h0m75.5 0h0m149 0h0m240.5 0h0M276.5 1207.6h0m186.5 0h0m669 0h0M817.5 1224.7h0" class="p" stroke="#69c834"/>
<path d="M906 1088.1h0m751.5 0h0M450 1105.2h0m256 0h0m73 0h0m244.5 0h0m151.5 0h0m279 0h0m106 0h0m40.5 0h0m46 0h0m16.5 0h0m12.5 0h0M546 1122.3h0m98 0h0m48 0h0m44 0h0m33 0h0m72.5 0h0m44.5 0h0m28.5 0h0m52 0h0m42 0h0m60 0h0m88.5 0h0m67.5 0h0m89 0h0m64 0h0m38.5 0h0m61 0h0m45.5 0h0m57.5 0h0m32.5 0h0m35 0h0m11 0h0m6 0h0m7.5 0h0M236.5 1139.3h0m114.5 0h0m134.5 0h0m40.5 0h0m22.5 0h0m26.5 0h0m33 0h0m80 0h0m20.5 0h0m32 0h0m50 0h0m25 0h0m42.5 0h0m27 0h0m32.5 0h0m29 0h0m25.5 0h0m44 0h0m37 0h0m47.5 0h0m33.5 0h0m38 0h0m17 0h0m24.5 0h0m48 0h0m36 0h0m55 0h0m24.5 0h0m47 0h0m51.5 0h0m24 0h0m29.5 0h0m15.5 0h0m53.5 0h0m36 0h0m16 0h0m4.5 0h0m7 0h0m3.5 0h0m5 0h0m4 0h0M262.5 1156.4h0m73.5 0h0m39.5 0h0m64.5 0h0m36 0h0m33 0h0m52 0h0m50.5 0h0m33 0h0m22 0h0m63.5 0h0m26.5 0h0m40.5 0h0m44.5 0h0m24.5 0h0m21.5 0h0m29.5 0h0m19.5 0h0m37 0h0m36 0h0m24 0h0m18.5 0h0m20.5 0h0m58 0h0m29 0h0m35.5 0h0m25 0h0m28.5 0h0m28 0h0m33 0h0m65.5 0h0m37 0h0m46.5 0h0m43.5 0h0m29 0h0m52.5 0h0m31 0h0m26.5 0h0m13 0h0m6.5 0h0m9.5 0h0M197 1173.5h0m75.5 0h0m32 0h0m44 0h0m38.5 0h0m28.5 0h0m53 0h0m16.5 0h0m16 0h0m38.5 0h0m17.5 0h0m43.5 0h0m36.5 0h0m129.5 0h0m89.5 0h0m60 0h0m42.5 0h0m59 0h0m53 0h0m50.5 0h0m36.5 0h0m20.5 0h0m32 0h0m43 0h0m45 0h0m29 0h0m33 0h0m42.5 0h0m113.5 0h0m65.5 0h0m65 0h0m25.5 0h0M326.5 1190.6h0m82.5 0h0m52.5 0h0m100 0h0m239 0h0m168.5 0h0m169.5 0h0m77 0h0m137.5 0h0m236.5 0h0M292.5 1207.6h0m226 0h0m704.5 0h0M994.5 1224.7h0" class="p" stroke="#69c834"/>
<path d="M940.5 1088.1h0m723 0h0M469 1105.2h0m239 0h0m113 0h0m214.5 0h0m189.5 0h0m257 0h0m87.5 0h0m37 0h0m41 0h0m15.5 0h0m12.5 0h0M565 1122.3h0m86.5 0h0m40.5 0h0m44.5 0h0m38 0h0m76.5 0h0m39.5 0h0m27.5 0h0m53.5 0h0m50.5 0h0m48 0h0m90 0h0m70 0h0m84 0h0m65 0h0m44 0h0m55.5 0h0m45.5 0h0m66.5 0h0m24.5 0h0m35 0h0m11 0h0m4.5 0h0m6.5 0h0M237 1139.3h0m140.5 0h0m116.5 0h0m32.5 0h0m23.5 0h0m30 0h0m49.5 0h0m59 0h0m23.5 0h0m43.5 0h0m37 0h0m29 0h0m36.5 0h0m31.5 0h0m29 0h0m29 0h0m26 0h0m43 0h0m47.5 0h0m49 0h0m27 0h0m34 0h0m19 0h0m22.5 0h0m52 0h0m47.5 0h0m40.5 0h0m23.5 0h0m51 0h0m47 0h0m25 0h0m29 0h0m19 0h0m54.5 0h0m31 0h0m14.5 0h0m5 0h0m6.5 0h0m4 0h0m5 0h0m4 0h0M266 1156.4h0m76.5 0h0m52.5 0h0m52 0h0m38 0h0m26 0h0m64 0h0m44 0h0m29.5 0h0m27.5 0h0m55.5 0h0m28.5 0h0m41 0h0m46 0h0m29 0h0m16 0h0m27 0h0m18.5 0h0m38.5 0h0m34.5 0h0m24.5 0h0m25.5 0h0m14.5 0h0m59 0h0m30.5 0h0m33 0h0m28 0h0m28.5 0h0m23 0h0m43 0h0m65.5 0h0m34 0h0m55.5 0h0m32 0h0m32 0h0m53.5 0h0m28 0h0m25.5 0h0m8 0h0m11 0h0m5 0h0M205 1173.5h0m81 0h0m26.5 0h0m47 0h0m34 0h0m23 0h0m52.5 0h0m16 0h0m19.5 0h0m37 0h0m16 0h0m49.5 0h0m32.5 0h0m157 0h0m64 0h0m65.5 0h0m49.5 0h0m47.5 0h0m54 0h0m46.5 0h0m35.5 0h0m25.5 0h0m41 0h0m29 0h0m44.5 0h0m39 0h0m30 0h0m51.5 0h0m116 0h0m62.5 0h0m49 0h0m26 0h0M328 1190.6h0m82 0h0m79 0h0m88 0h0m226.5 0h0m178.5 0h0m160.5 0h0m74.5 0h0m147.5 0h0m229.5 0h0M295 1207.6h0m251.5 0h0m729 0h0M1078.5 1224.7h0" class="p" stroke="#69c834"/>
<path d="M557 1088.1h0m544.5 0h0m564 0h0M531.5 1105.2h0m181.5 0h0m115 0h0m207.5 0h0m222 0h0m231 0h0m84 0h0m49.5 0h0m28.5 0h0m13 0h0M571.5 1122.3h0m82.5 0h0m48.5 0h0m39.5 0h0m49.5 0h0m61.5 0h0m40.5 0h0m25.5 0h0m53 0h0m55 0h0m50 0h0m87.5 0h0m74 0h0m82.5 0h0m61 0h0m51.5 0h0m49.5 0h0m41 0h0m71 0h0m29.5 0h0m26.5 0h0m10.5 0h0m4 0h0m8 0h0M237 1139.3h0m149.5 0h0m111 0h0m29 0h0m24.5 0h0m35 0h0m48 0h0m57.5 0h0m28 0h0m39.5 0h0m37 0h0m28.5 0h0m44 0h0m22.5 0h0m29 0h0m41.5 0h0m22 0h0m35.5 0h0m48 0h0m51 0h0m22.5 0h0m34.5 0h0m22.5 0h0m28 0h0m47 0h0m56 0h0m28 0h0m27 0h0m47 0h0m50 0h0m24 0h0m29 0h0m25.5 0h0m49 0h0m29 0h0m15.5 0h0m3.5 0h0m7 0h0m2.5 0h0m5 0h0m4.5 0h0M276 1156.4h0m68.5 0h0m52.5 0h0m58.5 0h0m32 0h0m30.5 0h0m61.5 0h0m40.5 0h0m31 0h0m42.5 0h0m40.5 0h0m27 0h0m42 0h0m50.5 0h0m23.5 0h0m17 0h0m26 0h0m18 0h0m41 0h0m33 0h0m23 0h0m26 0h0m14 0h0m69 0h0m26 0h0m31.5 0h0m32.5 0h0m20.5 0h0m29.5 0h0m44 0h0m58.5 0h0m49.5 0h0m41 0h0m35 0h0m30.5 0h0m51 0h0m27.5 0h0m25.5 0h0m8 0h0m10.5 0h0m7.5 0h0M229.5 1173.5h0m68.5 0h0m15.5 0h0m48.5 0h0m31.5 0h0m34.5 0h0m41 0h0m16 0h0m20 0h0m37.5 0h0m16 0h0m49.5 0h0m35.5 0h0m168 0h0m69 0h0m46.5 0h0m56 0h0m42.5 0h0m60 0h0m42.5 0h0m40.5 0h0m20 0h0m40.5 0h0m28.5 0h0m43.5 0h0m37.5 0h0m31.5 0h0m55 0h0m127 0h0m64.5 0h0m33 0h0m25 0h0M330.5 1190.6h0m95 0h0m71 0h0m106.5 0h0m206.5 0h0m198.5 0h0m145.5 0h0m93 0h0m128.5 0h0m269.5 0h0M252 1207.6h0m71.5 0h0m369 0h0m625.5 0h0" class="p" stroke="#69c834"/>
<path d="M153.3 1125.8C157.2 1128.3 161.1 1130.7 165 1133.2C173.3 1136.6 181.7 1140 190 1143.5C193.8 1144.4 197.7 1145.3 201.5 1146.3C217.7 1150.2 233.8 1154.3 250 1158.3C250.7 1158.4 251.5 1158.4 252.2 1158.5C262.4 1159.2 272.5 1159.8 282.7 1160C297.9 1160.2 313.1 1159.4 328.3 1158.3C345.2 1157.1 362.2 1155.5 379.1 1154.2C396 1152.8 412.9 1151.6 429.8 1151C446.7 1150.4 463.6 1150.3 480.5 1149.4C487 1149 493.5 1148.6 500 1148.1C510.4 1147.2 520.9 1146.2 531.3 1145.3C544 1144.2 556.7 1143.1 569.3 1141.4C582 1139.6 594.7 1137.1 607.4 1134.9C620.1 1132.7 632.8 1130.8 645.4 1129.4C653.9 1128.5 662.4 1127.8 670.8 1127.2C680.5 1126.4 690.3 1125.6 700 1124.9C708.5 1124.3 716.9 1123.7 725.4 1123.4C733.8 1123.1 742.3 1123.1 750.7 1123.4C759.2 1123.7 767.7 1124.2 776.1 1124.9C784.1 1125.6 792 1126.3 800 1127.5C800.5 1127.5 801 1127.6 801.5 1127.7C809.9 1128.9 818.4 1130.6 826.8 1131.7C835.3 1132.9 843.8 1133.6 852.2 1134C869.1 1134.9 886 1135 903 1135.3C919.9 1135.5 936.8 1135.9 953.7 1136.1C970.6 1136.2 987.5 1136 1004.4 1136.6C1017.1 1137 1029.8 1137.8 1042.5 1139.4C1055.2 1140.9 1067.9 1143.1 1080.5 1144.4C1093.2 1145.8 1105.9 1146.2 1118.6 1146.2C1131.3 1146.2 1144 1145.9 1156.7 1145.7C1173.6 1145.4 1190.5 1145.4 1207.4 1146.2C1224.3 1147 1241.2 1148.5 1258.1 1147C1272.1 1145.7 1286 1142.2 1300 1141.1C1308.5 1140.5 1316.9 1140.6 1325.4 1140.4C1333.8 1140.1 1342.3 1139.4 1350.7 1138.6C1359.2 1137.8 1367.7 1136.9 1376.1 1136.1C1384.6 1135.2 1393 1134.4 1401.5 1133.5C1409.9 1132.6 1418.4 1131.7 1426.8 1131C1443.8 1129.6 1460.7 1129.2 1477.6 1129.2C1494.5 1129.2 1511.4 1129.5 1528.3 1129.7C1545.2 1130 1562.2 1130.2 1579.1 1130.2C1596 1130.2 1612.9 1129.9 1629.8 1129.7C1644.8 1129.5 1659.8 1129.4 1674.8 1129.2L1674.8 1151.2C1659.8 1151.4 1644.8 1151.5 1629.8 1151.7C1612.9 1151.9 1596 1152.2 1579.1 1152.2C1562.2 1152.2 1545.2 1152 1528.3 1151.7C1511.4 1151.5 1494.5 1151.2 1477.6 1151.2C1460.7 1151.2 1443.8 1151.6 1426.8 1153C1418.4 1153.7 1409.9 1154.6 1401.5 1155.5C1393 1156.4 1384.6 1157.2 1376.1 1158.1C1367.7 1158.9 1359.2 1159.8 1350.7 1160.6C1342.3 1161.4 1333.8 1162.1 1325.4 1162.4C1316.9 1162.6 1308.5 1162.5 1300 1163.1C1286 1164.2 1272.1 1167.7 1258.1 1169C1241.2 1170.5 1224.3 1169 1207.4 1168.2C1190.5 1167.4 1173.6 1167.4 1156.7 1167.7C1144 1167.9 1131.3 1168.2 1118.6 1168.2C1105.9 1168.2 1093.2 1167.8 1080.5 1166.4C1067.9 1165.1 1055.2 1162.9 1042.5 1161.4C1029.8 1159.8 1017.1 1159 1004.4 1158.6C987.5 1158 970.6 1158.2 953.7 1158.1C936.8 1157.9 919.9 1157.5 903 1157.3C886 1157 869.1 1156.9 852.2 1156C843.8 1155.6 835.3 1154.9 826.8 1153.7C818.4 1152.6 809.9 1150.9 801.5 1149.7C801 1149.6 800.5 1149.5 800 1149.5C792 1148.5 784.1 1147.9 776.1 1147.4C767.7 1146.9 759.2 1146.5 750.7 1146.4C742.3 1146.3 733.8 1146.4 725.4 1146.9C716.9 1147.3 708.5 1148.1 700 1148.9C690.3 1149.8 680.5 1150.8 670.8 1151.7C662.4 1152.6 653.9 1153.4 645.4 1154.5C632.8 1156.2 620.1 1158.3 607.4 1160.7C594.7 1163.2 582 1166 569.3 1168C556.7 1170 544 1171.3 531.3 1172.7C520.9 1173.8 510.4 1175 500 1176.1C493.5 1176.7 487 1177.3 480.5 1177.7C463.6 1178.9 446.7 1179.2 429.8 1180.1C412.9 1181 396 1182.5 379.1 1184.1C362.2 1185.7 345.2 1187.6 328.3 1189.1C313.1 1190.4 297.9 1191.5 282.7 1191.5C272.5 1191.5 262.4 1191 252.2 1190.4C251.5 1190.4 250.7 1190.4 250 1190.3C233.8 1192.3 217.7 1194.1 201.5 1196.1C197.7 1196.5 193.8 1197 190 1197.5C181.7 1200 173.3 1202.6 165 1205.2C161.1 1207.3 157.2 1209.4 153.3 1211.4Z" fill="#69c834" fill-opacity=".2"/>
<path d="M153.3 1125.8C157.2 1128.3 161.1 1130.7 165 1133.2C173.3 1136.6 181.7 1140 190 1143.5C193.8 1144.4 197.7 1145.3 201.5 1146.3C217.7 1150.2 233.8 1154.3 250 1158.3C250.7 1158.4 251.5 1158.4 252.2 1158.5C262.4 1159.2 272.5 1159.8 282.7 1160C297.9 1160.2 313.1 1159.4 328.3 1158.3C345.2 1157.1 362.2 1155.5 379.1 1154.2C396 1152.8 412.9 1151.6 429.8 1151C446.7 1150.4 463.6 1150.3 480.5 1149.4C487 1149 493.5 1148.6 500 1148.1C510.4 1147.2 520.9 1146.2 531.3 1145.3C544 1144.2 556.7 1143.1 569.3 1141.4C582 1139.6 594.7 1137.1 607.4 1134.9C620.1 1132.7 632.8 1130.8 645.4 1129.4C653.9 1128.5 662.4 1127.8 670.8 1127.2C680.5 1126.4 690.3 1125.6 700 1124.9C708.5 1124.3 716.9 1123.7 725.4 1123.4C733.8 1123.1 742.3 1123.1 750.7 1123.4C759.2 1123.7 767.7 1124.2 776.1 1124.9C784.1 1125.6 792 1126.3 800 1127.5C800.5 1127.5 801 1127.6 801.5 1127.7C809.9 1128.9 818.4 1130.6 826.8 1131.7C835.3 1132.9 843.8 1133.6 852.2 1134C869.1 1134.9 886 1135 903 1135.3C919.9 1135.5 936.8 1135.9 953.7 1136.1C970.6 1136.2 987.5 1136 1004.4 1136.6C1017.1 1137 1029.8 1137.8 1042.5 1139.4C1055.2 1140.9 1067.9 1143.1 1080.5 1144.4C1093.2 1145.8 1105.9 1146.2 1118.6 1146.2C1131.3 1146.2 1144 1145.9 1156.7 1145.7C1173.6 1145.4 1190.5 1145.4 1207.4 1146.2C1224.3 1147 1241.2 1148.5 1258.1 1147C1272.1 1145.7 1286 1142.2 1300 1141.1C1308.5 1140.5 1316.9 1140.6 1325.4 1140.4C1333.8 1140.1 1342.3 1139.4 1350.7 1138.6C1359.2 1137.8 1367.7 1136.9 1376.1 1136.1C1384.6 1135.2 1393 1134.4 1401.5 1133.5C1409.9 1132.6 1418.4 1131.7 1426.8 1131C1443.8 1129.6 1460.7 1129.2 1477.6 1129.2C1494.5 1129.2 1511.4 1129.5 1528.3 1129.7C1545.2 1130 1562.2 1130.2 1579.1 1130.2C1596 1130.2 1612.9 1129.9 1629.8 1129.7C1644.8 1129.5 1659.8 1129.4 1674.8 1129.2M153.3 1211.4C157.2 1209.4 161.1 1207.3 165 1205.2C173.3 1202.6 181.7 1200 190 1197.5C193.8 1197 197.7 1196.5 201.5 1196.1C217.7 1194.1 233.8 1192.3 250 1190.3C250.7 1190.4 251.5 1190.4 252.2 1190.4C262.4 1191 272.5 1191.5 282.7 1191.5C297.9 1191.5 313.1 1190.4 328.3 1189.1C345.2 1187.6 362.2 1185.7 379.1 1184.1C396 1182.5 412.9 1181 429.8 1180.1C446.7 1179.2 463.6 1178.9 480.5 1177.7C487 1177.3 493.5 1176.7 500 1176.1C510.4 1175 520.9 1173.8 531.3 1172.7C544 1171.3 556.7 1170 569.3 1168C582 1166 594.7 1163.2 607.4 1160.7C620.1 1158.3 632.8 1156.2 645.4 1154.5C653.9 1153.4 662.4 1152.6 670.8 1151.7C680.5 1150.8 690.3 1149.8 700 1148.9C708.5 1148.1 716.9 1147.3 725.4 1146.9C733.8 1146.4 742.3 1146.3 750.7 1146.4C759.2 1146.5 767.7 1146.9 776.1 1147.4C784.1 1147.9 792 1148.5 800 1149.5C800.5 1149.5 801 1149.6 801.5 1149.7C809.9 1150.9 818.4 1152.6 826.8 1153.7C835.3 1154.9 843.8 1155.6 852.2 1156C869.1 1156.9 886 1157 903 1157.3C919.9 1157.5 936.8 1157.9 953.7 1158.1C970.6 1158.2 987.5 1158 1004.4 1158.6C1017.1 1159 1029.8 1159.8 1042.5 1161.4C1055.2 1162.9 1067.9 1165.1 1080.5 1166.4C1093.2 1167.8 1105.9 1168.2 1118.6 1168.2C1131.3 1168.2 1144 1167.9 1156.7 1167.7C1173.6 1167.4 1190.5 1167.4 1207.4 1168.2C1224.3 1169 1241.2 1170.5 1258.1 1169C1272.1 1167.7 1286 1164.2 1300 1163.1C1308.5 1162.5 1316.9 1162.6 1325.4 1162.4C1333.8 1162.1 1342.3 1161.4 1350.7 1160.6C1359.2 1159.8 1367.7 1158.9 1376.1 1158.1C1384.6 1157.2 1393 1156.4 1401.5 1155.5C1409.9 1154.6 1418.4 1153.7 1426.8 1153C1443.8 1151.6 1460.7 1151.2 1477.6 1151.2C1494.5 1151.2 1511.4 1151.5 1528.3 1151.7C1545.2 1152 1562.2 1152.2 1579.1 1152.2C1596 1152.2 1612.9 1151.9 1629.8 1151.7C1644.8 1151.5 1659.8 1151.4 1674.8 1151.2" class="d" stroke="#79b356"/>
<path d="M153.3 1168.6C169.4 1169.4 185.4 1170.2 201.5 1171.2C218.4 1172.2 235.3 1173.4 252.2 1174.5C262.4 1175.1 272.5 1175.6 282.7 1175.7C297.9 1175.9 313.1 1174.9 328.3 1173.7C345.2 1172.3 362.2 1170.6 379.1 1169.1C396 1167.6 412.9 1166.3 429.8 1165.6C446.7 1164.8 463.6 1164.6 480.5 1163.5C497.5 1162.5 514.4 1160.7 531.3 1159C544 1157.7 556.7 1156.6 569.3 1154.7C582 1152.8 594.7 1150.1 607.4 1147.8C620.1 1145.5 632.8 1143.5 645.4 1142C653.9 1141 662.4 1140.2 670.8 1139.4C680.5 1138.6 690.3 1137.7 700 1136.9C708.5 1136.2 716.9 1135.5 725.4 1135.1C733.8 1134.8 742.3 1134.7 750.7 1134.9C759.2 1135.1 767.7 1135.6 776.1 1136.2C784.6 1136.8 793 1137.5 801.5 1138.7C809.9 1139.9 818.4 1141.6 826.8 1142.7C835.3 1143.9 843.8 1144.6 852.2 1145C869.1 1145.9 886 1146 903 1146.3C919.9 1146.5 936.8 1146.9 953.7 1147.1C970.6 1147.2 987.5 1147 1004.4 1147.6C1017.1 1148 1029.8 1148.8 1042.5 1150.4C1055.2 1151.9 1067.9 1154.1 1080.5 1155.4C1093.2 1156.8 1105.9 1157.2 1118.6 1157.2C1131.3 1157.2 1144 1156.9 1156.7 1156.7C1173.6 1156.4 1190.5 1156.4 1207.4 1157.2C1224.3 1158 1241.2 1159.5 1258.1 1158C1272.1 1156.7 1286 1153.2 1300 1152.1C1308.5 1151.5 1316.9 1151.6 1325.4 1151.4C1333.8 1151.1 1342.3 1150.4 1350.7 1149.6C1359.2 1148.8 1367.7 1147.9 1376.1 1147.1C1384.6 1146.2 1393 1145.4 1401.5 1144.5C1409.9 1143.6 1418.4 1142.7 1426.8 1142C1443.8 1140.6 1460.7 1140.2 1477.6 1140.2C1494.5 1140.2 1511.4 1140.5 1528.3 1140.7C1545.2 1141 1562.2 1141.2 1579.1 1141.2C1596 1141.2 1612.9 1140.9 1629.8 1140.7C1644.8 1140.5 1659.8 1140.4 1674.8 1140.2" class="h"/>
<path d="M153.3 1168.6C169.4 1169.4 185.4 1170.2 201.5 1171.2C218.4 1172.2 235.3 1173.4 252.2 1174.5C262.4 1175.1 272.5 1175.6 282.7 1175.7C297.9 1175.9 313.1 1174.9 328.3 1173.7C345.2 1172.3 362.2 1170.6 379.1 1169.1C396 1167.6 412.9 1166.3 429.8 1165.6C446.7 1164.8 463.6 1164.6 480.5 1163.5C497.5 1162.5 514.4 1160.7 531.3 1159C544 1157.7 556.7 1156.6 569.3 1154.7C582 1152.8 594.7 1150.1 607.4 1147.8C620.1 1145.5 632.8 1143.5 645.4 1142C653.9 1141 662.4 1140.2 670.8 1139.4C680.5 1138.6 690.3 1137.7 700 1136.9C708.5 1136.2 716.9 1135.5 725.4 1135.1C733.8 1134.8 742.3 1134.7 750.7 1134.9C759.2 1135.1 767.7 1135.6 776.1 1136.2C784.6 1136.8 793 1137.5 801.5 1138.7C809.9 1139.9 818.4 1141.6 826.8 1142.7C835.3 1143.9 843.8 1144.6 852.2 1145C869.1 1145.9 886 1146 903 1146.3C919.9 1146.5 936.8 1146.9 953.7 1147.1C970.6 1147.2 987.5 1147 1004.4 1147.6C1017.1 1148 1029.8 1148.8 1042.5 1150.4C1055.2 1151.9 1067.9 1154.1 1080.5 1155.4C1093.2 1156.8 1105.9 1157.2 1118.6 1157.2C1131.3 1157.2 1144 1156.9 1156.7 1156.7C1173.6 1156.4 1190.5 1156.4 1207.4 1157.2C1224.3 1158 1241.2 1159.5 1258.1 1158C1272.1 1156.7 1286 1153.2 1300 1152.1C1308.5 1151.5 1316.9 1151.6 1325.4 1151.4C1333.8 1151.1 1342.3 1150.4 1350.7 1149.6C1359.2 1148.8 1367.7 1147.9 1376.1 1147.1C1384.6 1146.2 1393 1145.4 1401.5 1144.5C1409.9 1143.6 1418.4 1142.7 1426.8 1142C1443.8 1140.6 1460.7 1140.2 1477.6 1140.2C1494.5 1140.2 1511.4 1140.5 1528.3 1140.7C1545.2 1141 1562.2 1141.2 1579.1 1141.2C1596 1141.2 1612.9 1140.9 1629.8 1140.7C1644.8 1140.5 1659.8 1140.4 1674.8 1140.2" class="l" stroke="#69c834"/>
<path d="M1672 900.3h0M1655.5 934.5h0m19 0h0M1654 951.5h0m10.5 0h0m8 0h0M1647.5 968.6h0m11.5 0h0m12.5 0h0M1580 985.7h0m70 0h0m12 0h0m10 0h0M1543.5 1002.8h0m50 0h0m61 0h0m11 0h0M1488.5 1019.8h0m94.5 0h0m43 0h0m25 0h0M1152 1036.9h0m383.5 0h0m52.5 0h0m32.5 0h0m29.5 0h0M1498.5 1054h0m45 0h0m78.5 0h0M1513.5 1071h0m80.5 0h0m43.5 0h0M1203 1088.1h0m184.5 0h0m93.5 0h0m35.5 0h0m113.5 0h0M1144.5 1105.2h0m99 0h0m94.5 0h0m38.5 0h0m69 0h0m75 0h0M809.5 1122.3h0m344.5 0h0m27.5 0h0m48.5 0h0m69 0h0m39.5 0h0m23 0h0m36.5 0h0m46 0h0m36.5 0h0M910.5 1139.3h0m213.5 0h0m24 0h0m39 0h0m21 0h0m24 0h0m22.5 0h0m43 0h0m36.5 0h0m38.5 0h0m61 0h0M408 1156.4h0m323.5 0h0m47.5 0h0m49 0h0m138.5 0h0m132 0h0m54.5 0h0m25 0h0m25 0h0m22.5 0h0m36 0h0m40.5 0h0m47.5 0h0m35.5 0h0m40 0h0M375.5 1173.5h0m34.5 0h0m49 0h0m48 0h0m50 0h0m87 0h0m59 0h0m33.5 0h0m38 0h0m33 0h0m48.5 0h0m36 0h0m24 0h0m23.5 0h0m34 0h0m30.5 0h0m33 0h0m38 0h0m66 0h0m93 0h0m58 0h0m91.5 0h0M217.5 1190.6h0m88.5 0h0m56 0h0m35 0h0m50 0h0m38 0h0m3 0h0m29 0h0m21.5 0h0m18.5 0h0m23 0h0m35 0h0m43.5 0h0m27.5 0h0m19.5 0h0m26.5 0h0m37 0h0m34.5 0h0m50 0h0m22.5 0h0m10 0h0m12.5 0h0m20.5 0h0m15.5 0h0m13 0h0m35.5 0h0m11.5 0h0m23 0h0m20.5 0h0m30.5 0h0m17 0h0m171.5 0h0M168 1207.6h0m84 0h0m32 0h0m42.5 0h0m22 0h0m35.5 0h0m62 0h0m43 0h0m29 0h0m24.5 0h0m21.5 0h0m29 0h0m27 0h0m21.5 0h0m19 0h0m45 0h0m53.5 0h0m41.5 0h0m77 0h0m42.5 0h0m49 0h0m73.5 0h0m57 0h0M183 1224.7h0m119.5 0h0m49 0h0m203.5 0h0m66.5 0h0m154 0h0m267 0h0" class="p" stroke="#3bb3cf"/>
<path d="M1673.5 900.3h0M1663 917.4h0M1656.5 934.5h0M1654.5 951.5h0m11 0h0m9.5 0h0M1650 968.6h0m11.5 0h0m10.5 0h0M1600.5 985.7h0m52.5 0h0m10.5 0h0m8.5 0h0M1546.5 1002.8h0m57.5 0h0m53 0h0m9 0h0M1504.5 1019.8h0m79 0h0m44 0h0m24.5 0h0M1477 1036.9h0m62.5 0h0m51 0h0m40.5 0h0m19 0h0M1499.5 1054h0m45 0h0m86.5 0h0M1531 1071h0m69 0h0m47.5 0h0M1215.5 1088.1h0m204 0h0m62.5 0h0m48.5 0h0m116 0h0M1157.5 1105.2h0m132 0h0m49 0h0m48 0h0m84 0h0m52 0h0M1006 1122.3h0m150.5 0h0m27.5 0h0m64 0h0m51 0h0m43.5 0h0m25.5 0h0m47 0h0m32 0h0m37.5 0h0M916 1139.3h0m209.5 0h0m33.5 0h0m30 0h0m20 0h0m30 0h0m18.5 0h0m52.5 0h0m29 0h0m38 0h0m60.5 0h0M459.5 1156.4h0m276.5 0h0m55.5 0h0m41 0h0m168 0h0m104.5 0h0m51.5 0h0m26.5 0h0m20 0h0m22.5 0h0m42 0h0m40 0h0m45 0h0m33 0h0m44.5 0h0M376.5 1173.5h0m36.5 0h0m54 0h0m43.5 0h0m50.5 0h0m87.5 0h0m56 0h0m35 0h0m39 0h0m37 0h0m48 0h0m30.5 0h0m31 0h0m17 0h0m37 0h0m27 0h0m32.5 0h0m37.5 0h0m75.5 0h0m84 0h0m67.5 0h0m89 0h0M232 1190.6h0m84 0h0m51 0h0m34 0h0m55 0h0m29 0h0m4 0h0m28.5 0h0m22 0h0m19 0h0m43 0h0m22 0h0m35.5 0h0m29.5 0h0m23.5 0h0m21.5 0h0m37.5 0h0m38 0h0m47 0h0m22 0h0m9 0h0m17 0h0m16 0h0m18 0h0m13 0h0m32.5 0h0m16 0h0m18 0h0m22 0h0m29 0h0m17 0h0m202.5 0h0M183 1207.6h0m72.5 0h0m49 0h0m26 0h0m21 0h0m42 0h0m62.5 0h0m33.5 0h0m32.5 0h0m24.5 0h0m18.5 0h0m32.5 0h0m22.5 0h0m24.5 0h0m20.5 0h0m46 0h0m49 0h0m80 0h0m41.5 0h0m43.5 0h0m46.5 0h0m82.5 0h0m116 0h0M194.5 1224.7h0m110 0h0m121 0h0m131 0h0m82.5 0h0m142 0h0m262.5 0h0" class="p" stroke="#3bb3cf"/>
<path d="M1674 900.3h0M1663 917.4h0M1658 934.5h0M1655.5 951.5h0m12 0h0m8 0h0M1572 968.6h0m78.5 0h0m13 0h0m8.5 0h0M1605.5 985.7h0m49 0h0m9 0h0M1552 1002.8h0m85 0h0m21.5 0h0m9 0h0M1529 1019.8h0m59 0h0m47.5 0h0m18.5 0h0M1483.5 1036.9h0m67.5 0h0m43 0h0m39 0h0m17 0h0M1499.5 1054h0m59.5 0h0m76.5 0h0M1436.5 1071h0m104.5 0h0m63.5 0h0m47.5 0h0M1254.5 1088.1h0m187 0h0m47.5 0h0m50 0h0M1160 1105.2h0m131.5 0h0m56 0h0m40.5 0h0m90.5 0h0m45.5 0h0M1099.5 1122.3h0m60 0h0m29.5 0h0m68.5 0h0m44.5 0h0m46.5 0h0m29 0h0m44.5 0h0m26.5 0h0m38 0h0M975.5 1139.3h0m153.5 0h0m30 0h0m32 0h0m22.5 0h0m30 0h0m19.5 0h0m52 0h0m26 0h0m38 0h0m60 0h0M548.5 1156.4h0m190.5 0h0m57.5 0h0m53.5 0h0m165.5 0h0m97.5 0h0m51.5 0h0m20 0h0m21.5 0h0m23 0h0m39.5 0h0m39 0h0m45.5 0h0m39 0h0m52 0h0M398 1173.5h0m26 0h0m47 0h0m49.5 0h0m41 0h0m100 0h0m45.5 0h0m36 0h0m35.5 0h0m37 0h0m50 0h0m31 0h0m31 0h0m17 0h0m40 0h0m31.5 0h0m36 0h0m28 0h0m91.5 0h0m64.5 0h0m85.5 0h0m74.5 0h0M262.5 1190.6h0m66 0h0m38.5 0h0m61 0h0m32 0h0m25 0h0m11.5 0h0m22 0h0m24 0h0m17.5 0h0m43 0h0m27.5 0h0m33.5 0h0m28 0h0m21 0h0m21 0h0m39.5 0h0m38 0h0m46.5 0h0m22.5 0h0m7 0h0m17.5 0h0m18.5 0h0m15.5 0h0m13.5 0h0m32 0h0m15.5 0h0m19 0h0m22.5 0h0m29 0h0m15.5 0h0m221.5 0h0M200.5 1207.6h0m59 0h0m49 0h0m24 0h0m29.5 0h0m36.5 0h0m63.5 0h0m31 0h0m32.5 0h0m22.5 0h0m22.5 0h0m28 0h0m25.5 0h0m22.5 0h0m25.5 0h0m43.5 0h0m50 0h0m75 0h0m43.5 0h0m44.5 0h0m44 0h0m91.5 0h0m141.5 0h0M216.5 1224.7h0m88 0h0m161.5 0h0m90.5 0h0m100.5 0h0m184.5 0h0m210.5 0h0" class="p" stroke="#3bb3cf"/>
<path d="M1675.5 900.3h0M1664.5 917.4h0M1661.5 934.5h0M1656.5 951.5h0m11.5 0h0m7.5 0h0M1573.5 968.6h0m77 0h0m15 0h0m7.5 0h0M1630.5 985.7h0m25.5 0h0m9 0h0M1552 1002.8h0m86 0h0m23 0h0m7 0h0M1539 1019.8h0m53.5 0h0m43.5 0h0m18.5 0h0M1502 1036.9h0m65.5 0h0m28 0h0m38.5 0h0m17 0h0M1246.5 1054h0m255.5 0h0m66 0h0m71 0h0M1483 1071h0m71 0h0m52.5 0h0M1314 1088.1h0m140 0h0m47.5 0h0m41 0h0M1188.5 1105.2h0m112.5 0h0m54.5 0h0m37 0h0m91 0h0m47.5 0h0M1130.5 1122.3h0m34 0h0m33.5 0h0m64 0h0m43.5 0h0m45.5 0h0m31 0h0m41 0h0m30 0h0m43 0h0M1101.5 1139.3h0m31.5 0h0m38.5 0h0m21.5 0h0m22.5 0h0m31 0h0m19.5 0h0m52 0h0m24.5 0h0m42.5 0h0m64 0h0M587 1156.4h0m153 0h0m63 0h0m47.5 0h0m179 0h0m94 0h0m41.5 0h0m23 0h0m19.5 0h0m31 0h0m31 0h0m39.5 0h0m44 0h0m48.5 0h0m73.5 0h0M398.5 1173.5h0m34 0h0m40 0h0m54 0h0m38.5 0h0m109.5 0h0m33.5 0h0m36.5 0h0m35.5 0h0m41.5 0h0m47 0h0m29.5 0h0m35.5 0h0m19.5 0h0m35.5 0h0m31.5 0h0m44 0h0m26.5 0h0m87 0h0m95 0h0m54.5 0h0m85 0h0M156 1190.6h0m110 0h0m68 0h0m43.5 0h0m52 0h0m32 0h0m23.5 0h0m14.5 0h0m27.5 0h0m16.5 0h0m19 0h0m45.5 0h0m27 0h0m30 0h0m27 0h0m26 0h0m25.5 0h0m33 0h0m48.5 0h0m35.5 0h0m20 0h0m7.5 0h0m18 0h0m19 0h0m15.5 0h0m18 0h0m29.5 0h0m17.5 0h0m17.5 0h0m22 0h0m26 0h0m21.5 0h0m228 0h0M201.5 1207.6h0m60 0h0m51 0h0m23.5 0h0m29.5 0h0m42.5 0h0m55 0h0m34 0h0m33.5 0h0m18.5 0h0m22.5 0h0m30.5 0h0m27.5 0h0m21.5 0h0m24.5 0h0m42 0h0m49 0h0m83 0h0m55 0h0m33.5 0h0m65 0h0m63 0h0M236.5 1224.7h0m81 0h0m151.5 0h0m117 0h0m106.5 0h0m189.5 0h0m176.5 0h0" class="p" stroke="#3bb3cf"/>
<path d="M1661.5 883.2h0M1665.5 917.4h0M1574 934.5h0m90 0h0M1658.5 951.5h0m10 0h0M1581.5 968.6h0m73 0h0m12.5 0h0m7 0h0M1631.5 985.7h0m26 0h0m8 0h0M1561.5 1002.8h0m86.5 0h0m13.5 0h0m11.5 0h0M1559 1019.8h0m34.5 0h0m43.5 0h0m19.5 0h0M1524 1036.9h0m49 0h0m24 0h0m49 0h0m8.5 0h0M1485.5 1054h0m31 0h0m68.5 0h0m56 0h0M1498.5 1071h0m61.5 0h0m48 0h0M1346.5 1088.1h0m123 0h0m37.5 0h0m61 0h0M1188.5 1105.2h0m121 0h0m53 0h0m33.5 0h0m98 0h0m37 0h0M1134 1122.3h0m40 0h0m24.5 0h0m81 0h0m33 0h0m39.5 0h0m31 0h0m40.5 0h0m36.5 0h0m52 0h0M342.5 1139.3h0m761.5 0h0m30 0h0m41 0h0m18 0h0m27 0h0m28 0h0m27.5 0h0m51.5 0h0m17 0h0m55 0h0m76.5 0h0M333.5 1156.4h0m330 0h0m78.5 0h0m64 0h0m52 0h0m230 0h0m37 0h0m43.5 0h0m20 0h0m22 0h0m38 0h0m32.5 0h0m31 0h0m58.5 0h0m32 0h0M402.5 1173.5h0m36 0h0m44 0h0m44 0h0m39 0h0m110.5 0h0m34.5 0h0m41 0h0m39 0h0m44 0h0m44 0h0m20 0h0m37 0h0m27 0h0m27 0h0m36 0h0m38.5 0h0m36.5 0h0m88 0h0m88 0h0m70.5 0h0M161 1190.6h0m115 0h0m61 0h0m49.5 0h0m44 0h0m37.5 0h0m17 0h0m16 0h0m27 0h0m18 0h0m26 0h0m36 0h0m29 0h0m29.5 0h0m26.5 0h0m28 0h0m24.5 0h0m51.5 0h0m34 0h0m34 0h0m17 0h0m8 0h0m20 0h0m16 0h0m15 0h0m29.5 0h0m19.5 0h0m17 0h0m26.5 0h0m25 0h0m13 0h0m25 0h0m224.5 0h0M229.5 1207.6h0m38.5 0h0m45.5 0h0m24.5 0h0m29 0h0m48 0h0m51 0h0m31.5 0h0m34 0h0m18.5 0h0m25 0h0m30.5 0h0m24.5 0h0m21 0h0m24.5 0h0m60.5 0h0m50 0h0m65 0h0m60 0h0m37 0h0m70 0h0m54.5 0h0M241.5 1224.7h0m80.5 0h0m147 0h0m118 0h0m119 0h0m230.5 0h0m126.5 0h0" class="p" stroke="#3bb3cf"/>
<path d="M1670.5 883.2h0M1670 917.4h0M1597 934.5h0m67 0h0M1661 951.5h0m9 0h0M1614.5 968.6h0m40.5 0h0m13 0h0m7 0h0M1645.5 985.7h0m13 0h0m9 0h0M1565 1002.8h0m86.5 0h0m11.5 0h0m10 0h0M1560 1019.8h0m49.5 0h0m28 0h0m26 0h0M1528 1036.9h0m46.5 0h0m23.5 0h0m51 0h0m7 0h0M1486.5 1054h0m36 0h0m76 0h0m48 0h0M1507 1071h0m62.5 0h0m43 0h0M1355.5 1088.1h0m118.5 0h0m33.5 0h0m96.5 0h0M1128 1105.2h0m61 0h0m131 0h0m44.5 0h0m44 0h0m89 0h0m143 0h0M1137 1122.3h0m38 0h0m26.5 0h0m81.5 0h0m31 0h0m40 0h0m32 0h0m38 0h0m36.5 0h0M768.5 1139.3h0m347 0h0m18.5 0h0m41 0h0m20 0h0m29.5 0h0m25 0h0m34.5 0h0m44.5 0h0m30.5 0h0m45.5 0h0m88 0h0M338.5 1156.4h0m357 0h0m54 0h0m68 0h0m67.5 0h0m204.5 0h0m37.5 0h0m45 0h0m25.5 0h0m16 0h0m38.5 0h0m31 0h0m30.5 0h0m63 0h0m34.5 0h0M408 1173.5h0m31.5 0h0m48 0h0m54 0h0m59 0h0m87.5 0h0m23.5 0h0m40.5 0h0m39.5 0h0m44.5 0h0m46 0h0m21 0h0m34.5 0h0m28 0h0m27 0h0m34.5 0h0m37.5 0h0m37 0h0m90.5 0h0m85 0h0m79.5 0h0M197 1190.6h0m89 0h0m65 0h0m36 0h0m46.5 0h0m35 0h0m17 0h0m19 0h0m24 0h0m21 0h0m25.5 0h0m36 0h0m33.5 0h0m25 0h0m27.5 0h0m26.5 0h0m29.5 0h0m47.5 0h0m44.5 0h0m21 0h0m16.5 0h0m8 0h0m22.5 0h0m14 0h0m14 0h0m31 0h0m18.5 0h0m17.5 0h0m27 0h0m28.5 0h0m11.5 0h0m31.5 0h0m328 0h0M233.5 1207.6h0m39 0h0m45 0h0m25 0h0m26.5 0h0m54.5 0h0m50 0h0m30 0h0m28.5 0h0m25.5 0h0m24 0h0m30 0h0m22.5 0h0m17.5 0h0m26.5 0h0m70 0h0m41.5 0h0m77 0h0m45 0h0m37 0h0m73.5 0h0m55 0h0M292.5 1224.7h0m32.5 0h0m144 0h0m131.5 0h0m140 0h0m268 0h0m61 0h0" class="p" stroke="#3bb3cf"/>
<path d="M1674 883.2h0M1674.5 917.4h0M1639 934.5h0m32 0h0M1550 951.5h0m113 0h0m7 0h0M1644 968.6h0m14.5 0h0m9.5 0h0M1562 985.7h0m84 0h0m14.5 0h0m9.5 0h0M1573.5 1002.8h0m79 0h0m10.5 0h0M1563.5 1019.8h0m53 0h0m27 0h0m22 0h0M1531.5 1036.9h0m47 0h0m28 0h0m43 0h0m9 0h0M1488.5 1054h0m35 0h0m90.5 0h0m39 0h0M1508.5 1071h0m81 0h0m38 0h0M1131 1088.1h0m236.5 0h0m109.5 0h0m36 0h0m101.5 0h0M1132 1105.2h0m76.5 0h0m122.5 0h0m39 0h0m49.5 0h0m78.5 0h0M1144 1122.3h0m31 0h0m49 0h0m70.5 0h0m33.5 0h0m30.5 0h0m29.5 0h0m42 0h0m39 0h0M808.5 1139.3h0m312.5 0h0m17.5 0h0m36.5 0h0m20.5 0h0m30 0h0m27.5 0h0m33 0h0m44 0h0m35.5 0h0m41 0h0m135 0h0M365.5 1156.4h0m343 0h0m43 0h0m69.5 0h0m81 0h0m188.5 0h0m43.5 0h0m39.5 0h0m27 0h0m15.5 0h0m36 0h0m33 0h0m57 0h0m35 0h0m35 0h0M275 1173.5h0m134 0h0m31 0h0m54 0h0m60.5 0h0m48.5 0h0m88.5 0h0m35.5 0h0m28.5 0h0m45.5 0h0m40.5 0h0m41 0h0m20.5 0h0m34.5 0h0m31 0h0m28 0h0m38.5 0h0m32 0h0m51 0h0m75.5 0h0m86 0h0m91.5 0h0M205 1190.6h0m93 0h0m60.5 0h0m36.5 0h0m46 0h0m32.5 0h0m14 0h0m20 0h0m24.5 0h0m19 0h0m26 0h0m35 0h0m44 0h0m15 0h0m26.5 0h0m28.5 0h0m29 0h0m46.5 0h0m51.5 0h0m22 0h0m9.5 0h0m6.5 0h0m23.5 0h0m17.5 0h0m13 0h0m28 0h0m20.5 0h0m17 0h0m25 0h0m32 0h0m11 0h0m144.5 0h0M237 1207.6h0m35.5 0h0m51 0h0m20.5 0h0m38.5 0h0m53 0h0m42 0h0m27.5 0h0m27.5 0h0m26 0h0m25 0h0m29 0h0m22 0h0m19 0h0m34 0h0m60.5 0h0m44.5 0h0m82 0h0m42.5 0h0m39.5 0h0m75 0h0m45.5 0h0M298 1224.7h0m30 0h0m171.5 0h0m107 0h0m143.5 0h0m273.5 0h0m47 0h0" class="p" stroke="#3bb3cf"/>
<path d="M1665 866.1h0M1670 900.3h0M1647.5 934.5h0m25.5 0h0M1615 951.5h0m48.5 0h0m8.5 0h0M1645 968.6h0m14 0h0m11.5 0h0M1572.5 985.7h0m74.5 0h0m14.5 0h0m8.5 0h0M1575.5 1002.8h0m78 0h0m11 0h0M1569.5 1019.8h0m48 0h0m29 0h0m20 0h0M1533.5 1036.9h0m46 0h0m36 0h0m34 0h0m9 0h0M1493 1054h0m49.5 0h0m78.5 0h0m46 0h0M1508.5 1071h0m83 0h0m45.5 0h0M1140.5 1088.1h0m231.5 0h0m107 0h0m37 0h0m111 0h0M1139 1105.2h0m102 0h0m91.5 0h0m42.5 0h0m61 0h0m71.5 0h0M1153.5 1122.3h0m24.5 0h0m49 0h0m71 0h0m33 0h0m29 0h0m36.5 0h0m34 0h0m43 0h0M884 1139.3h0m239 0h0m22 0h0m38 0h0m14.5 0h0m33 0h0m23.5 0h0m32 0h0m46.5 0h0m37 0h0m46.5 0h0m179 0h0M399.5 1156.4h0m328.5 0h0m33 0h0m66 0h0m94.5 0h0m170 0h0m52.5 0h0m31 0h0m26.5 0h0m15.5 0h0m37 0h0m42.5 0h0m51.5 0h0m31 0h0m43.5 0h0M349.5 1173.5h0m59.5 0h0m45.5 0h0m40 0h0m60.5 0h0m86.5 0h0m58.5 0h0m36.5 0h0m36 0h0m34.5 0h0m39 0h0m43.5 0h0m19.5 0h0m30.5 0h0m34 0h0m23.5 0h0m39.5 0h0m33.5 0h0m66.5 0h0m92.5 0h0m53.5 0h0m90 0h0M209.5 1190.6h0m91 0h0m59 0h0m37 0h0m45 0h0m34.5 0h0m12 0h0m21 0h0m25 0h0m23 0h0m22.5 0h0m35 0h0m42.5 0h0m19 0h0m28.5 0h0m25.5 0h0m26.5 0h0m45.5 0h0m51.5 0h0m22 0h0m10.5 0h0m7.5 0h0m21.5 0h0m18 0h0m13.5 0h0m29.5 0h0m18.5 0h0m22 0h0m19 0h0m32.5 0h0m15 0h0m142 0h0M163.5 1207.6h0m80.5 0h0m32.5 0h0m47 0h0m21 0h0m38.5 0h0m53 0h0m46 0h0m29 0h0m26.5 0h0m26.5 0h0m27 0h0m24 0h0m23 0h0m16 0h0m50 0h0m48 0h0m44 0h0m81 0h0m40.5 0h0m44 0h0m75.5 0h0m45.5 0h0M298.5 1224.7h0m43 0h0m191 0h0m86.5 0h0m151 0h0m255 0h0" class="p" stroke="#3bb3cf"/>
<path d="M153.3 1126.3C155.5 1130.5 157.8 1134.7 160 1138.8C162 1142.3 164 1145.8 166 1149.2C169.4 1152 172.7 1154.6 176.1 1157.1C180.7 1160.5 185.4 1163.5 190 1166.1C193.8 1167.8 197.7 1169.3 201.5 1170.7C209.9 1173.6 218.4 1175.7 226.8 1176.9C234.6 1178.1 242.3 1178.5 250 1179C250.7 1178.9 251.5 1178.9 252.2 1178.8C260.7 1178.1 269.1 1177.4 277.6 1177.5C286 1177.7 294.5 1178.6 303 1178.5C311.4 1178.5 319.9 1177.5 328.3 1175.8C335.6 1174.2 342.8 1172.1 350 1170.3C351.2 1170 352.5 1169.8 353.7 1169.5C362.2 1167.8 370.6 1166.8 379.1 1165.7C387.5 1164.6 396 1163.5 404.4 1162.7C412.9 1161.9 421.4 1161.5 429.8 1161.4C429.9 1161.4 429.9 1161.4 430 1161.4C436.7 1161.1 443.4 1161 450.1 1162.2C456 1163.2 461.9 1165.3 467.9 1166.9C476.3 1169.3 484.8 1170.7 493.2 1171.5C501.7 1172.4 510.1 1172.6 518.6 1172.6C531.3 1172.7 544 1172.4 556.7 1173.1C565.1 1173.5 573.6 1174.3 582 1175.1C588 1175.7 594 1176.3 600 1176.8C602.5 1176.9 604.9 1177 607.4 1177.1C615.9 1177.4 624.3 1177.2 632.8 1176.2C641.2 1175.2 649.7 1173.5 658.1 1171.7C666.6 1169.9 675 1167.9 683.5 1166.1C689 1165 694.5 1163.9 700 1162.9C708.5 1161.4 716.9 1160.2 725.4 1159.6C733.8 1159.1 742.3 1159.1 750.7 1158.7C757.5 1158.3 764.3 1157.7 771 1155.4C777 1153.5 782.9 1150.3 788.8 1147.9C793.9 1145.8 798.9 1144.4 804 1144.6C809.1 1144.8 814.2 1146.7 819.2 1149.2C825.2 1152.1 831.1 1155.8 837 1158.1C842.1 1160.1 847.1 1161.2 852.2 1161.5C860.7 1162 869.1 1160.5 877.6 1159.5C884.4 1158.7 891.1 1158.1 897.9 1158.3C906.3 1158.5 914.8 1159.8 923.3 1160.9C930 1161.7 936.8 1162.3 943.5 1162.2C952 1162 960.5 1160.7 968.9 1159.7C976.5 1158.8 984.1 1158.2 991.8 1158.5C1000.2 1158.8 1008.7 1160.3 1017.1 1162.4C1025.6 1164.4 1034 1167 1042.5 1168.8C1048.4 1170 1054.3 1170.8 1060.3 1170.6C1065.3 1170.4 1070.4 1169.4 1075.5 1166.3C1080.5 1163.3 1085.6 1158.1 1090.7 1152.4C1095.8 1146.6 1100.8 1140.2 1105.9 1134.7C1111 1129.1 1116.1 1124.4 1121.1 1120.7C1126.2 1117.1 1131.3 1114.6 1136.4 1113.2C1143.1 1111.2 1149.9 1111.2 1156.7 1111.4C1165.1 1111.8 1173.6 1112.7 1182 1114C1190.5 1115.4 1198.9 1117 1207.4 1118.4C1215.9 1119.8 1224.3 1120.8 1232.8 1121C1241.2 1121.2 1249.7 1120.5 1258.1 1120.3C1266.6 1120.1 1275 1120.3 1283.5 1121.1C1289 1121.7 1294.5 1122.5 1300 1122.4C1305.1 1122.4 1310.1 1121.6 1315.2 1119.9C1320.3 1118.3 1325.4 1115.8 1330.4 1113.6C1335.5 1111.5 1340.6 1109.8 1345.7 1108.6C1350.7 1107.4 1355.8 1106.7 1360.9 1106.9C1366 1107 1371 1108 1376.1 1108.7C1382 1109.5 1387.9 1109.9 1393.9 1110C1399.8 1110.1 1405.7 1109.9 1411.6 1108.7C1416.7 1107.8 1421.8 1106 1426.8 1103.7C1431.9 1101.4 1437 1098.4 1442.1 1094.9C1444.7 1093 1447.4 1091 1450 1089C1452.4 1087.2 1454.9 1085.4 1457.3 1083.7C1462.4 1080.1 1467.4 1076.9 1472.5 1073.9C1477.6 1071 1482.7 1068.2 1487.7 1065.4C1492.8 1062.7 1497.9 1059.8 1503 1057C1508 1054.1 1513.1 1051.2 1518.2 1048.5C1523.3 1045.8 1528.3 1043.2 1533.4 1040C1538.5 1036.8 1543.5 1032.9 1548.6 1029C1553.7 1025.1 1558.8 1021.1 1563.8 1018C1568.1 1015.4 1572.3 1013.5 1576.5 1012C1580.8 1010.5 1585 1009.5 1589.2 1009.8C1592.8 1010 1596.4 1011.2 1600 1012.9C1600.6 1013.3 1601.3 1013.6 1601.9 1013.9C1606.1 1016.3 1610.4 1019.5 1614.6 1021.9C1618 1023.8 1621.4 1025.2 1624.7 1025.5C1628.1 1025.7 1631.5 1024.7 1634.9 1021.2C1637.4 1018.5 1640 1014.4 1642.5 1008.7C1645 1003 1647.6 995.6 1650.1 988.6C1652.6 981.6 1655.2 974.9 1657.7 968.5C1660.3 962.1 1662.8 955.9 1665.3 950.9C1668.5 944.7 1671.6 940.4 1674.8 936L1674.8 970C1671.6 974.5 1668.5 979.1 1665.3 985.5C1662.8 990.6 1660.3 996.9 1657.7 1003.4C1655.2 1010 1652.6 1016.8 1650.1 1023.9C1647.6 1031.1 1645 1038.6 1642.5 1044.4C1640 1050.3 1637.4 1054.5 1634.9 1057.3C1631.5 1061 1628.1 1062.2 1624.7 1062.1C1621.4 1062.1 1618 1060.9 1614.6 1059.1C1610.4 1056.9 1606.1 1054 1601.9 1051.8C1601.3 1051.5 1600.6 1051.2 1600 1050.9C1596.4 1049.4 1592.8 1048.4 1589.2 1048.4C1585 1048.3 1580.8 1049.6 1576.5 1051.3C1572.3 1053 1568.1 1055.1 1563.8 1057.9C1558.8 1061.3 1553.7 1065.6 1548.6 1069.8C1543.5 1074 1538.5 1078.1 1533.4 1081.6C1528.3 1085.1 1523.3 1087.9 1518.2 1090.9C1513.1 1093.9 1508 1097 1503 1100.1C1497.9 1103.3 1492.8 1106.4 1487.7 1109.4C1482.7 1112.5 1477.6 1115.5 1472.5 1118.7C1467.4 1122 1462.4 1125.4 1457.3 1129.3C1454.9 1131.1 1452.4 1133.1 1450 1135C1447.4 1137 1444.7 1139 1442.1 1140.9C1437 1144.5 1431.9 1147.5 1426.8 1149.8C1421.8 1152.2 1416.7 1153.9 1411.6 1154.9C1405.7 1156.1 1399.8 1156.3 1393.9 1156.2C1387.9 1156.2 1382 1155.8 1376.1 1155C1371 1154.3 1366 1153.4 1360.9 1153.3C1355.8 1153.1 1350.7 1153.9 1345.7 1155.1C1340.6 1156.3 1335.5 1158 1330.4 1160.2C1325.4 1162.3 1320.3 1164.9 1315.2 1166.6C1310.1 1168.3 1305.1 1169.1 1300 1169.1C1294.5 1169.2 1289 1168.4 1283.5 1167.9C1275 1167.1 1266.6 1166.9 1258.1 1167.2C1249.7 1167.5 1241.2 1168.2 1232.8 1168C1224.3 1167.9 1215.9 1166.9 1207.4 1165.6C1198.9 1164.2 1190.5 1162.6 1182 1161.3C1173.6 1160 1165.1 1159.1 1156.7 1158.8C1149.9 1158.6 1143.1 1158.7 1136.4 1160.6C1131.3 1162.1 1126.2 1164.7 1121.1 1168.3C1116.1 1171.9 1111 1176.7 1105.9 1182.3C1100.8 1187.9 1095.8 1194.3 1090.7 1200.1C1085.6 1205.9 1080.5 1211 1075.5 1214.1C1070.4 1217.1 1065.3 1218.2 1060.3 1218.4C1054.3 1218.7 1048.4 1217.9 1042.5 1216.7C1034 1215 1025.6 1212.4 1017.1 1210.4C1008.7 1208.4 1000.2 1207 991.8 1206.7C984.1 1206.4 976.5 1207 968.9 1208C960.5 1209 952 1210.4 943.5 1210.6C936.8 1210.7 930 1210.1 923.3 1209.4C914.8 1208.4 906.3 1207 897.9 1206.9C891.1 1206.7 884.4 1207.3 877.6 1208.2C869.1 1209.3 860.7 1210.8 852.2 1210.3C847.1 1210 842.1 1209 837 1207C831.1 1204.7 825.2 1201 819.2 1198.2C814.2 1195.7 809.1 1193.9 804 1193.7C798.9 1193.4 793.9 1194.9 788.8 1197C782.9 1199.4 777 1202.6 771 1204.6C764.3 1206.9 757.5 1207.6 750.7 1208C742.3 1208.5 733.8 1208.5 725.4 1209.1C716.9 1209.7 708.5 1210.9 700 1212.4C694.5 1213.4 689 1214.6 683.5 1215.8C675 1217.6 666.6 1219.5 658.1 1221.4C649.7 1223.2 641.2 1225 632.8 1226C624.3 1227 615.9 1227.3 607.4 1227.1C604.9 1227 602.5 1226.9 600 1226.8C594 1226.5 588 1226 582 1225.5C573.6 1224.9 565.1 1224.3 556.7 1224.1C544 1223.7 531.3 1224.3 518.6 1224.5C510.1 1224.7 501.7 1224.7 493.2 1224.1C484.8 1223.4 476.3 1222.2 467.9 1220C461.9 1218.5 456 1216.6 450.1 1215.7C443.4 1214.6 436.7 1214.9 430 1215.4C429.9 1215.4 429.9 1215.4 429.8 1215.4C421.4 1216.4 412.9 1217.6 404.4 1219.2C396 1220.9 387.5 1222.9 379.1 1224.8C370.6 1226.7 362.2 1228.6 353.7 1231.2C352.5 1231.5 351.2 1231.9 350 1232.3C342.8 1234.4 335.6 1236.8 328.3 1238.6C319.9 1240.7 311.4 1242.1 303 1242.4C294.5 1242.8 286 1242.2 277.6 1242.4C269.1 1242.6 260.7 1243.6 252.2 1244.7C251.5 1244.8 250.7 1244.9 250 1245C242.3 1247.1 234.6 1249.2 226.8 1250.6C218.4 1252.2 209.9 1253 201.5 1252.8C197.7 1252.8 193.8 1252.6 190 1252.1C185.4 1252.2 180.7 1251.9 176.1 1251.2C172.7 1250.7 169.4 1250 166 1249.2C164 1250.4 162 1251.6 160 1252.8C157.8 1254.4 155.5 1256 153.3 1257.6Z" fill="#3bb3cf" fill-opacity=".16"/>
<path d="M153.3 1126.3C155.5 1130.5 157.8 1134.7 160 1138.8C162 1142.3 164 1145.8 166 1149.2C169.4 1152 172.7 1154.6 176.1 1157.1C180.7 1160.5 185.4 1163.5 190 1166.1C193.8 1167.8 197.7 1169.3 201.5 1170.7C209.9 1173.6 218.4 1175.7 226.8 1176.9C234.6 1178.1 242.3 1178.5 250 1179C250.7 1178.9 251.5 1178.9 252.2 1178.8C260.7 1178.1 269.1 1177.4 277.6 1177.5C286 1177.7 294.5 1178.6 303 1178.5C311.4 1178.5 319.9 1177.5 328.3 1175.8C335.6 1174.2 342.8 1172.1 350 1170.3C351.2 1170 352.5 1169.8 353.7 1169.5C362.2 1167.8 370.6 1166.8 379.1 1165.7C387.5 1164.6 396 1163.5 404.4 1162.7C412.9 1161.9 421.4 1161.5 429.8 1161.4C429.9 1161.4 429.9 1161.4 430 1161.4C436.7 1161.1 443.4 1161 450.1 1162.2C456 1163.2 461.9 1165.3 467.9 1166.9C476.3 1169.3 484.8 1170.7 493.2 1171.5C501.7 1172.4 510.1 1172.6 518.6 1172.6C531.3 1172.7 544 1172.4 556.7 1173.1C565.1 1173.5 573.6 1174.3 582 1175.1C588 1175.7 594 1176.3 600 1176.8C602.5 1176.9 604.9 1177 607.4 1177.1C615.9 1177.4 624.3 1177.2 632.8 1176.2C641.2 1175.2 649.7 1173.5 658.1 1171.7C666.6 1169.9 675 1167.9 683.5 1166.1C689 1165 694.5 1163.9 700 1162.9C708.5 1161.4 716.9 1160.2 725.4 1159.6C733.8 1159.1 742.3 1159.1 750.7 1158.7C757.5 1158.3 764.3 1157.7 771 1155.4C777 1153.5 782.9 1150.3 788.8 1147.9C793.9 1145.8 798.9 1144.4 804 1144.6C809.1 1144.8 814.2 1146.7 819.2 1149.2C825.2 1152.1 831.1 1155.8 837 1158.1C842.1 1160.1 847.1 1161.2 852.2 1161.5C860.7 1162 869.1 1160.5 877.6 1159.5C884.4 1158.7 891.1 1158.1 897.9 1158.3C906.3 1158.5 914.8 1159.8 923.3 1160.9C930 1161.7 936.8 1162.3 943.5 1162.2C952 1162 960.5 1160.7 968.9 1159.7C976.5 1158.8 984.1 1158.2 991.8 1158.5C1000.2 1158.8 1008.7 1160.3 1017.1 1162.4C1025.6 1164.4 1034 1167 1042.5 1168.8C1048.4 1170 1054.3 1170.8 1060.3 1170.6C1065.3 1170.4 1070.4 1169.4 1075.5 1166.3C1080.5 1163.3 1085.6 1158.1 1090.7 1152.4C1095.8 1146.6 1100.8 1140.2 1105.9 1134.7C1111 1129.1 1116.1 1124.4 1121.1 1120.7C1126.2 1117.1 1131.3 1114.6 1136.4 1113.2C1143.1 1111.2 1149.9 1111.2 1156.7 1111.4C1165.1 1111.8 1173.6 1112.7 1182 1114C1190.5 1115.4 1198.9 1117 1207.4 1118.4C1215.9 1119.8 1224.3 1120.8 1232.8 1121C1241.2 1121.2 1249.7 1120.5 1258.1 1120.3C1266.6 1120.1 1275 1120.3 1283.5 1121.1C1289 1121.7 1294.5 1122.5 1300 1122.4C1305.1 1122.4 1310.1 1121.6 1315.2 1119.9C1320.3 1118.3 1325.4 1115.8 1330.4 1113.6C1335.5 1111.5 1340.6 1109.8 1345.7 1108.6C1350.7 1107.4 1355.8 1106.7 1360.9 1106.9C1366 1107 1371 1108 1376.1 1108.7C1382 1109.5 1387.9 1109.9 1393.9 1110C1399.8 1110.1 1405.7 1109.9 1411.6 1108.7C1416.7 1107.8 1421.8 1106 1426.8 1103.7C1431.9 1101.4 1437 1098.4 1442.1 1094.9C1444.7 1093 1447.4 1091 1450 1089C1452.4 1087.2 1454.9 1085.4 1457.3 1083.7C1462.4 1080.1 1467.4 1076.9 1472.5 1073.9C1477.6 1071 1482.7 1068.2 1487.7 1065.4C1492.8 1062.7 1497.9 1059.8 1503 1057C1508 1054.1 1513.1 1051.2 1518.2 1048.5C1523.3 1045.8 1528.3 1043.2 1533.4 1040C1538.5 1036.8 1543.5 1032.9 1548.6 1029C1553.7 1025.1 1558.8 1021.1 1563.8 1018C1568.1 1015.4 1572.3 1013.5 1576.5 1012C1580.8 1010.5 1585 1009.5 1589.2 1009.8C1592.8 1010 1596.4 1011.2 1600 1012.9C1600.6 1013.3 1601.3 1013.6 1601.9 1013.9C1606.1 1016.3 1610.4 1019.5 1614.6 1021.9C1618 1023.8 1621.4 1025.2 1624.7 1025.5C1628.1 1025.7 1631.5 1024.7 1634.9 1021.2C1637.4 1018.5 1640 1014.4 1642.5 1008.7C1645 1003 1647.6 995.6 1650.1 988.6C1652.6 981.6 1655.2 974.9 1657.7 968.5C1660.3 962.1 1662.8 955.9 1665.3 950.9C1668.5 944.7 1671.6 940.4 1674.8 936M153.3 1257.6C155.5 1256 157.8 1254.4 160 1252.8C162 1251.6 164 1250.4 166 1249.2C169.4 1250 172.7 1250.7 176.1 1251.2C180.7 1251.9 185.4 1252.2 190 1252.1C193.8 1252.6 197.7 1252.8 201.5 1252.8C209.9 1253 218.4 1252.2 226.8 1250.6C234.6 1249.2 242.3 1247.1 250 1245C250.7 1244.9 251.5 1244.8 252.2 1244.7C260.7 1243.6 269.1 1242.6 277.6 1242.4C286 1242.2 294.5 1242.8 303 1242.4C311.4 1242.1 319.9 1240.7 328.3 1238.6C335.6 1236.8 342.8 1234.4 350 1232.3C351.2 1231.9 352.5 1231.5 353.7 1231.2C362.2 1228.6 370.6 1226.7 379.1 1224.8C387.5 1222.9 396 1220.9 404.4 1219.2C412.9 1217.6 421.4 1216.4 429.8 1215.4C429.9 1215.4 429.9 1215.4 430 1215.4C436.7 1214.9 443.4 1214.6 450.1 1215.7C456 1216.6 461.9 1218.5 467.9 1220C476.3 1222.2 484.8 1223.4 493.2 1224.1C501.7 1224.7 510.1 1224.7 518.6 1224.5C531.3 1224.3 544 1223.7 556.7 1224.1C565.1 1224.3 573.6 1224.9 582 1225.5C588 1226 594 1226.5 600 1226.8C602.5 1226.9 604.9 1227 607.4 1227.1C615.9 1227.3 624.3 1227 632.8 1226C641.2 1225 649.7 1223.2 658.1 1221.4C666.6 1219.5 675 1217.6 683.5 1215.8C689 1214.6 694.5 1213.4 700 1212.4C708.5 1210.9 716.9 1209.7 725.4 1209.1C733.8 1208.5 742.3 1208.5 750.7 1208C757.5 1207.6 764.3 1206.9 771 1204.6C777 1202.6 782.9 1199.4 788.8 1197C793.9 1194.9 798.9 1193.4 804 1193.7C809.1 1193.9 814.2 1195.7 819.2 1198.2C825.2 1201 831.1 1204.7 837 1207C842.1 1209 847.1 1210 852.2 1210.3C860.7 1210.8 869.1 1209.3 877.6 1208.2C884.4 1207.3 891.1 1206.7 897.9 1206.9C906.3 1207 914.8 1208.4 923.3 1209.4C930 1210.1 936.8 1210.7 943.5 1210.6C952 1210.4 960.5 1209 968.9 1208C976.5 1207 984.1 1206.4 991.8 1206.7C1000.2 1207 1008.7 1208.4 1017.1 1210.4C1025.6 1212.4 1034 1215 1042.5 1216.7C1048.4 1217.9 1054.3 1218.7 1060.3 1218.4C1065.3 1218.2 1070.4 1217.1 1075.5 1214.1C1080.5 1211 1085.6 1205.9 1090.7 1200.1C1095.8 1194.3 1100.8 1187.9 1105.9 1182.3C1111 1176.7 1116.1 1171.9 1121.1 1168.3C1126.2 1164.7 1131.3 1162.1 1136.4 1160.6C1143.1 1158.7 1149.9 1158.6 1156.7 1158.8C1165.1 1159.1 1173.6 1160 1182 1161.3C1190.5 1162.6 1198.9 1164.2 1207.4 1165.6C1215.9 1166.9 1224.3 1167.9 1232.8 1168C1241.2 1168.2 1249.7 1167.5 1258.1 1167.2C1266.6 1166.9 1275 1167.1 1283.5 1167.9C1289 1168.4 1294.5 1169.2 1300 1169.1C1305.1 1169.1 1310.1 1168.3 1315.2 1166.6C1320.3 1164.9 1325.4 1162.3 1330.4 1160.2C1335.5 1158 1340.6 1156.3 1345.7 1155.1C1350.7 1153.9 1355.8 1153.1 1360.9 1153.3C1366 1153.4 1371 1154.3 1376.1 1155C1382 1155.8 1387.9 1156.2 1393.9 1156.2C1399.8 1156.3 1405.7 1156.1 1411.6 1154.9C1416.7 1153.9 1421.8 1152.2 1426.8 1149.8C1431.9 1147.5 1437 1144.5 1442.1 1140.9C1444.7 1139 1447.4 1137 1450 1135C1452.4 1133.1 1454.9 1131.1 1457.3 1129.3C1462.4 1125.4 1467.4 1122 1472.5 1118.7C1477.6 1115.5 1482.7 1112.5 1487.7 1109.4C1492.8 1106.4 1497.9 1103.3 1503 1100.1C1508 1097 1513.1 1093.9 1518.2 1090.9C1523.3 1087.9 1528.3 1085.1 1533.4 1081.6C1538.5 1078.1 1543.5 1074 1548.6 1069.8C1553.7 1065.6 1558.8 1061.3 1563.8 1057.9C1568.1 1055.1 1572.3 1053 1576.5 1051.3C1580.8 1049.6 1585 1048.3 1589.2 1048.4C1592.8 1048.4 1596.4 1049.4 1600 1050.9C1600.6 1051.2 1601.3 1051.5 1601.9 1051.8C1606.1 1054 1610.4 1056.9 1614.6 1059.1C1618 1060.9 1621.4 1062.1 1624.7 1062.1C1628.1 1062.2 1631.5 1061 1634.9 1057.3C1637.4 1054.5 1640 1050.3 1642.5 1044.4C1645 1038.6 1647.6 1031.1 1650.1 1023.9C1652.6 1016.8 1655.2 1010 1657.7 1003.4C1660.3 996.9 1662.8 990.6 1665.3 985.5C1668.5 979.1 1671.6 974.5 1674.8 970" class="d" stroke="#5aa3b5"/>
<path d="M153.3 1192C160.9 1196.4 168.5 1200.8 176.1 1204.1C184.6 1207.9 193 1210.2 201.5 1211.8C209.9 1213.3 218.4 1213.9 226.8 1213.8C235.3 1213.6 243.8 1212.7 252.2 1211.8C260.7 1210.9 269.1 1210 277.6 1210C286 1209.9 294.5 1210.7 303 1210.5C311.4 1210.3 319.9 1209.1 328.3 1207.2C336.8 1205.2 345.2 1202.4 353.7 1200.3C362.2 1198.2 370.6 1196.8 379.1 1195.3C387.5 1193.7 396 1192.2 404.4 1190.9C412.9 1189.7 421.4 1188.9 429.8 1188.4C436.6 1188 443.3 1187.8 450.1 1188.9C456 1189.9 461.9 1191.9 467.9 1193.5C476.3 1195.7 484.8 1197.1 493.2 1197.8C501.7 1198.5 510.1 1198.6 518.6 1198.6C531.3 1198.5 544 1198.1 556.7 1198.6C565.1 1198.9 573.6 1199.6 582 1200.3C590.5 1201.1 598.9 1201.9 607.4 1202.1C615.9 1202.4 624.3 1202.1 632.8 1201.1C641.2 1200.1 649.7 1198.4 658.1 1196.5C666.6 1194.7 675 1192.8 683.5 1190.9C689 1189.8 694.5 1188.6 700 1187.7C708.5 1186.1 716.9 1184.9 725.4 1184.4C733.8 1183.8 742.3 1183.8 750.7 1183.3C757.5 1183 764.3 1182.3 771 1180C777 1178.1 782.9 1174.8 788.8 1172.4C793.9 1170.4 798.9 1168.9 804 1169.1C809.1 1169.3 814.2 1171.2 819.2 1173.7C825.2 1176.6 831.1 1180.2 837 1182.6C842.1 1184.6 847.1 1185.6 852.2 1185.9C860.7 1186.4 869.1 1184.9 877.6 1183.8C884.4 1183 891.1 1182.4 897.9 1182.6C906.3 1182.8 914.8 1184.1 923.3 1185.1C930 1185.9 936.8 1186.5 943.5 1186.4C952 1186.2 960.5 1184.9 968.9 1183.8C976.5 1182.9 984.1 1182.3 991.8 1182.6C1000.2 1182.9 1008.7 1184.4 1017.1 1186.4C1025.6 1188.4 1034 1191 1042.5 1192.7C1048.4 1193.9 1054.3 1194.8 1060.3 1194.5C1065.3 1194.3 1070.4 1193.3 1075.5 1190.2C1080.5 1187.1 1085.6 1182 1090.7 1176.2C1095.8 1170.5 1100.8 1164.1 1105.9 1158.5C1111 1152.9 1116.1 1148.2 1121.1 1144.5C1126.2 1140.9 1131.3 1138.4 1136.4 1136.9C1143.1 1135 1149.9 1134.9 1156.7 1135.1C1165.1 1135.5 1173.6 1136.4 1182 1137.7C1190.5 1139 1198.9 1140.6 1207.4 1142C1215.9 1143.3 1224.3 1144.4 1232.8 1144.5C1241.2 1144.7 1249.7 1144 1258.1 1143.8C1266.6 1143.5 1275 1143.7 1283.5 1144.5C1289 1145.1 1294.5 1145.9 1300 1145.8C1305.1 1145.7 1310.1 1144.9 1315.2 1143.3C1320.3 1141.6 1325.4 1139 1330.4 1136.9C1335.5 1134.8 1340.6 1133.1 1345.7 1131.8C1350.7 1130.6 1355.8 1129.9 1360.9 1130.1C1366 1130.2 1371 1131.2 1376.1 1131.8C1382 1132.6 1387.9 1133 1393.9 1133.1C1399.8 1133.2 1405.7 1133 1411.6 1131.8C1416.7 1130.8 1421.8 1129.1 1426.8 1126.8C1431.9 1124.4 1437 1121.4 1442.1 1117.9C1447.1 1114.3 1452.2 1110.2 1457.3 1106.5C1462.4 1102.7 1467.4 1099.4 1472.5 1096.3C1477.6 1093.2 1482.7 1090.4 1487.7 1087.4C1492.8 1084.5 1497.9 1081.6 1503 1078.6C1508 1075.6 1513.1 1072.5 1518.2 1069.7C1523.3 1066.8 1528.3 1064.1 1533.4 1060.8C1538.5 1057.5 1543.5 1053.5 1548.6 1049.4C1553.7 1045.3 1558.8 1041.2 1563.8 1038C1568.1 1035.3 1572.3 1033.2 1576.5 1031.6C1580.8 1030 1585 1028.9 1589.2 1029.1C1593.4 1029.2 1597.7 1030.7 1601.9 1032.9C1606.1 1035.1 1610.4 1038.2 1614.6 1040.5C1618 1042.3 1621.4 1043.7 1624.7 1043.8C1628.1 1043.9 1631.5 1042.9 1634.9 1039.2C1637.4 1036.5 1640 1032.3 1642.5 1026.6C1645 1020.8 1647.6 1013.3 1650.1 1006.3C1652.6 999.2 1655.2 992.4 1657.7 986C1660.3 979.5 1662.8 973.3 1665.3 968.2C1668.5 961.9 1671.6 957.4 1674.8 953" class="h"/>
<path d="M153.3 1192C160.9 1196.4 168.5 1200.8 176.1 1204.1C184.6 1207.9 193 1210.2 201.5 1211.8C209.9 1213.3 218.4 1213.9 226.8 1213.8C235.3 1213.6 243.8 1212.7 252.2 1211.8C260.7 1210.9 269.1 1210 277.6 1210C286 1209.9 294.5 1210.7 303 1210.5C311.4 1210.3 319.9 1209.1 328.3 1207.2C336.8 1205.2 345.2 1202.4 353.7 1200.3C362.2 1198.2 370.6 1196.8 379.1 1195.3C387.5 1193.7 396 1192.2 404.4 1190.9C412.9 1189.7 421.4 1188.9 429.8 1188.4C436.6 1188 443.3 1187.8 450.1 1188.9C456 1189.9 461.9 1191.9 467.9 1193.5C476.3 1195.7 484.8 1197.1 493.2 1197.8C501.7 1198.5 510.1 1198.6 518.6 1198.6C531.3 1198.5 544 1198.1 556.7 1198.6C565.1 1198.9 573.6 1199.6 582 1200.3C590.5 1201.1 598.9 1201.9 607.4 1202.1C615.9 1202.4 624.3 1202.1 632.8 1201.1C641.2 1200.1 649.7 1198.4 658.1 1196.5C666.6 1194.7 675 1192.8 683.5 1190.9C689 1189.8 694.5 1188.6 700 1187.7C708.5 1186.1 716.9 1184.9 725.4 1184.4C733.8 1183.8 742.3 1183.8 750.7 1183.3C757.5 1183 764.3 1182.3 771 1180C777 1178.1 782.9 1174.8 788.8 1172.4C793.9 1170.4 798.9 1168.9 804 1169.1C809.1 1169.3 814.2 1171.2 819.2 1173.7C825.2 1176.6 831.1 1180.2 837 1182.6C842.1 1184.6 847.1 1185.6 852.2 1185.9C860.7 1186.4 869.1 1184.9 877.6 1183.8C884.4 1183 891.1 1182.4 897.9 1182.6C906.3 1182.8 914.8 1184.1 923.3 1185.1C930 1185.9 936.8 1186.5 943.5 1186.4C952 1186.2 960.5 1184.9 968.9 1183.8C976.5 1182.9 984.1 1182.3 991.8 1182.6C1000.2 1182.9 1008.7 1184.4 1017.1 1186.4C1025.6 1188.4 1034 1191 1042.5 1192.7C1048.4 1193.9 1054.3 1194.8 1060.3 1194.5C1065.3 1194.3 1070.4 1193.3 1075.5 1190.2C1080.5 1187.1 1085.6 1182 1090.7 1176.2C1095.8 1170.5 1100.8 1164.1 1105.9 1158.5C1111 1152.9 1116.1 1148.2 1121.1 1144.5C1126.2 1140.9 1131.3 1138.4 1136.4 1136.9C1143.1 1135 1149.9 1134.9 1156.7 1135.1C1165.1 1135.5 1173.6 1136.4 1182 1137.7C1190.5 1139 1198.9 1140.6 1207.4 1142C1215.9 1143.3 1224.3 1144.4 1232.8 1144.5C1241.2 1144.7 1249.7 1144 1258.1 1143.8C1266.6 1143.5 1275 1143.7 1283.5 1144.5C1289 1145.1 1294.5 1145.9 1300 1145.8C1305.1 1145.7 1310.1 1144.9 1315.2 1143.3C1320.3 1141.6 1325.4 1139 1330.4 1136.9C1335.5 1134.8 1340.6 1133.1 1345.7 1131.8C1350.7 1130.6 1355.8 1129.9 1360.9 1130.1C1366 1130.2 1371 1131.2 1376.1 1131.8C1382 1132.6 1387.9 1133 1393.9 1133.1C1399.8 1133.2 1405.7 1133 1411.6 1131.8C1416.7 1130.8 1421.8 1129.1 1426.8 1126.8C1431.9 1124.4 1437 1121.4 1442.1 1117.9C1447.1 1114.3 1452.2 1110.2 1457.3 1106.5C1462.4 1102.7 1467.4 1099.4 1472.5 1096.3C1477.6 1093.2 1482.7 1090.4 1487.7 1087.4C1492.8 1084.5 1497.9 1081.6 1503 1078.6C1508 1075.6 1513.1 1072.5 1518.2 1069.7C1523.3 1066.8 1528.3 1064.1 1533.4 1060.8C1538.5 1057.5 1543.5 1053.5 1548.6 1049.4C1553.7 1045.3 1558.8 1041.2 1563.8 1038C1568.1 1035.3 1572.3 1033.2 1576.5 1031.6C1580.8 1030 1585 1028.9 1589.2 1029.1C1593.4 1029.2 1597.7 1030.7 1601.9 1032.9C1606.1 1035.1 1610.4 1038.2 1614.6 1040.5C1618 1042.3 1621.4 1043.7 1624.7 1043.8C1628.1 1043.9 1631.5 1042.9 1634.9 1039.2C1637.4 1036.5 1640 1032.3 1642.5 1026.6C1645 1020.8 1647.6 1013.3 1650.1 1006.3C1652.6 999.2 1655.2 992.4 1657.7 986C1660.3 979.5 1662.8 973.3 1665.3 968.2C1668.5 961.9 1671.6 957.4 1674.8 953" class="l" stroke="#3bb3cf"/>
<path d="M2102.5 832h0M2154 883.2h0M2142 900.3h0M2116.5 917.4h0m37 0h0M2140.5 934.5h0M2117.5 951.5h0m38.5 0h0M2131.5 968.6h0M2115.5 985.7h0M2106 1002.8h0" class="p" stroke="#3b4ca8"/>
<path d="M2154.5 883.2h0M2146.5 900.3h0M2119 917.4h0m37.5 0h0M2142.5 934.5h0M2121.5 951.5h0m35 0h0M2136 968.6h0M2129.5 985.7h0M2128 1002.8h0" class="p" stroke="#3b4ca8"/>
<path d="M2156.5 883.2h0M2150.5 900.3h0M2130 917.4h0m29.5 0h0M2106 934.5h0m37.5 0h0M2129.5 951.5h0M2138.5 968.6h0M2138 985.7h0M2139 1002.8h0" class="p" stroke="#3b4ca8"/>
<path d="M2108 866.1h0M2103.5 900.3h0m48 0h0M2130.5 917.4h0M2106 934.5h0m39 0h0M2133.5 951.5h0M2155.5 968.6h0M2138 985.7h0M2142 1002.8h0" class="p" stroke="#3b4ca8"/>
<path d="M2139.5 866.1h0M2124.5 900.3h0m34 0h0M2138 917.4h0M2111 934.5h0m40.5 0h0M2100.5 951.5h0m34 0h0M2103.5 985.7h0m50 0h0" class="p" stroke="#3b4ca8"/>
<path d="M2142.5 866.1h0M2131.5 900.3h0m27.5 0h0M2144.5 917.4h0M2128 934.5h0m26.5 0h0M2105 951.5h0m36.5 0h0M2119.5 968.6h0M2104.5 985.7h0" class="p" stroke="#3b4ca8"/>
<path d="M2152.5 866.1h0M2132.5 900.3h0m26.5 0h0M2106 917.4h0m41 0h0M2136.5 934.5h0M2110 951.5h0m32.5 0h0M2125.5 968.6h0M2107.5 985.7h0" class="p" stroke="#3b4ca8"/>
<path d="M2158.5 866.1h0M2153.5 883.2h0M2136.5 900.3h0M2106 917.4h0m46 0h0M2140 934.5h0M2114 951.5h0m31 0h0M2130 968.6h0M2112 985.7h0" class="p" stroke="#3b4ca8"/>
<path d="M2100 922.5C2101.5 922.5 2103 922.5 2104.5 922.4C2111.5 922.1 2118.4 921.5 2125.4 921.1C2129.6 920.8 2133.8 920.6 2137.9 917C2141.4 913.9 2144.9 908.5 2148.4 902.4C2152.8 894.8 2157.1 886.1 2161.5 877.4L2161.5 921.4C2157.1 930.1 2152.8 938.9 2148.4 946.6C2144.9 952.7 2141.4 958.2 2137.9 961.3C2133.8 965 2129.6 965.2 2125.4 965.5C2118.4 966.1 2111.5 966.7 2104.5 967.1C2103 967.2 2101.5 967.3 2100 967.3Z" fill="#3b4ca8" fill-opacity=".2"/>
<path d="M2100 922.5C2101.5 922.5 2103 922.5 2104.5 922.4C2111.5 922.1 2118.4 921.5 2125.4 921.1C2129.6 920.8 2133.8 920.6 2137.9 917C2141.4 913.9 2144.9 908.5 2148.4 902.4C2152.8 894.8 2157.1 886.1 2161.5 877.4M2100 967.3C2101.5 967.3 2103 967.2 2104.5 967.1C2111.5 966.7 2118.4 966.1 2125.4 965.5C2129.6 965.2 2133.8 965 2137.9 961.3C2141.4 958.2 2144.9 952.7 2148.4 946.6C2152.8 938.9 2157.1 930.1 2161.5 921.4" class="d" stroke="#46548f"/>
<path d="M2100 944.9C2101.5 944.9 2103 944.8 2104.5 944.8C2111.5 944.4 2118.4 943.8 2125.4 943.3C2126.3 943.2 2127.1 943.2 2128 943.1" class="h"/>
<path d="M2100 944.9C2101.5 944.9 2103 944.8 2104.5 944.8C2111.5 944.4 2118.4 943.8 2125.4 943.3C2126.3 943.2 2127.1 943.2 2128 943.1" class="l" stroke="#3b4ca8"/>
<path d="M2127 943.2C2130.6 942.9 2134.3 942.3 2137.9 939.1C2141.4 936.1 2144.9 930.6 2148.4 924.5C2152.8 916.8 2157.1 908.1 2161.5 899.4" class="l" stroke="#3b4ca8" stroke-width="2.2" stroke-opacity=".55"/>
<path d="M1695.5 644.2h0M1800 712.5h0M1869.5 729.5h0M1794.5 746.6h0m264 0h0M1779.5 763.7h0m36.5 0h0m20.5 0h0m39 0h0M1794 780.8h0m39.5 0h0m46 0h0m34 0h0M1792 797.8h0m39 0h0m38 0h0m34.5 0h0m24.5 0h0m80 0h0M1823 814.9h0m31.5 0h0m36.5 0h0m24 0h0m20.5 0h0m83 0h0M1898 832h0m17.5 0h0m18 0h0m13 0h0m61 0h0m47 0h0M1906.5 849.1h0m52 0h0m30.5 0h0m30 0h0m24 0h0m34.5 0h0m21 0h0M1866 866.1h0m86 0h0m62 0h0m27.5 0h0m52.5 0h0m61.5 0h0M1968 883.2h0m66.5 0h0m38 0h0m27 0h0M2035.5 900.3h0m32 0h0m18 0h0m22 0h0m43 0h0M2043.5 917.4h0m48.5 0h0m49.5 0h0M2104.5 934.5h0m48 0h0M1982 951.5h0M2100 968.6h0M2132.5 1002.8h0" class="p" stroke="#dc1f14"/>
<path d="M1695 610h0M1813 695.4h0M1736 712.5h0M1751.5 729.5h0M1806.5 746.6h0M1784 763.7h0m34 0h0m22 0h0m62 0h0M1807 780.8h0m40 0h0m33.5 0h0m37.5 0h0M1807 797.8h0m28 0h0m37 0h0m32 0h0m33 0h0m71 0h0M1833.5 814.9h0m26.5 0h0m32 0h0m29.5 0h0m18 0h0m86.5 0h0M1898.5 832h0m22 0h0m13.5 0h0m21 0h0m55 0h0m120 0h0M1915 849.1h0m46 0h0m30 0h0m29 0h0m27 0h0m31.5 0h0m57.5 0h0M1878 866.1h0m84 0h0m53.5 0h0m35.5 0h0m43.5 0h0m61.5 0h0M1970 883.2h0m68.5 0h0m36 0h0m39.5 0h0M2043 900.3h0m29 0h0m21.5 0h0m14.5 0h0m43.5 0h0M2055 917.4h0m37.5 0h0m50 0h0M2105 934.5h0m51.5 0h0M2125.5 951.5h0M2110 968.6h0M2153.5 1002.8h0" class="p" stroke="#dc1f14"/>
<path d="M1702.5 610h0M1825 695.4h0M1743.5 712.5h0M1771 729.5h0M1808 746.6h0M1794 763.7h0m26 0h0m23.5 0h0m74 0h0M1807 780.8h0m53 0h0m25.5 0h0m35.5 0h0M1808 797.8h0m28 0h0m37.5 0h0m36 0h0m62 0h0m39.5 0h0M1836.5 814.9h0m27 0h0m40.5 0h0m18.5 0h0m19 0h0m88 0h0M1793 832h0m108 0h0m21 0h0m14 0h0m26 0h0m48 0h0m137 0h0M1843.5 849.1h0m72.5 0h0m49.5 0h0m32 0h0m24.5 0h0m31.5 0h0m28.5 0h0M1901 866.1h0m78.5 0h0m41.5 0h0m36.5 0h0m48.5 0h0M1975 883.2h0m68 0h0m31.5 0h0m53.5 0h0M2048.5 900.3h0m27.5 0h0m24.5 0h0m10.5 0h0m41 0h0M2065 917.4h0m51.5 0h0m40 0h0M2117.5 934.5h0m41 0h0M2129.5 951.5h0M2131.5 968.6h0M2106 985.7h0" class="p" stroke="#dc1f14"/>
<path d="M1703 610h0M1701.5 678.3h0M1755.5 712.5h0M1779 729.5h0M1809.5 746.6h0M1799 763.7h0m23 0h0m26 0h0m244 0h0M1807.5 780.8h0m53.5 0h0m33.5 0h0m45 0h0M1812.5 797.8h0m36 0h0m25 0h0m38.5 0h0m64.5 0h0m36 0h0M1771 814.9h0m65.5 0h0m27.5 0h0m42 0h0m17.5 0h0m29.5 0h0m81 0h0M1852.5 832h0m49.5 0h0m22 0h0m13 0h0m26.5 0h0m60.5 0h0M1889 849.1h0m37.5 0h0m41.5 0h0m37 0h0m17.5 0h0m33.5 0h0m28.5 0h0M1918 866.1h0m63 0h0m42 0h0m42.5 0h0m46.5 0h0M1984.5 883.2h0m63.5 0h0m27.5 0h0m55 0h0M2052 900.3h0m25.5 0h0m26 0h0m12 0h0m38 0h0M2072.5 917.4h0m57 0h0m29.5 0h0M2121.5 934.5h0m37 0h0M2145 951.5h0M2138.5 968.6h0M2124.5 985.7h0" class="p" stroke="#dc1f14"/>
<path d="M1689.5 592.9h0M1727 678.3h0M1766 712.5h0M1789.5 729.5h0M1764.5 746.6h0m47.5 0h0M1802.5 763.7h0m21 0h0m25.5 0h0M1808.5 780.8h0m62.5 0h0m32 0h0m41 0h0M1816 797.8h0m34 0h0m26 0h0m37 0h0m71 0h0m36 0h0M1773.5 814.9h0m66 0h0m33.5 0h0m33 0h0m17.5 0h0m44.5 0h0m75 0h0M1864.5 832h0m41.5 0h0m18.5 0h0m16 0h0m26 0h0m64 0h0M1891 849.1h0m49.5 0h0m37.5 0h0m27.5 0h0m18 0h0m39 0h0m23.5 0h0M1928 866.1h0m57.5 0h0m40.5 0h0m53 0h0m40 0h0M1987.5 883.2h0m61.5 0h0m28.5 0h0m60.5 0h0M1959 900.3h0m94 0h0m25 0h0m25.5 0h0m16 0h0m34.5 0h0M2076.5 917.4h0m58 0h0M2130 934.5h0m29.5 0h0M2159 951.5h0M2142 968.6h0M2128 985.7h0" class="p" stroke="#dc1f14"/>
<path d="M1727 678.3h0M1776 712.5h0M1790 729.5h0M1768.5 746.6h0m60 0h0M1802.5 763.7h0m21 0h0m26 0h0M1814 780.8h0m61 0h0m28.5 0h0m56 0h0M1824.5 797.8h0m37 0h0m30.5 0h0m21.5 0h0m77.5 0h0m42 0h0M1780.5 814.9h0m64.5 0h0m29.5 0h0m32.5 0h0m20.5 0h0m47.5 0h0m68.5 0h0M1872 832h0m36.5 0h0m19 0h0m17 0h0m39.5 0h0m47 0h0M1893.5 849.1h0m48 0h0m38.5 0h0m27.5 0h0m17 0h0m41 0h0m23.5 0h0M1932.5 866.1h0m57 0h0m39 0h0m53.5 0h0m54.5 0h0M1990.5 883.2h0m69 0h0m24 0h0m58.5 0h0M1970.5 900.3h0m85 0h0m24 0h0m26.5 0h0m36.5 0h0m14 0h0M1952.5 917.4h0m124.5 0h0m59.5 0h0M2049 934.5h0m82.5 0h0M2145 968.6h0M2133.5 985.7h0" class="p" stroke="#dc1f14"/>
<path d="M1729.5 678.3h0M1795 712.5h0M1799.5 729.5h0M1787 746.6h0m45 0h0M1813.5 763.7h0m10.5 0h0m39 0h0M1819 780.8h0m57 0h0m29 0h0m90 0h0M1825.5 797.8h0m42 0h0m30.5 0h0m21 0h0m83 0h0m96.5 0h0M1810 814.9h0m37 0h0m33 0h0m28 0h0m25 0h0m48.5 0h0m87 0h0M1882 832h0m27 0h0m19 0h0m17.5 0h0m42.5 0h0m46 0h0M1901.5 849.1h0m43.5 0h0m37 0h0m32.5 0h0m11.5 0h0m42 0h0m22.5 0h0M1934 866.1h0m61.5 0h0m42 0h0m45.5 0h0m56.5 0h0M1961.5 883.2h0m45 0h0m53 0h0m36 0h0m47 0h0M2005.5 900.3h0m56.5 0h0m19.5 0h0m24.5 0h0m38.5 0h0M1958 917.4h0m129.5 0h0m50.5 0h0M2056 934.5h0m82 0h0M2151.5 968.6h0M2139 985.7h0" class="p" stroke="#dc1f14"/>
<path d="M1773.5 678.3h0M1798 712.5h0M1809 729.5h0M1788.5 746.6h0m77 0h0M1763 763.7h0m51.5 0h0m21.5 0h0m34.5 0h0M1788 780.8h0m39 0h0m52.5 0h0m30.5 0h0M1828 797.8h0m40.5 0h0m30 0h0m27.5 0h0m80.5 0h0M1822 814.9h0m26.5 0h0m31.5 0h0m33 0h0m21 0h0m72 0h0m64 0h0M1891 832h0m21.5 0h0m16.5 0h0m17 0h0m51 0h0m54 0h0M1903 849.1h0m49.5 0h0m35.5 0h0m26.5 0h0m13.5 0h0m41.5 0h0m26.5 0h0M1935.5 866.1h0m64.5 0h0m38 0h0m48 0h0m54.5 0h0M1965.5 883.2h0m52.5 0h0m51 0h0m27.5 0h0m57 0h0M2027 900.3h0m39.5 0h0m16 0h0m23.5 0h0m40.5 0h0M2042 917.4h0m49 0h0m49 0h0M2102.5 934.5h0m41 0h0M2154.5 968.6h0M2154.5 985.7h0" class="p" stroke="#dc1f14"/>
<path d="M1686.8 576.8C1686.9 576.9 1686.9 577.1 1687 577.2C1690.6 582.7 1694.3 588.1 1697.9 592.9C1698.6 593.8 1699.3 594.8 1700 595.7C1703.5 602.3 1707 608.3 1710.6 613.6C1712 615.8 1713.5 617.9 1715 619.9C1717.8 625.7 1720.5 631.2 1723.3 636.7C1729.2 648.5 1735.1 660.3 1741 670C1744 674.8 1747 679.2 1750 683C1751.2 684.5 1752.5 685.9 1753.7 687.3C1758.8 692.8 1763.8 697 1768.9 702.1C1774 707.1 1779.1 712.9 1784.1 719.4C1789.2 725.8 1794.3 732.8 1799.4 739.2C1799.6 739.5 1799.8 739.7 1800 740C1804.9 745.2 1809.7 749.8 1814.6 752.6C1819.7 755.6 1824.7 756.6 1829.8 758.3C1834.9 759.9 1840 762.2 1845 765.2C1846.7 766.2 1848.3 767.3 1850 768.5C1853.4 770.8 1856.8 773.2 1860.3 775.6C1865.3 779.2 1870.4 782.5 1875.5 784.5C1880.5 786.6 1885.6 787.4 1890.7 787.9C1895.8 788.4 1900.8 788.5 1905.9 789.7C1911 791 1916.1 793.3 1921.1 796.1C1926.2 798.9 1931.3 802.2 1936.4 806.3C1941.4 810.4 1946.5 815.2 1951.6 819C1956.7 822.9 1961.7 825.8 1966.8 828C1971.9 830.2 1977 831.7 1982 831.3C1987.1 831 1992.2 828.7 1997.2 826.8C2001.5 825.2 2005.7 823.8 2009.9 823.8C2014.3 823.8 2018.6 825.1 2023 827.8C2027.2 830.4 2031.3 834.2 2035.5 838.3C2039.7 842.4 2043.9 846.9 2048.1 849.8C2052.9 853.3 2057.8 854.6 2062.7 854.7C2068.3 854.8 2073.8 853.4 2079.4 854.7C2082.9 855.6 2086.4 857.5 2089.9 860.4C2094 863.9 2098.2 869 2102.4 874C2106.6 879.1 2110.8 884.3 2114.9 888.7C2119.1 893.1 2123.3 896.8 2127.5 899.2C2131.7 901.6 2135.8 902.9 2140 903.4C2143.5 903.9 2147 903.8 2150.5 903.5C2154.1 903 2157.8 902.2 2161.5 901.4L2161.5 943.4C2157.8 944.2 2154.1 945.1 2150.5 945.5C2147 945.9 2143.5 946 2140 945.6C2135.8 945 2131.7 943.8 2127.5 941.4C2123.3 939 2119.1 935.4 2114.9 931C2110.8 926.6 2106.6 921.5 2102.4 916.4C2098.2 911.4 2094 906.4 2089.9 902.9C2086.4 900 2082.9 898.1 2079.4 897.3C2073.8 896 2068.3 897.4 2062.7 897.3C2057.8 897.2 2052.9 896 2048.1 892.6C2043.9 889.7 2039.7 885.2 2035.5 881.1C2031.3 877 2027.2 873.3 2023 870.7C2018.6 868 2014.3 866.7 2009.9 866.8C2005.7 866.8 2001.5 868.2 1997.2 869.9C1992.2 871.8 1987.1 874.1 1982 874.5C1977 874.9 1971.9 873.4 1966.8 871.2C1961.7 869.1 1956.7 866.2 1951.6 862.4C1946.5 858.6 1941.4 853.8 1936.4 849.8C1931.3 845.7 1926.2 842.4 1921.1 839.7C1916.1 836.9 1911 834.6 1905.9 833.4C1900.8 832.2 1895.8 832.1 1890.7 831.6C1885.6 831.2 1880.5 830.4 1875.5 828.4C1870.4 826.4 1865.3 823.1 1860.3 819.6C1856.8 817.2 1853.4 814.7 1850 812.5C1848.3 811.5 1846.7 810.5 1845 809.6C1840 807 1834.9 805.1 1829.8 803.9C1824.7 802.7 1819.7 802 1814.6 799.4C1809.7 797 1804.9 792.8 1800 788C1799.8 787.8 1799.6 787.7 1799.4 787.5C1794.3 783.3 1789.2 778.5 1784.1 774.3C1779.1 770.1 1774 766.5 1768.9 763.7C1763.8 760.9 1758.8 759 1753.7 755.7C1752.5 754.9 1751.2 754 1750 753C1747 750.9 1744 748.3 1741 745.1C1735.1 738.8 1729.2 730.4 1723.3 722C1720.5 718.1 1717.8 714.1 1715 709.9C1713.5 706.5 1712 703.1 1710.6 699.5C1707 690.9 1703.5 681.6 1700 671.7C1699.3 669.2 1698.6 666.8 1697.9 664.3C1694.3 651.7 1690.6 638.5 1687 625.2C1686.9 625 1686.9 624.9 1686.8 624.7Z" fill="#dc1f14" fill-opacity=".2"/>
<path d="M1686.8 576.8C1686.9 576.9 1686.9 577.1 1687 577.2C1690.6 582.7 1694.3 588.1 1697.9 592.9C1698.6 593.8 1699.3 594.8 1700 595.7C1703.5 602.3 1707 608.3 1710.6 613.6C1712 615.8 1713.5 617.9 1715 619.9C1717.8 625.7 1720.5 631.2 1723.3 636.7C1729.2 648.5 1735.1 660.3 1741 670C1744 674.8 1747 679.2 1750 683C1751.2 684.5 1752.5 685.9 1753.7 687.3C1758.8 692.8 1763.8 697 1768.9 702.1C1774 707.1 1779.1 712.9 1784.1 719.4C1789.2 725.8 1794.3 732.8 1799.4 739.2C1799.6 739.5 1799.8 739.7 1800 740C1804.9 745.2 1809.7 749.8 1814.6 752.6C1819.7 755.6 1824.7 756.6 1829.8 758.3C1834.9 759.9 1840 762.2 1845 765.2C1846.7 766.2 1848.3 767.3 1850 768.5C1853.4 770.8 1856.8 773.2 1860.3 775.6C1865.3 779.2 1870.4 782.5 1875.5 784.5C1880.5 786.6 1885.6 787.4 1890.7 787.9C1895.8 788.4 1900.8 788.5 1905.9 789.7C1911 791 1916.1 793.3 1921.1 796.1C1926.2 798.9 1931.3 802.2 1936.4 806.3C1941.4 810.4 1946.5 815.2 1951.6 819C1956.7 822.9 1961.7 825.8 1966.8 828C1971.9 830.2 1977 831.7 1982 831.3C1987.1 831 1992.2 828.7 1997.2 826.8C2001.5 825.2 2005.7 823.8 2009.9 823.8C2014.3 823.8 2018.6 825.1 2023 827.8C2027.2 830.4 2031.3 834.2 2035.5 838.3C2039.7 842.4 2043.9 846.9 2048.1 849.8C2052.9 853.3 2057.8 854.6 2062.7 854.7C2068.3 854.8 2073.8 853.4 2079.4 854.7C2082.9 855.6 2086.4 857.5 2089.9 860.4C2094 863.9 2098.2 869 2102.4 874C2106.6 879.1 2110.8 884.3 2114.9 888.7C2119.1 893.1 2123.3 896.8 2127.5 899.2C2131.7 901.6 2135.8 902.9 2140 903.4C2143.5 903.9 2147 903.8 2150.5 903.5C2154.1 903 2157.8 902.2 2161.5 901.4M1686.8 624.7C1686.9 624.9 1686.9 625 1687 625.2C1690.6 638.5 1694.3 651.7 1697.9 664.3C1698.6 666.8 1699.3 669.2 1700 671.7C1703.5 681.6 1707 690.9 1710.6 699.5C1712 703.1 1713.5 706.5 1715 709.9C1717.8 714.1 1720.5 718.1 1723.3 722C1729.2 730.4 1735.1 738.8 1741 745.1C1744 748.3 1747 750.9 1750 753C1751.2 754 1752.5 754.9 1753.7 755.7C1758.8 759 1763.8 760.9 1768.9 763.7C1774 766.5 1779.1 770.1 1784.1 774.3C1789.2 778.5 1794.3 783.3 1799.4 787.5C1799.6 787.7 1799.8 787.8 1800 788C1804.9 792.8 1809.7 797 1814.6 799.4C1819.7 802 1824.7 802.7 1829.8 803.9C1834.9 805.1 1840 807 1845 809.6C1846.7 810.5 1848.3 811.5 1850 812.5C1853.4 814.7 1856.8 817.2 1860.3 819.6C1865.3 823.1 1870.4 826.4 1875.5 828.4C1880.5 830.4 1885.6 831.2 1890.7 831.6C1895.8 832.1 1900.8 832.2 1905.9 833.4C1911 834.6 1916.1 836.9 1921.1 839.7C1926.2 842.4 1931.3 845.7 1936.4 849.8C1941.4 853.8 1946.5 858.6 1951.6 862.4C1956.7 866.2 1961.7 869.1 1966.8 871.2C1971.9 873.4 1977 874.9 1982 874.5C1987.1 874.1 1992.2 871.8 1997.2 869.9C2001.5 868.2 2005.7 866.8 2009.9 866.8C2014.3 866.7 2018.6 868 2023 870.7C2027.2 873.3 2031.3 877 2035.5 881.1C2039.7 885.2 2043.9 889.7 2048.1 892.6C2052.9 896 2057.8 897.2 2062.7 897.3C2068.3 897.4 2073.8 896 2079.4 897.3C2082.9 898.1 2086.4 900 2089.9 902.9C2094 906.4 2098.2 911.4 2102.4 916.4C2106.6 921.5 2110.8 926.6 2114.9 931C2119.1 935.4 2123.3 939 2127.5 941.4C2131.7 943.8 2135.8 945 2140 945.6C2143.5 946 2147 945.9 2150.5 945.5C2154.1 945.1 2157.8 944.2 2161.5 943.4" class="d" stroke="#a8423c"/>
<path d="M1686.8 600.7C1690.5 610.2 1694.2 619.7 1697.9 628.6C1702.1 638.8 1706.3 648.2 1710.6 656.5C1714.8 664.9 1719 672.1 1723.3 679.4C1729.2 689.5 1735.1 699.6 1741 707.5C1745.2 713.2 1749.5 717.8 1753.7 721.5C1758.8 725.9 1763.8 729 1768.9 732.9C1774 736.8 1779.1 741.5 1784.1 746.8C1789.2 752.2 1794.3 758.1 1799.4 763.3C1804.4 768.6 1809.5 773.3 1814.6 776C1819.7 778.8 1824.7 779.7 1829.8 781.1C1834.9 782.5 1840 784.6 1845 787.4C1850.1 790.3 1855.2 794.1 1860.3 797.6C1865.3 801.1 1870.4 804.4 1875.5 806.5C1880.5 808.5 1885.6 809.3 1890.7 809.8C1895.8 810.2 1900.8 810.3 1905.9 811.5C1911 812.8 1916.1 815.1 1921.1 817.9C1926.2 820.7 1931.3 824 1936.4 828C1941.4 832.1 1946.5 836.9 1951.6 840.7C1956.7 844.6 1961.7 847.4 1966.8 849.6C1971.9 851.8 1977 853.3 1982 852.9C1987.1 852.5 1992.2 850.3 1997.2 848.3C2001.5 846.7 2005.7 845.3 2009.9 845.3C2014.3 845.2 2018.6 846.6 2023 849.3C2027.2 851.8 2031.3 855.6 2035.5 859.7C2039.7 863.8 2043.9 868.3 2048.1 871.2C2052.9 874.6 2057.8 875.9 2062.7 876C2068.3 876.1 2073.8 874.7 2079.4 876C2082.9 876.8 2086.4 878.7 2089.9 881.7C2094 885.2 2098.2 890.2 2102.4 895.2C2106.6 900.3 2110.8 905.5 2114.9 909.9C2119.1 914.3 2123.3 917.9 2127.5 920.3C2131.7 922.7 2135.8 924 2140 924.5C2143.5 924.9 2147 924.9 2150.5 924.5C2154.1 924.1 2157.8 923.2 2161.5 922.4" class="h"/>
<path d="M1686.8 600.7C1690.5 610.2 1694.2 619.7 1697.9 628.6C1702.1 638.8 1706.3 648.2 1710.6 656.5C1714.8 664.9 1719 672.1 1723.3 679.4C1729.2 689.5 1735.1 699.6 1741 707.5C1745.2 713.2 1749.5 717.8 1753.7 721.5C1758.8 725.9 1763.8 729 1768.9 732.9C1774 736.8 1779.1 741.5 1784.1 746.8C1789.2 752.2 1794.3 758.1 1799.4 763.3C1804.4 768.6 1809.5 773.3 1814.6 776C1819.7 778.8 1824.7 779.7 1829.8 781.1C1834.9 782.5 1840 784.6 1845 787.4C1850.1 790.3 1855.2 794.1 1860.3 797.6C1865.3 801.1 1870.4 804.4 1875.5 806.5C1880.5 808.5 1885.6 809.3 1890.7 809.8C1895.8 810.2 1900.8 810.3 1905.9 811.5C1911 812.8 1916.1 815.1 1921.1 817.9C1926.2 820.7 1931.3 824 1936.4 828C1941.4 832.1 1946.5 836.9 1951.6 840.7C1956.7 844.6 1961.7 847.4 1966.8 849.6C1971.9 851.8 1977 853.3 1982 852.9C1987.1 852.5 1992.2 850.3 1997.2 848.3C2001.5 846.7 2005.7 845.3 2009.9 845.3C2014.3 845.2 2018.6 846.6 2023 849.3C2027.2 851.8 2031.3 855.6 2035.5 859.7C2039.7 863.8 2043.9 868.3 2048.1 871.2C2052.9 874.6 2057.8 875.9 2062.7 876C2068.3 876.1 2073.8 874.7 2079.4 876C2082.9 876.8 2086.4 878.7 2089.9 881.7C2094 885.2 2098.2 890.2 2102.4 895.2C2106.6 900.3 2110.8 905.5 2114.9 909.9C2119.1 914.3 2123.3 917.9 2127.5 920.3C2131.7 922.7 2135.8 924 2140 924.5C2143.5 924.9 2147 924.9 2150.5 924.5C2154.1 924.1 2157.8 923.2 2161.5 922.4" class="l" stroke="#dc1f14"/>
<path d="M1980 951.5h0M1915 968.6h0m99.5 0h0M1729.5 985.7h0m179 0h0m31 0h0m41.5 0h0m24.5 0h0m69 0h0M1843.5 1002.8h0m30 0h0m36.5 0h0m18 0h0m17 0h0m25 0h0m35 0h0m17 0h0m21 0h0m16.5 0h0m24 0h0m22.5 0h0m36 0h0M1695.5 1019.8h0m117 0h0m14.5 0h0m44 0h0m30 0h0m11 0h0m15.5 0h0m25 0h0m47.5 0h0m30.5 0h0m25.5 0h0m21.5 0h0m22.5 0h0m15.5 0h0m25 0h0m18.5 0h0M1736 1036.9h0m52.5 0h0m18.5 0h0m18.5 0h0m24.5 0h0m39 0h0m14 0h0m31 0h0m61.5 0h0m42.5 0h0m20.5 0h0m32 0h0m39 0h0m15.5 0h0M1809 1054h0m19 0h0m32 0h0m56 0h0m165.5 0h0m46.5 0h0M1795 1071h0m296 0h0M2096 1122.3h0" class="p" stroke="#f28a2e"/>
<path d="M2029.5 951.5h0M1918 968.6h0m123.5 0h0M1766 985.7h0m147.5 0h0m32.5 0h0m35.5 0h0m24.5 0h0m70.5 0h0M1689.5 1002.8h0m155.5 0h0m31 0h0m37 0h0m15 0h0m17.5 0h0m31 0h0m30 0h0m16.5 0h0m20.5 0h0m16 0h0m26.5 0h0m38.5 0h0m18 0h0M1702.5 1019.8h0m110.5 0h0m30.5 0h0m30 0h0m28 0h0m11 0h0m20.5 0h0m26 0h0m47.5 0h0m26.5 0h0m24.5 0h0m21.5 0h0m25.5 0h0m12 0h0m26 0h0M1751.5 1036.9h0m38.5 0h0m17 0h0m21.5 0h0m34.5 0h0m28 0h0m12.5 0h0m32.5 0h0m66 0h0m36.5 0h0m24 0h0m30 0h0m38 0h0m16.5 0h0M1812 1054h0m20 0h0m29.5 0h0m56 0h0m164.5 0h0m47.5 0h0M1825 1071h0m283 0h0M1727 1088.1h0" class="p" stroke="#f28a2e"/>
<path d="M2065.5 951.5h0M1970.5 968.6h0m112 0h0M1800 985.7h0m118 0h0m41.5 0h0m22.5 0h0m26 0h0m69 0h0M1779.5 1002.8h0m75 0h0m23.5 0h0m37.5 0h0m13.5 0h0m17.5 0h0m35.5 0h0m28 0h0m14 0h0m23 0h0m22.5 0h0m22.5 0h0m33.5 0h0m25 0h0M1743.5 1019.8h0m72.5 0h0m32.5 0h0m27 0h0m26.5 0h0m11.5 0h0m20.5 0h0m28 0h0m50.5 0h0m21.5 0h0m28 0h0m20 0h0m23 0h0m25 0h0m15 0h0M1755.5 1036.9h0m36.5 0h0m16 0h0m23 0h0m33 0h0m27 0h0m13 0h0m48 0h0m58 0h0m32 0h0m23.5 0h0m31 0h0m37 0h0m18 0h0M1813.5 1054h0m22.5 0h0m36 0h0m48.5 0h0m165.5 0h0m50.5 0h0M1833.5 1071h0m325.5 0h0M1847 1088.1h0" class="p" stroke="#f28a2e"/>
<path d="M2083 951.5h0M1971.5 968.6h0m114 0h0M1806.5 985.7h0m112.5 0h0m42.5 0h0m23 0h0m29.5 0h0m70.5 0h0M1780.5 1002.8h0m80.5 0h0m18.5 0h0m41.5 0h0m16 0h0m18 0h0m29 0h0m27 0h0m15 0h0m23 0h0m21 0h0m24 0h0m37.5 0h0m22 0h0M1763 1019.8h0m53 0h0m44 0h0m16 0h0m27.5 0h0m11.5 0h0m19 0h0m32.5 0h0m52.5 0h0m16.5 0h0m37 0h0m15 0h0m18.5 0h0m24 0h0m16.5 0h0M1768.5 1036.9h0m24.5 0h0m15 0h0m28 0h0m32.5 0h0m23.5 0h0m16 0h0m44.5 0h0m63 0h0m27.5 0h0m24.5 0h0m35 0h0m33.5 0h0m15.5 0h0M1695 1054h0m119 0h0m22.5 0h0m38.5 0h0m49 0h0m175.5 0h0m39.5 0h0M1840 1071h0M1953 1088.1h0" class="p" stroke="#f28a2e"/>
<path d="M1978 934.5h0M1979.5 968.6h0m126.5 0h0M1807 985.7h0m121 0h0m35.5 0h0m24 0h0m38.5 0h0m106.5 0h0M1789.5 1002.8h0m74 0h0m18.5 0h0m39.5 0h0m18 0h0m21.5 0h0m24.5 0h0m29 0h0m11.5 0h0m25 0h0m21.5 0h0m26 0h0m36 0h0m19 0h0M1764.5 1019.8h0m53.5 0h0m47.5 0h0m14.5 0h0m24 0h0m19.5 0h0m12 0h0m32.5 0h0m54.5 0h0m28.5 0h0m23.5 0h0m17.5 0h0m14 0h0m25.5 0h0m22 0h0M1771 1036.9h0m23 0h0m16 0h0m29.5 0h0m29.5 0h0m23 0h0m17.5 0h0m48.5 0h0m60.5 0h0m25 0h0m24.5 0h0m35.5 0h0m35 0h0m13.5 0h0M1773.5 1054h0m41 0h0m22 0h0m43.5 0h0m128 0h0m104 0h0m42.5 0h0M1852.5 1071h0M2043 1088.1h0" class="p" stroke="#f28a2e"/>
<path d="M1997 968.6h0m117 0h0M1835 985.7h0m98.5 0h0m32 0h0m23.5 0h0m54 0h0m96.5 0h0M1799.5 1002.8h0m65 0h0m36.5 0h0m21 0h0m18.5 0h0m21.5 0h0m26 0h0m30 0h0m10 0h0m25.5 0h0m24.5 0h0m20.5 0h0m38 0h0m19.5 0h0M1776 1019.8h0m43 0h0m47 0h0m19.5 0h0m19.5 0h0m19.5 0h0m17 0h0m26.5 0h0m55.5 0h0m28.5 0h0m23.5 0h0m18 0h0m14 0h0m30.5 0h0m16.5 0h0M1701.5 1036.9h0m69.5 0h0m23 0h0m26 0h0m28.5 0h0m23.5 0h0m26 0h0m15 0h0m45.5 0h0m62.5 0h0m27 0h0m20.5 0h0m37.5 0h0m36 0h0m10.5 0h0M1773.5 1054h0m48.5 0h0m14.5 0h0m44 0h0m148 0h0m89 0h0M1906.5 1071h0M2154 1088.1h0" class="p" stroke="#f28a2e"/>
<path d="M2005.5 968.6h0m139 0h0M1893.5 985.7h0m42 0h0m39.5 0h0m14.5 0h0m75.5 0h0m93.5 0h0M1802.5 1002.8h0m67 0h0m36.5 0h0m16.5 0h0m18 0h0m25 0h0m25.5 0h0m29 0h0m11 0h0m24 0h0m23.5 0h0m22 0h0m39.5 0h0m16.5 0h0M1802.5 1019.8h0m19.5 0h0m45.5 0h0m30.5 0h0m8 0h0m20.5 0h0m15 0h0m42.5 0h0m40.5 0h0m28.5 0h0m24.5 0h0m17 0h0m15.5 0h0m28 0h0m17.5 0h0M1703 1036.9h0m81 0h0m14 0h0m25.5 0h0m25.5 0h0m25.5 0h0m24 0h0m25 0h0m64.5 0h0m46.5 0h0m14.5 0h0m20 0h0m50.5 0h0m23 0h0m14 0h0M1787 1054h0m36 0h0m24 0h0m44 0h0m157.5 0h0m70.5 0h0M1779 1071h0m228.5 0h0" class="p" stroke="#f28a2e"/>
<path d="M1903 951.5h0M1808.5 968.6h0m199 0h0M1894.5 985.7h0m42.5 0h0m38 0h0m22.5 0h0m74.5 0h0M1833.5 1002.8h0m39.5 0h0m34 0h0m19 0h0m18.5 0h0m23.5 0h0m27 0h0m25 0h0m14 0h0m22 0h0m23.5 0h0m24 0h0m38 0h0m17 0h0M1809.5 1019.8h0m15 0h0m46 0h0m28 0h0m10.5 0h0m18.5 0h0m16.5 0h0m47 0h0m36 0h0m27.5 0h0m23 0h0m18 0h0m15.5 0h0m27 0h0m18.5 0h0M1727 1036.9h0m61 0h0m11 0h0m25 0h0m25.5 0h0m30 0h0m22.5 0h0m30.5 0h0m58 0h0m47 0h0m18 0h0m20.5 0h0m52 0h0m15.5 0h0m16 0h0M1807.5 1054h0m16 0h0m24.5 0h0m58 0h0m160.5 0h0m55 0h0M1794.5 1071h0m294.5 0h0" class="p" stroke="#f28a2e"/>
<path d="M1686.8 1029.3C1686.9 1029.3 1686.9 1029.3 1687 1029.2C1691.6 1025.7 1696.2 1022.2 1700.8 1019.1C1702.2 1018.2 1703.6 1017.3 1705 1016.5C1709.5 1014.6 1714.1 1013 1718.6 1011.5C1720.7 1010.8 1722.9 1010.1 1725 1009.5C1728.8 1008.8 1732.6 1008.2 1736.4 1007.8C1743.1 1007.1 1749.9 1007 1756.7 1007.1C1765.1 1007.1 1773.6 1007.2 1782 1008C1784.7 1008.2 1787.3 1008.5 1790 1008.9C1795.8 1009.8 1801.6 1010.8 1807.4 1011.8C1815.8 1013.1 1824.3 1014.2 1832.7 1014.7C1841.2 1015.3 1849.7 1015.4 1858.1 1014.4C1866.6 1013.4 1875 1011.3 1883.5 1009C1889 1007.4 1894.5 1005.7 1900 1003.9C1902.9 1002.9 1905.9 1001.9 1908.8 1000.9C1917.3 997.9 1925.8 994.7 1934.2 992.5C1942.7 990.2 1951.1 988.8 1959.6 987.9C1968 987 1976.5 986.7 1985 987.2C1990 987.4 1995 988 2000 988.6C2003.4 989 2006.9 989.5 2010.3 990C2018.8 991.2 2027.2 992.5 2035.7 993.8C2044.2 995.1 2052.6 996.5 2061.1 997.6C2069.5 998.7 2078 999.5 2086.4 1000.1C2094.9 1000.8 2103.4 1001.2 2111.8 1002.7C2120.3 1004.2 2128.7 1006.8 2137.2 1009C2145.3 1011.1 2153.4 1012.9 2161.5 1014.6L2161.5 1044.6C2153.4 1042.9 2145.3 1041.1 2137.2 1039C2128.7 1036.8 2120.3 1034.2 2111.8 1032.7C2103.4 1031.2 2094.9 1030.8 2086.4 1030.1C2078 1029.5 2069.5 1028.7 2061.1 1027.6C2052.6 1026.5 2044.2 1025.1 2035.7 1023.8C2027.2 1022.5 2018.8 1021.2 2010.3 1020C2006.9 1019.5 2003.4 1019 2000 1018.6C1995 1018.2 1990 1017.8 1985 1017.8C1976.5 1017.6 1968 1018.3 1959.6 1019.5C1951.1 1020.7 1942.7 1022.5 1934.2 1025.1C1925.8 1027.7 1917.3 1031.2 1908.8 1034.5C1905.9 1035.7 1902.9 1036.8 1900 1037.9C1894.5 1040.1 1889 1042.2 1883.5 1044.2C1875 1047.2 1866.6 1049.8 1858.1 1051.4C1849.7 1053 1841.2 1053.6 1832.7 1053.6C1824.3 1053.7 1815.8 1053.2 1807.4 1052.5C1801.6 1052 1795.8 1051.4 1790 1050.9C1787.3 1050.6 1784.7 1050.4 1782 1050.2C1773.6 1049.7 1765.1 1049.9 1756.7 1050.1C1749.9 1050.3 1743.1 1050.5 1736.4 1051.4C1732.6 1051.9 1728.8 1052.7 1725 1053.5C1722.9 1053.7 1720.7 1054 1718.6 1054.3C1714.1 1054.8 1709.5 1055.5 1705 1056.5C1703.6 1056.6 1702.2 1056.7 1700.8 1056.8C1696.2 1057.3 1691.6 1058.2 1687 1059.2C1686.9 1059.2 1686.9 1059.3 1686.8 1059.3Z" fill="#f28a2e" fill-opacity=".2"/>
<path d="M1686.8 1029.3C1686.9 1029.3 1686.9 1029.3 1687 1029.2C1691.6 1025.7 1696.2 1022.2 1700.8 1019.1C1702.2 1018.2 1703.6 1017.3 1705 1016.5C1709.5 1014.6 1714.1 1013 1718.6 1011.5C1720.7 1010.8 1722.9 1010.1 1725 1009.5C1728.8 1008.8 1732.6 1008.2 1736.4 1007.8C1743.1 1007.1 1749.9 1007 1756.7 1007.1C1765.1 1007.1 1773.6 1007.2 1782 1008C1784.7 1008.2 1787.3 1008.5 1790 1008.9C1795.8 1009.8 1801.6 1010.8 1807.4 1011.8C1815.8 1013.1 1824.3 1014.2 1832.7 1014.7C1841.2 1015.3 1849.7 1015.4 1858.1 1014.4C1866.6 1013.4 1875 1011.3 1883.5 1009C1889 1007.4 1894.5 1005.7 1900 1003.9C1902.9 1002.9 1905.9 1001.9 1908.8 1000.9C1917.3 997.9 1925.8 994.7 1934.2 992.5C1942.7 990.2 1951.1 988.8 1959.6 987.9C1968 987 1976.5 986.7 1985 987.2C1990 987.4 1995 988 2000 988.6C2003.4 989 2006.9 989.5 2010.3 990C2018.8 991.2 2027.2 992.5 2035.7 993.8C2044.2 995.1 2052.6 996.5 2061.1 997.6C2069.5 998.7 2078 999.5 2086.4 1000.1C2094.9 1000.8 2103.4 1001.2 2111.8 1002.7C2120.3 1004.2 2128.7 1006.8 2137.2 1009C2145.3 1011.1 2153.4 1012.9 2161.5 1014.6M1686.8 1059.3C1686.9 1059.3 1686.9 1059.2 1687 1059.2C1691.6 1058.2 1696.2 1057.3 1700.8 1056.8C1702.2 1056.7 1703.6 1056.6 1705 1056.5C1709.5 1055.5 1714.1 1054.8 1718.6 1054.3C1720.7 1054 1722.9 1053.7 1725 1053.5C1728.8 1052.7 1732.6 1051.9 1736.4 1051.4C1743.1 1050.5 1749.9 1050.3 1756.7 1050.1C1765.1 1049.9 1773.6 1049.7 1782 1050.2C1784.7 1050.4 1787.3 1050.6 1790 1050.9C1795.8 1051.4 1801.6 1052 1807.4 1052.5C1815.8 1053.2 1824.3 1053.7 1832.7 1053.6C1841.2 1053.6 1849.7 1053 1858.1 1051.4C1866.6 1049.8 1875 1047.2 1883.5 1044.2C1889 1042.2 1894.5 1040.1 1900 1037.9C1902.9 1036.8 1905.9 1035.7 1908.8 1034.5C1917.3 1031.2 1925.8 1027.7 1934.2 1025.1C1942.7 1022.5 1951.1 1020.7 1959.6 1019.5C1968 1018.3 1976.5 1017.6 1985 1017.8C1990 1017.8 1995 1018.2 2000 1018.6C2003.4 1019 2006.9 1019.5 2010.3 1020C2018.8 1021.2 2027.2 1022.5 2035.7 1023.8C2044.2 1025.1 2052.6 1026.5 2061.1 1027.6C2069.5 1028.7 2078 1029.5 2086.4 1030.1C2094.9 1030.8 2103.4 1031.2 2111.8 1032.7C2120.3 1034.2 2128.7 1036.8 2137.2 1039C2145.3 1041.1 2153.4 1042.9 2161.5 1044.6" class="d" stroke="#c08a58"/>
<path d="M1686.8 1044.3C1691.5 1042 1696.2 1039.8 1700.8 1038C1706.8 1035.7 1712.7 1034.2 1718.6 1032.9C1724.5 1031.5 1730.4 1030.3 1736.4 1029.6C1743.1 1028.8 1749.9 1028.7 1756.7 1028.6C1765.1 1028.5 1773.6 1028.4 1782 1029.1C1790.5 1029.7 1798.9 1031.1 1807.4 1032.1C1815.8 1033.2 1824.3 1033.9 1832.7 1034.2C1841.2 1034.4 1849.7 1034.2 1858.1 1032.9C1866.6 1031.6 1875 1029.2 1883.5 1026.6C1891.9 1023.9 1900.4 1020.8 1908.8 1017.7C1917.3 1014.5 1925.8 1011.2 1934.2 1008.8C1942.7 1006.4 1951.1 1004.8 1959.6 1003.7C1968 1002.7 1976.5 1002.2 1985 1002.5C1993.4 1002.7 2001.9 1003.8 2010.3 1005C2018.8 1006.2 2027.2 1007.5 2035.7 1008.8C2044.2 1010.1 2052.6 1011.5 2061.1 1012.6C2069.5 1013.7 2078 1014.5 2086.4 1015.1C2094.9 1015.8 2103.4 1016.2 2111.8 1017.7C2120.3 1019.2 2128.7 1021.8 2137.2 1024C2145.3 1026.1 2153.4 1027.9 2161.5 1029.6" class="h"/>
<path d="M1686.8 1044.3C1691.5 1042 1696.2 1039.8 1700.8 1038C1706.8 1035.7 1712.7 1034.2 1718.6 1032.9C1724.5 1031.5 1730.4 1030.3 1736.4 1029.6C1743.1 1028.8 1749.9 1028.7 1756.7 1028.6C1765.1 1028.5 1773.6 1028.4 1782 1029.1C1790.5 1029.7 1798.9 1031.1 1807.4 1032.1C1815.8 1033.2 1824.3 1033.9 1832.7 1034.2C1841.2 1034.4 1849.7 1034.2 1858.1 1032.9C1866.6 1031.6 1875 1029.2 1883.5 1026.6C1891.9 1023.9 1900.4 1020.8 1908.8 1017.7C1917.3 1014.5 1925.8 1011.2 1934.2 1008.8C1942.7 1006.4 1951.1 1004.8 1959.6 1003.7C1968 1002.7 1976.5 1002.2 1985 1002.5C1993.4 1002.7 2001.9 1003.8 2010.3 1005C2018.8 1006.2 2027.2 1007.5 2035.7 1008.8C2044.2 1010.1 2052.6 1011.5 2061.1 1012.6C2069.5 1013.7 2078 1014.5 2086.4 1015.1C2094.9 1015.8 2103.4 1016.2 2111.8 1017.7C2120.3 1019.2 2128.7 1021.8 2137.2 1024C2145.3 1026.1 2153.4 1027.9 2161.5 1029.6" class="l" stroke="#f28a2e"/>
<path d="M2138 968.6h0M2141.5 985.7h0M2103.5 1002.8h0m43.5 0h0M2049 1019.8h0m76.5 0h0M2043 1036.9h0m33 0h0m29 0h0m25.5 0h0M1876 1054h0m86 0h0m107.5 0h0m36.5 0h0M1808.5 1071h0m56 0h0m42.5 0h0m17.5 0h0m35 0h0m42.5 0h0m35.5 0h0m46 0h0m33 0h0M1813.5 1088.1h0m23 0h0m39 0h0m28.5 0h0m29.5 0h0m12 0h0m29.5 0h0m45 0h0m22 0h0m26.5 0h0m37.5 0h0M1727 1105.2h0m97 0h0m36 0h0m20.5 0h0m33 0h0m15.5 0h0m52 0h0m31.5 0h0m21.5 0h0m48 0h0M1788.5 1122.3h0m48 0h0m55.5 0h0m60.5 0h0M1727 1139.3h0m80 0h0m29 0h0m186 0h0M1975 1224.7h0" class="p" stroke="#69c834"/>
<path d="M2142 968.6h0M2152 985.7h0M2130 1002.8h0m20.5 0h0M2072 1019.8h0m56 0h0M2043 1036.9h0m48 0h0m15 0h0m25.5 0h0M1918 1054h0m47.5 0h0m107 0h0m35 0h0M1818 1071h0m51.5 0h0m39 0h0m17.5 0h0m42 0h0m46 0h0m24 0h0m48 0h0m33 0h0M1814 1088.1h0m29.5 0h0m34.5 0h0m26 0h0m30 0h0m12.5 0h0m31.5 0h0m42 0h0m23.5 0h0m31 0h0m37.5 0h0M1736 1105.2h0m97.5 0h0m28 0h0m24 0h0m28 0h0m28 0h0m40.5 0h0m33.5 0h0m27.5 0h0m40 0h0M1792 1122.3h0m56.5 0h0m49.5 0h0m78.5 0h0M1773.5 1139.3h0m34.5 0h0m42 0h0m176 0h0M1689.5 1173.5h0" class="p" stroke="#69c834"/>
<path d="M2145 968.6h0M2154 985.7h0M2138 1002.8h0m13.5 0h0M2074.5 1019.8h0m53.5 0h0M2051 1036.9h0m41 0h0m18 0h0m23.5 0h0M1923.5 1054h0m58 0h0m94 0h0m60.5 0h0M1832 1071h0m39 0h0m42 0h0m15 0h0m42.5 0h0m44 0h0m50.5 0h0m22.5 0h0m64 0h0M1771 1088.1h0m45 0h0m29 0h0m44 0h0m19 0h0m26 0h0m18.5 0h0m27 0h0m43 0h0m24.5 0h0m29.5 0h0m39 0h0M1779 1105.2h0m56 0h0m32.5 0h0m23.5 0h0m24 0h0m29.5 0h0m46.5 0h0m27 0h0m31 0h0M1701.5 1122.3h0m101 0h0m52 0h0m46.5 0h0m79 0h0M1776 1139.3h0m34 0h0m69.5 0h0M1703 1156.4h0" class="p" stroke="#69c834"/>
<path d="M2145 968.6h0M2156 985.7h0M2138.5 1002.8h0m16 0h0M2102.5 1019.8h0m27 0h0M2056 1036.9h0m36.5 0h0m18.5 0h0m23.5 0h0M1807 1054h0m129 0h0m69 0h0m72 0h0m59.5 0h0M1755.5 1071h0m78 0h0m42.5 0h0m37 0h0m15 0h0m56.5 0h0m30 0h0m51 0h0m28 0h0M1773.5 1088.1h0m45.5 0h0m30 0h0m42 0h0m18 0h0m26.5 0h0m22.5 0h0m26 0h0m40.5 0h0m23.5 0h0m29.5 0h0M1794 1105.2h0m42 0h0m32.5 0h0m23.5 0h0m29 0h0m34 0h0m40 0h0m24 0h0m34.5 0h0M1702.5 1122.3h0m104.5 0h0m56 0h0m56 0h0m71.5 0h0M1788 1139.3h0m24.5 0h0m86 0h0M1822 1156.4h0" class="p" stroke="#69c834"/>
<path d="M2159.5 968.6h0M2158.5 985.7h0M2139 1002.8h0m17.5 0h0M2106 1019.8h0m25.5 0h0M2059.5 1036.9h0m35 0h0m23 0h0m25 0h0M1813 1054h0m131 0h0m74.5 0h0m63 0h0m71 0h0M1766 1071h0m70.5 0h0m64.5 0h0m15 0h0m16.5 0h0m55.5 0h0m36 0h0m48.5 0h0m26 0h0M1779.5 1088.1h0m43.5 0h0m41 0h0m27 0h0m21 0h0m25 0h0m24 0h0m23 0h0m44 0h0m23 0h0m27 0h0M1798 1105.2h0m49 0h0m25 0h0m30 0h0m20.5 0h0m36.5 0h0m38 0h0m26.5 0h0m36 0h0M1729.5 1122.3h0m78 0h0m58.5 0h0m62 0h0m79.5 0h0M1790 1139.3h0m30 0h0m81.5 0h0M1852.5 1156.4h0" class="p" stroke="#69c834"/>
<path d="M2153.5 951.5h0M2159 985.7h0M2139.5 1002.8h0m17 0h0M2106 1019.8h0m50.5 0h0M1922 1036.9h0m140.5 0h0m33 0h0m26 0h0m25 0h0M1840 1054h0m106 0h0m97 0h0m47.5 0h0M1780.5 1071h0m59 0h0m62.5 0h0m15.5 0h0m22 0h0m49.5 0h0m37 0h0m51.5 0h0m22.5 0h0M1784 1088.1h0m41.5 0h0m45 0h0m24 0h0m20.5 0h0m22 0h0m25 0h0m33.5 0h0m35 0h0m21.5 0h0m27 0h0M1799.5 1105.2h0m48.5 0h0m24 0h0m31 0h0m20.5 0h0m38 0h0m44.5 0h0m22.5 0h0m39 0h0M1751.5 1122.3h0m58 0h0m70 0h0m54.5 0h0m136 0h0M1794 1139.3h0m28 0h0m83 0h0M2027 1156.4h0" class="p" stroke="#69c834"/>
<path d="M2114 968.6h0M2010 985.7h0M2140 1002.8h0M1966.5 1019.8h0m153 0h0m39.5 0h0M1985.5 1036.9h0m81 0h0m33 0h0m30 0h0M1865.5 1054h0m87.5 0h0m102.5 0h0m36.5 0h0M1789.5 1071h0m54 0h0m60 0h0m14.5 0h0m22.5 0h0m49 0h0m44.5 0h0m43.5 0h0m23 0h0M1787 1088.1h0m41.5 0h0m44.5 0h0m25 0h0m17.5 0h0m24 0h0m26 0h0m40 0h0m33 0h0m14.5 0h0m29.5 0h0M1800 1105.2h0m49.5 0h0m24 0h0m32.5 0h0m20.5 0h0m41.5 0h0m40 0h0m21.5 0h0m38.5 0h0M1763 1122.3h0m60.5 0h0m56.5 0h0m55.5 0h0m146.5 0h0M1795 1139.3h0m28.5 0h0m82.5 0h0M2062 1156.4h0" class="p" stroke="#69c834"/>
<path d="M2136.5 968.6h0M2138 985.7h0M2096.5 1002.8h0m47 0h0M1991 1019.8h0m133.5 0h0M2031 1036.9h0m38 0h0m34.5 0h0m26.5 0h0M1869 1054h0m89.5 0h0m97.5 0h0m42.5 0h0M1799 1071h0m62 0h0m45 0h0m15.5 0h0m23.5 0h0m52.5 0h0m38 0h0m44 0h0m25 0h0M1802.5 1088.1h0m28.5 0h0m43.5 0h0m28.5 0h0m21 0h0m16.5 0h0m27.5 0h0m38.5 0h0m35 0h0m13 0h0m39.5 0h0M1695 1105.2h0m121 0h0m44 0h0m13.5 0h0m39 0h0m15 0h0m42.5 0h0m40 0h0m23 0h0m45.5 0h0M1771 1122.3h0m53.5 0h0m57.5 0h0m70 0h0M1695.5 1139.3h0m111 0h0m18.5 0h0m108 0h0" class="p" stroke="#69c834"/>
<path d="M1686.8 1122.4C1686.9 1122.4 1686.9 1122.3 1687 1122.3C1693.3 1119.3 1699.6 1116.4 1705.9 1113.8C1713.9 1110.4 1722 1107.7 1730 1104.8C1730.4 1104.7 1730.9 1104.6 1731.3 1104.5C1739.7 1102.6 1748.2 1100.5 1756.7 1099.2C1771.1 1097 1785.6 1097.1 1800 1095.5C1802.5 1095.1 1804.9 1094.7 1807.4 1094.2C1815.8 1092.6 1824.3 1090.1 1832.7 1088.4C1841.2 1086.7 1849.7 1085.8 1858.1 1084.6C1866.6 1083.4 1875 1082 1883.5 1080.8C1891.9 1079.5 1900.4 1078.5 1908.8 1077.5C1917.3 1076.5 1925.8 1075.7 1934.2 1074.9C1942.7 1074.2 1951.1 1073.7 1959.6 1073.2C1968 1072.7 1976.5 1072.2 1985 1071.9C1993.4 1071.6 2001.9 1071.6 2010.3 1071.4C2018.8 1071.2 2027.2 1070.7 2035.7 1069.4C2042.5 1068.3 2049.2 1066.6 2056 1064.3C2061.9 1062.3 2067.8 1059.7 2073.8 1056.7C2079.7 1053.6 2085.6 1050.1 2091.5 1045.3C2097.4 1040.4 2103.4 1034.3 2109.3 1028.8C2115.2 1023.3 2121.1 1018.4 2127 1013.6C2132.9 1008.7 2138.9 1003.9 2144.8 999.6C2150.4 995.5 2155.9 991.9 2161.5 988.2L2161.5 1014.2C2155.9 1017.9 2150.4 1021.5 2144.8 1025.6C2138.9 1029.9 2132.9 1034.7 2127 1039.6C2121.1 1044.4 2115.2 1049.3 2109.3 1054.8C2103.4 1060.3 2097.4 1066.4 2091.5 1071.3C2085.6 1076.1 2079.7 1079.6 2073.8 1082.7C2067.8 1085.7 2061.9 1088.3 2056 1090.3C2049.2 1092.6 2042.5 1094.3 2035.7 1095.4C2027.2 1096.7 2018.8 1097.2 2010.3 1097.4C2001.9 1097.6 1993.4 1097.6 1985 1097.9C1976.5 1098.2 1968 1098.7 1959.6 1099.2C1951.1 1099.7 1942.7 1100.2 1934.2 1100.9C1925.8 1101.7 1917.3 1102.5 1908.8 1103.5C1900.4 1104.5 1891.9 1105.5 1883.5 1106.8C1875 1108 1866.6 1109.4 1858.1 1110.6C1849.7 1111.8 1841.2 1112.7 1832.7 1114.4C1824.3 1116.1 1815.8 1118.6 1807.4 1120.2C1804.9 1120.7 1802.5 1121.1 1800 1121.5C1785.6 1124.3 1771.1 1125.5 1756.7 1128.9C1748.2 1130.9 1739.7 1133.7 1731.3 1136.4C1730.9 1136.5 1730.4 1136.6 1730 1136.8C1722 1138.2 1713.9 1139.4 1705.9 1141.3C1699.6 1142.7 1693.3 1144.5 1687 1146.3C1686.9 1146.3 1686.9 1146.3 1686.8 1146.4Z" fill="#69c834" fill-opacity=".2"/>
<path d="M1686.8 1122.4C1686.9 1122.4 1686.9 1122.3 1687 1122.3C1693.3 1119.3 1699.6 1116.4 1705.9 1113.8C1713.9 1110.4 1722 1107.7 1730 1104.8C1730.4 1104.7 1730.9 1104.6 1731.3 1104.5C1739.7 1102.6 1748.2 1100.5 1756.7 1099.2C1771.1 1097 1785.6 1097.1 1800 1095.5C1802.5 1095.1 1804.9 1094.7 1807.4 1094.2C1815.8 1092.6 1824.3 1090.1 1832.7 1088.4C1841.2 1086.7 1849.7 1085.8 1858.1 1084.6C1866.6 1083.4 1875 1082 1883.5 1080.8C1891.9 1079.5 1900.4 1078.5 1908.8 1077.5C1917.3 1076.5 1925.8 1075.7 1934.2 1074.9C1942.7 1074.2 1951.1 1073.7 1959.6 1073.2C1968 1072.7 1976.5 1072.2 1985 1071.9C1993.4 1071.6 2001.9 1071.6 2010.3 1071.4C2018.8 1071.2 2027.2 1070.7 2035.7 1069.4C2042.5 1068.3 2049.2 1066.6 2056 1064.3C2061.9 1062.3 2067.8 1059.7 2073.8 1056.7C2079.7 1053.6 2085.6 1050.1 2091.5 1045.3C2097.4 1040.4 2103.4 1034.3 2109.3 1028.8C2115.2 1023.3 2121.1 1018.4 2127 1013.6C2132.9 1008.7 2138.9 1003.9 2144.8 999.6C2150.4 995.5 2155.9 991.9 2161.5 988.2M1686.8 1146.4C1686.9 1146.3 1686.9 1146.3 1687 1146.3C1693.3 1144.5 1699.6 1142.7 1705.9 1141.3C1713.9 1139.4 1722 1138.2 1730 1136.8C1730.4 1136.6 1730.9 1136.5 1731.3 1136.4C1739.7 1133.7 1748.2 1130.9 1756.7 1128.9C1771.1 1125.5 1785.6 1124.3 1800 1121.5C1802.5 1121.1 1804.9 1120.7 1807.4 1120.2C1815.8 1118.6 1824.3 1116.1 1832.7 1114.4C1841.2 1112.7 1849.7 1111.8 1858.1 1110.6C1866.6 1109.4 1875 1108 1883.5 1106.8C1891.9 1105.5 1900.4 1104.5 1908.8 1103.5C1917.3 1102.5 1925.8 1101.7 1934.2 1100.9C1942.7 1100.2 1951.1 1099.7 1959.6 1099.2C1968 1098.7 1976.5 1098.2 1985 1097.9C1993.4 1097.6 2001.9 1097.6 2010.3 1097.4C2018.8 1097.2 2027.2 1096.7 2035.7 1095.4C2042.5 1094.3 2049.2 1092.6 2056 1090.3C2061.9 1088.3 2067.8 1085.7 2073.8 1082.7C2079.7 1079.6 2085.6 1076.1 2091.5 1071.3C2097.4 1066.4 2103.4 1060.3 2109.3 1054.8C2115.2 1049.3 2121.1 1044.4 2127 1039.6C2132.9 1034.7 2138.9 1029.9 2144.8 1025.6C2150.4 1021.5 2155.9 1017.9 2161.5 1014.2" class="d" stroke="#79b356"/>
<path d="M1686.8 1134.4C1693.2 1132 1699.5 1129.6 1705.9 1127.5C1714.4 1124.8 1722.8 1122.7 1731.3 1120.4C1739.7 1118.2 1748.2 1115.7 1756.7 1114.1C1773.6 1110.8 1790.5 1110.6 1807.4 1107.2C1815.8 1105.6 1824.3 1103.1 1832.7 1101.4C1841.2 1099.7 1849.7 1098.8 1858.1 1097.6C1866.6 1096.4 1875 1095 1883.5 1093.8C1891.9 1092.5 1900.4 1091.5 1908.8 1090.5C1917.3 1089.5 1925.8 1088.7 1934.2 1087.9C1942.7 1087.2 1951.1 1086.7 1959.6 1086.2C1968 1085.7 1976.5 1085.2 1985 1084.9C1993.4 1084.6 2001.9 1084.6 2010.3 1084.4C2018.8 1084.2 2027.2 1083.7 2035.7 1082.4C2042.5 1081.3 2049.2 1079.6 2056 1077.3C2061.9 1075.3 2067.8 1072.7 2073.8 1069.7C2079.7 1066.6 2085.6 1063.1 2091.5 1058.3C2097.4 1053.4 2103.4 1047.3 2109.3 1041.8C2115.2 1036.3 2121.1 1031.4 2127 1026.6C2132.9 1021.7 2138.9 1016.9 2144.8 1012.6C2150.4 1008.5 2155.9 1004.9 2161.5 1001.2" class="h"/>
<path d="M1686.8 1134.4C1693.2 1132 1699.5 1129.6 1705.9 1127.5C1714.4 1124.8 1722.8 1122.7 1731.3 1120.4C1739.7 1118.2 1748.2 1115.7 1756.7 1114.1C1773.6 1110.8 1790.5 1110.6 1807.4 1107.2C1815.8 1105.6 1824.3 1103.1 1832.7 1101.4C1841.2 1099.7 1849.7 1098.8 1858.1 1097.6C1866.6 1096.4 1875 1095 1883.5 1093.8C1891.9 1092.5 1900.4 1091.5 1908.8 1090.5C1917.3 1089.5 1925.8 1088.7 1934.2 1087.9C1942.7 1087.2 1951.1 1086.7 1959.6 1086.2C1968 1085.7 1976.5 1085.2 1985 1084.9C1993.4 1084.6 2001.9 1084.6 2010.3 1084.4C2018.8 1084.2 2027.2 1083.7 2035.7 1082.4C2042.5 1081.3 2049.2 1079.6 2056 1077.3C2061.9 1075.3 2067.8 1072.7 2073.8 1069.7C2079.7 1066.6 2085.6 1063.1 2091.5 1058.3C2097.4 1053.4 2103.4 1047.3 2109.3 1041.8C2115.2 1036.3 2121.1 1031.4 2127 1026.6C2132.9 1021.7 2138.9 1016.9 2144.8 1012.6C2150.4 1008.5 2155.9 1004.9 2161.5 1001.2" class="l" stroke="#69c834"/>
<path d="M2143.5 661.2h0M2062.5 678.3h0m92 0h0M2056 695.4h0m29.5 0h0M1860 712.5h0m154 0h0m68.5 0h0m60 0h0M1968 729.5h0m46.5 0h0m34.5 0h0m37 0h0m47.5 0h0M1909 746.6h0m82 0h0m29 0h0m35.5 0h0m48 0h0M1876 763.7h0m68 0h0m44 0h0m35.5 0h0m62.5 0h0m55.5 0h0M1903 780.8h0m37.5 0h0m173.5 0h0M1894.5 797.8h0m29 0h0m84 0h0m124 0h0M1892 814.9h0m36 0h0m202 0h0M1843.5 832h0m37 0h0m97.5 0h0M1798 849.1h0m104 0h0m26 0h0M1833.5 866.1h0m73 0h0M1839.5 883.2h0M1807.5 900.3h0m261.5 0h0M1812 917.4h0M1771 934.5h0m51 0h0M1806.5 951.5h0M1763 968.6h0M1764.5 1019.8h0" class="p" stroke="#3bb3cf"/>
<path d="M1988 644.2h0M2066.5 678.3h0m88 0h0M2058.5 695.4h0m33.5 0h0M1945 712.5h0m97 0h0m49 0h0m65.5 0h0M1971.5 729.5h0m52.5 0h0m25 0h0m43 0h0m46 0h0M1935.5 746.6h0m55.5 0h0m35 0h0m31.5 0h0m47 0h0M1882 763.7h0m70 0h0m38.5 0h0m35.5 0h0m64.5 0h0m56 0h0M1906 780.8h0m46.5 0h0m172 0h0M1901 797.8h0m31.5 0h0m102 0h0m101.5 0h0M1898.5 814.9h0m34.5 0h0m209 0h0M1843.5 832h0m47.5 0h0m111 0h0M1825 849.1h0m78.5 0h0m41 0h0M1836 866.1h0m82 0h0M1727 883.2h0m118 0h0M1809 900.3h0M1823 917.4h0M1784 934.5h0m48 0h0M1807 951.5h0M1799 968.6h0M1793 1019.8h0" class="p" stroke="#3bb3cf"/>
<path d="M2034 644.2h0M1910 661.2h0M2076 678.3h0M1968 695.4h0m97.5 0h0m40.5 0h0M1961.5 712.5h0m87 0h0m57.5 0h0M1975 729.5h0m49.5 0h0m30 0h0m38 0h0m50 0h0M1945.5 746.6h0m60 0h0m33 0h0m21 0h0m45.5 0h0M1892 763.7h0m63 0h0m51.5 0h0m24.5 0h0m64.5 0h0m58 0h0M1909.5 780.8h0m70.5 0h0m156.5 0h0M1901.5 797.8h0m34 0h0m112.5 0h0m99 0h0M1901 814.9h0m40.5 0h0m212 0h0M1848 832h0m70 0h0m210 0h0M1825.5 849.1h0m78.5 0h0m114.5 0h0M1836 866.1h0m86 0h0M1768.5 883.2h0m106.5 0h0M1823.5 900.3h0M1917.5 917.4h0M1792 934.5h0m48 0h0M1808.5 951.5h0M1799.5 968.6h0M1823.5 1019.8h0" class="p" stroke="#3bb3cf"/>
<path d="M2098.5 644.2h0M2006 661.2h0M2083.5 678.3h0M1970 695.4h0m99.5 0h0m36.5 0h0M1966.5 712.5h0m89.5 0h0m51.5 0h0M1981.5 729.5h0m44.5 0h0m29 0h0m53 0h0m36.5 0h0M1946.5 746.6h0m60 0h0m36.5 0h0m34.5 0h0m42 0h0M1898.5 763.7h0m61 0h0m48 0h0m30 0h0m63 0h0m55 0h0M1913.5 780.8h0m68.5 0h0m156 0h0M1869.5 797.8h0m33.5 0h0m34 0h0m128.5 0h0m86.5 0h0M1849.5 814.9h0m54 0h0m91.5 0h0M1814.5 832h0m51 0h0m58 0h0M1847 849.1h0m58 0h0M1836.5 866.1h0m86 0h0M1788.5 883.2h0m91.5 0h0M1695.5 900.3h0m128.5 0h0M1794.5 934.5h0m80 0h0M1814 951.5h0M1802.5 968.6h0M1727 985.7h0" class="p" stroke="#3bb3cf"/>
<path d="M2076.5 627.1h0M2047 661.2h0M2100 678.3h0M1989.5 695.4h0m80.5 0h0m55.5 0h0M1981 712.5h0m81 0h0m49 0h0M1984 729.5h0m46.5 0h0m29 0h0m52.5 0h0m33 0h0M1952.5 746.6h0m55.5 0h0m35.5 0h0m38.5 0h0m47.5 0h0M1908.5 763.7h0m55 0h0m51 0h0m28.5 0h0m74.5 0h0m38.5 0h0M1919 780.8h0m96.5 0h0m143.5 0h0M1873.5 797.8h0m32.5 0h0m34.5 0h0m139 0h0m79 0h0M1861 814.9h0m55 0h0m106 0h0M1824.5 832h0m41.5 0h0m58 0h0M1860 849.1h0m47 0h0M1703 866.1h0m147 0h0m74.5 0h0M1794 883.2h0M1773.5 900.3h0m57.5 0h0M1702.5 917.4h0M1808 934.5h0M1848.5 951.5h0M1816 968.6h0M1771 985.7h0" class="p" stroke="#3bb3cf"/>
<path d="M2151.5 627.1h0M2074.5 661.2h0M2106 678.3h0M2005.5 695.4h0m66.5 0h0m68 0h0M1995.5 712.5h0m73 0h0m63 0h0M1984.5 729.5h0m48.5 0h0m32 0h0m54 0h0m33.5 0h0M1961 746.6h0m49 0h0m41 0h0m45 0h0m60.5 0h0M1921 763.7h0m44.5 0h0m54.5 0h0m31 0h0m85.5 0h0m20 0h0M1879.5 780.8h0m48 0h0m99.5 0h0m132 0h0M1880 797.8h0m32.5 0h0m46 0h0m135.5 0h0M1864 814.9h0m57.5 0h0m155.5 0h0M1835 832h0m35.5 0h0m63 0h0M1863.5 849.1h0m48.5 0h0M1773.5 866.1h0m89.5 0h0m65 0h0M1807 883.2h0M1776 900.3h0m76.5 0h0M1743.5 917.4h0M1701.5 934.5h0m108.5 0h0M1695 951.5h0M1780.5 985.7h0" class="p" stroke="#3bb3cf"/>
<path d="M2028.5 592.9h0M2121.5 661.2h0M2116.5 678.3h0M2028 695.4h0m49.5 0h0m74 0h0M2005 712.5h0m76.5 0h0m53 0h0M1889 729.5h0m111 0h0m35.5 0h0m32.5 0h0m62 0h0m23.5 0h0M1984 746.6h0m34 0h0m35 0h0m45.5 0h0M1849 763.7h0m90.5 0h0m40 0h0m41.5 0h0m46.5 0h0m70.5 0h0m20.5 0h0M1898 780.8h0m36 0h0m109.5 0h0M1885.5 797.8h0m29.5 0h0m47 0h0m144 0h0M1867.5 814.9h0m58.5 0h0m161.5 0h0M1836.5 832h0m35.5 0h0m65 0h0M1872 849.1h0m41 0h0M1807 866.1h0m57.5 0h0m69.5 0h0M1812.5 883.2h0M1787 900.3h0m67.5 0h0M1788 917.4h0M1751.5 934.5h0m61.5 0h0M1736 951.5h0M1795 985.7h0" class="p" stroke="#3bb3cf"/>
<path d="M2128 661.2h0M1953 678.3h0m185.5 0h0M2034 695.4h0m49 0h0M2011 712.5h0m71 0h0m58.5 0h0M1913 729.5h0m99.5 0h0m29 0h0m36 0h0m53 0h0m23.5 0h0M1989 746.6h0m30 0h0m34.5 0h0m49 0h0M1871 763.7h0m70.5 0h0m44 0h0m37 0h0m53 0h0m64 0h0m20 0h0M1902 780.8h0m34 0h0m158.5 0h0M1893.5 797.8h0m21.5 0h0m82.5 0h0m112.5 0h0M1873 814.9h0m54.5 0h0m188 0h0M1836.5 832h0m37 0h0m66 0h0M1766 849.1h0m113.5 0h0m36 0h0M1828.5 866.1h0m75.5 0h0M1828 883.2h0M1794 900.3h0m82 0h0M1808 917.4h0M1755.5 934.5h0m66.5 0h0M1790 951.5h0M1802.5 985.7h0" class="p" stroke="#3bb3cf"/>
<path d="M1686.8 926.1C1686.9 926 1686.9 925.9 1687 925.9C1691.3 920 1695.7 914.2 1700 908.6C1701 907.7 1702 906.8 1703 905.9C1707 902.4 1711 899.1 1715 895.9C1716.1 895.6 1717.1 895.3 1718.2 895C1724.1 893.3 1730 892 1735.9 891.1C1741.9 890.2 1747.8 889.8 1753.7 889.7C1755.8 889.7 1757.9 889.8 1760 889.9C1763.8 890.5 1767.6 891.2 1771.5 892C1775 892.8 1778.5 893.6 1782 893.7C1787.1 893.8 1792.1 892.2 1797.2 889.8C1801.5 887.8 1805.7 885.3 1810 881.7C1810.8 881 1811.6 880.3 1812.4 879.5C1817.5 874.6 1822.6 868.2 1827.7 861.3C1832.7 854.4 1837.8 847.2 1842.9 840.6C1848 834.1 1853 828.3 1858.1 822.5C1858.7 821.7 1859.4 821 1860 820.3C1863.6 815.6 1867.2 811.1 1870.8 807.5C1875 803.3 1879.3 800.4 1883.5 798.6C1887.7 796.8 1891.9 796.2 1896.2 796.8C1900.4 797.5 1904.6 799.5 1908.8 801.2C1913.1 802.8 1917.3 804 1921.5 803.7C1925.8 803.4 1930 801.7 1934.2 796.1C1937.6 791.6 1941 784.6 1944.4 777.1C1947.7 769.5 1951.1 761.5 1954.5 754.2C1957.9 746.9 1961.3 740.4 1964.7 735.2C1968 730 1971.4 726.1 1974.8 723.8C1978.2 721.5 1981.6 720.8 1985 720.7C1990 720.7 1995.1 722.2 2000.2 723.8C2005.3 725.3 2010.3 726.9 2015.4 726.8C2020.5 726.8 2025.5 725.1 2030.6 722.5C2035.7 719.9 2040.8 716.3 2045.8 713.6C2050.9 711 2056 709.3 2061.1 708C2067.8 706.4 2074.6 705.5 2081.4 704.7C2088.1 704 2094.9 703.3 2101.7 703.5C2106.7 703.6 2111.8 704.3 2116.9 706C2119.6 706.9 2122.3 708.1 2125 709.5C2127.4 710 2129.7 710.7 2132.1 711.5C2136.4 712.9 2140.7 714.6 2145 716.2C2145.8 716.4 2146.5 716.5 2147.3 716.7C2152 717.6 2156.8 718.2 2161.5 718.9L2161.5 782.4C2156.8 777.3 2152 772.2 2147.3 766.9C2146.5 766 2145.8 765.1 2145 764.2C2140.7 760 2136.4 755.7 2132.1 751.8C2129.7 749.6 2127.4 747.5 2125 745.5C2122.3 744.1 2119.6 742.9 2116.9 742C2111.8 740.3 2106.7 739.6 2101.7 739.5C2094.9 739.3 2088.1 740 2081.4 740.7C2074.6 741.5 2067.8 742.4 2061.1 744C2056 745.3 2050.9 747 2045.8 749.6C2040.8 752.3 2035.7 755.9 2030.6 758.5C2025.5 761.1 2020.5 762.8 2015.4 762.8C2010.3 762.9 2005.3 761.3 2000.2 759.8C1995.1 758.2 1990 756.7 1985 756.7C1981.6 756.8 1978.2 757.5 1974.8 759.8C1971.4 762.1 1968 766 1964.7 771.2C1961.3 776.4 1957.9 782.9 1954.5 790.2C1951.1 797.5 1947.7 805.5 1944.4 813.1C1941 820.6 1937.6 827.6 1934.2 832.1C1930 837.7 1925.8 839.4 1921.5 839.7C1917.3 840 1913.1 838.8 1908.8 837.2C1904.6 835.5 1900.4 833.5 1896.2 832.8C1891.9 832.2 1887.7 832.8 1883.5 834.6C1879.3 836.4 1875 839.3 1870.8 843.5C1867.2 847.1 1863.6 851.6 1860 856.3C1859.4 857.2 1858.7 858.1 1858.1 859C1853 866.3 1848 873.5 1842.9 881.4C1837.8 889.4 1832.7 898.1 1827.7 906.4C1822.6 914.7 1817.5 922.5 1812.4 928.8C1811.6 929.8 1810.8 930.8 1810 931.7C1805.7 936.6 1801.5 940.5 1797.2 943.9C1792.1 947.9 1787.1 951.1 1782 952.6C1778.5 953.7 1775 954 1771.5 954.3C1767.6 954.7 1763.8 955.2 1760 955.9C1757.9 956.1 1755.8 956.3 1753.7 956.6C1747.8 957.4 1741.9 958.6 1735.9 960.3C1730 962 1724.1 964.1 1718.2 966.6C1717.1 967 1716.1 967.5 1715 967.9C1711 967.8 1707 967.9 1703 968.3C1702 968.4 1701 968.5 1700 968.6C1695.7 967.5 1691.3 966.7 1687 965.9C1686.9 965.9 1686.9 965.9 1686.8 966Z" fill="#3bb3cf" fill-opacity=".16"/>
<path d="M1686.8 926.1C1686.9 926 1686.9 925.9 1687 925.9C1691.3 920 1695.7 914.2 1700 908.6C1701 907.7 1702 906.8 1703 905.9C1707 902.4 1711 899.1 1715 895.9C1716.1 895.6 1717.1 895.3 1718.2 895C1724.1 893.3 1730 892 1735.9 891.1C1741.9 890.2 1747.8 889.8 1753.7 889.7C1755.8 889.7 1757.9 889.8 1760 889.9C1763.8 890.5 1767.6 891.2 1771.5 892C1775 892.8 1778.5 893.6 1782 893.7C1787.1 893.8 1792.1 892.2 1797.2 889.8C1801.5 887.8 1805.7 885.3 1810 881.7C1810.8 881 1811.6 880.3 1812.4 879.5C1817.5 874.6 1822.6 868.2 1827.7 861.3C1832.7 854.4 1837.8 847.2 1842.9 840.6C1848 834.1 1853 828.3 1858.1 822.5C1858.7 821.7 1859.4 821 1860 820.3C1863.6 815.6 1867.2 811.1 1870.8 807.5C1875 803.3 1879.3 800.4 1883.5 798.6C1887.7 796.8 1891.9 796.2 1896.2 796.8C1900.4 797.5 1904.6 799.5 1908.8 801.2C1913.1 802.8 1917.3 804 1921.5 803.7C1925.8 803.4 1930 801.7 1934.2 796.1C1937.6 791.6 1941 784.6 1944.4 777.1C1947.7 769.5 1951.1 761.5 1954.5 754.2C1957.9 746.9 1961.3 740.4 1964.7 735.2C1968 730 1971.4 726.1 1974.8 723.8C1978.2 721.5 1981.6 720.8 1985 720.7C1990 720.7 1995.1 722.2 2000.2 723.8C2005.3 725.3 2010.3 726.9 2015.4 726.8C2020.5 726.8 2025.5 725.1 2030.6 722.5C2035.7 719.9 2040.8 716.3 2045.8 713.6C2050.9 711 2056 709.3 2061.1 708C2067.8 706.4 2074.6 705.5 2081.4 704.7C2088.1 704 2094.9 703.3 2101.7 703.5C2106.7 703.6 2111.8 704.3 2116.9 706C2119.6 706.9 2122.3 708.1 2125 709.5C2127.4 710 2129.7 710.7 2132.1 711.5C2136.4 712.9 2140.7 714.6 2145 716.2C2145.8 716.4 2146.5 716.5 2147.3 716.7C2152 717.6 2156.8 718.2 2161.5 718.9M1686.8 966C1686.9 965.9 1686.9 965.9 1687 965.9C1691.3 966.7 1695.7 967.5 1700 968.6C1701 968.5 1702 968.4 1703 968.3C1707 967.9 1711 967.8 1715 967.9C1716.1 967.5 1717.1 967 1718.2 966.6C1724.1 964.1 1730 962 1735.9 960.3C1741.9 958.6 1747.8 957.4 1753.7 956.6C1755.8 956.3 1757.9 956.1 1760 955.9C1763.8 955.2 1767.6 954.7 1771.5 954.3C1775 954 1778.5 953.7 1782 952.6C1787.1 951.1 1792.1 947.9 1797.2 943.9C1801.5 940.5 1805.7 936.6 1810 931.7C1810.8 930.8 1811.6 929.8 1812.4 928.8C1817.5 922.5 1822.6 914.7 1827.7 906.4C1832.7 898.1 1837.8 889.4 1842.9 881.4C1848 873.5 1853 866.3 1858.1 859C1858.7 858.1 1859.4 857.2 1860 856.3C1863.6 851.6 1867.2 847.1 1870.8 843.5C1875 839.3 1879.3 836.4 1883.5 834.6C1887.7 832.8 1891.9 832.2 1896.2 832.8C1900.4 833.5 1904.6 835.5 1908.8 837.2C1913.1 838.8 1917.3 840 1921.5 839.7C1925.8 839.4 1930 837.7 1934.2 832.1C1937.6 827.6 1941 820.6 1944.4 813.1C1947.7 805.5 1951.1 797.5 1954.5 790.2C1957.9 782.9 1961.3 776.4 1964.7 771.2C1968 766 1971.4 762.1 1974.8 759.8C1978.2 757.5 1981.6 756.8 1985 756.7C1990 756.7 1995.1 758.2 2000.2 759.8C2005.3 761.3 2010.3 762.9 2015.4 762.8C2020.5 762.8 2025.5 761.1 2030.6 758.5C2035.7 755.9 2040.8 752.3 2045.8 749.6C2050.9 747 2056 745.3 2061.1 744C2067.8 742.4 2074.6 741.5 2081.4 740.7C2088.1 740 2094.9 739.3 2101.7 739.5C2106.7 739.6 2111.8 740.3 2116.9 742C2119.6 742.9 2122.3 744.1 2125 745.5C2127.4 747.5 2129.7 749.6 2132.1 751.8C2136.4 755.7 2140.7 760 2145 764.2C2145.8 765.1 2146.5 766 2147.3 766.9C2152 772.2 2156.8 777.3 2161.5 782.4" class="d" stroke="#5aa3b5"/>
<path d="M1686.8 946C1692.2 942.9 1697.6 939.8 1703 937.1C1708 934.6 1713.1 932.6 1718.2 930.8C1724.1 928.7 1730 927 1735.9 925.7C1741.9 924.4 1747.8 923.6 1753.7 923.2C1759.6 922.8 1765.5 922.8 1771.5 923.2C1775 923.4 1778.5 923.7 1782 923.2C1787.1 922.4 1792.1 920 1797.2 916.8C1802.3 913.6 1807.4 909.7 1812.4 904.1C1817.5 898.6 1822.6 891.4 1827.7 883.8C1832.7 876.3 1837.8 868.3 1842.9 861C1848 853.8 1853 847.3 1858.1 840.7C1862.3 835.2 1866.6 829.7 1870.8 825.5C1875 821.3 1879.3 818.4 1883.5 816.6C1887.7 814.8 1891.9 814.2 1896.2 814.8C1900.4 815.5 1904.6 817.5 1908.8 819.2C1913.1 820.8 1917.3 822 1921.5 821.7C1925.8 821.4 1930 819.7 1934.2 814.1C1937.6 809.6 1941 802.6 1944.4 795.1C1947.7 787.5 1951.1 779.5 1954.5 772.2C1957.9 764.9 1961.3 758.4 1964.7 753.2C1968 748 1971.4 744.1 1974.8 741.8C1978.2 739.5 1981.6 738.8 1985 738.7C1990 738.7 1995.1 740.2 2000.2 741.8C2005.3 743.3 2010.3 744.9 2015.4 744.8C2020.5 744.8 2025.5 743.1 2030.6 740.5C2035.7 737.9 2040.8 734.3 2045.8 731.6C2050.9 729 2056 727.3 2061.1 726C2067.8 724.4 2074.6 723.5 2081.4 722.7C2088.1 722 2094.9 721.3 2101.7 721.5C2106.7 721.6 2111.8 722.3 2116.9 724C2122 725.7 2127 728.5 2132.1 731.6C2137.2 734.8 2142.3 738.4 2147.3 741.8C2152 744.9 2156.8 747.8 2161.5 750.7" class="h"/>
<path d="M1686.8 946C1692.2 942.9 1697.6 939.8 1703 937.1C1708 934.6 1713.1 932.6 1718.2 930.8C1724.1 928.7 1730 927 1735.9 925.7C1741.9 924.4 1747.8 923.6 1753.7 923.2C1759.6 922.8 1765.5 922.8 1771.5 923.2C1775 923.4 1778.5 923.7 1782 923.2C1787.1 922.4 1792.1 920 1797.2 916.8C1802.3 913.6 1807.4 909.7 1812.4 904.1C1817.5 898.6 1822.6 891.4 1827.7 883.8C1832.7 876.3 1837.8 868.3 1842.9 861C1848 853.8 1853 847.3 1858.1 840.7C1862.3 835.2 1866.6 829.7 1870.8 825.5C1875 821.3 1879.3 818.4 1883.5 816.6C1887.7 814.8 1891.9 814.2 1896.2 814.8C1900.4 815.5 1904.6 817.5 1908.8 819.2C1913.1 820.8 1917.3 822 1921.5 821.7C1925.8 821.4 1930 819.7 1934.2 814.1C1937.6 809.6 1941 802.6 1944.4 795.1C1947.7 787.5 1951.1 779.5 1954.5 772.2C1957.9 764.9 1961.3 758.4 1964.7 753.2C1968 748 1971.4 744.1 1974.8 741.8C1978.2 739.5 1981.6 738.8 1985 738.7C1990 738.7 1995.1 740.2 2000.2 741.8C2005.3 743.3 2010.3 744.9 2015.4 744.8C2020.5 744.8 2025.5 743.1 2030.6 740.5C2035.7 737.9 2040.8 734.3 2045.8 731.6C2050.9 729 2056 727.3 2061.1 726C2067.8 724.4 2074.6 723.5 2081.4 722.7C2088.1 722 2094.9 721.3 2101.7 721.5C2106.7 721.6 2111.8 722.3 2116.9 724C2122 725.7 2127 728.5 2132.1 731.6C2137.2 734.8 2142.3 738.4 2147.3 741.8C2152 744.9 2156.8 747.8 2161.5 750.7" class="l" stroke="#3bb3cf"/>
<path d="M1850 746.6h0M1828 763.7h0M1813.5 780.8h0M1810 797.8h0m18.5 0h0m84.5 0h0M1727 814.9h0m49 0h0m43 0h0m20.5 0h0m78.5 0h0M1799 832h0m50.5 0h0m42.5 0h0m17 0h0m26.5 0h0M1807.5 849.1h0m56 0h0m39.5 0h0m43.5 0h0M1854.5 866.1h0m44 0h0m25 0h0m136 0h0M1879.5 883.2h0m32.5 0h0m47 0h0m78.5 0h0M1873 900.3h0m51.5 0h0m63.5 0h0m67 0h0m34 0h0M1981.5 917.4h0m29.5 0h0m31 0h0m37.5 0h0M1880 934.5h0m150.5 0h0m28 0h0m37 0h0M1965.5 951.5h0m42 0h0m15.5 0h0m32.5 0h0m29 0h0M2005.5 968.6h0m69 0h0M2082 985.7h0M2074.5 1002.8h0M1997 1019.8h0" class="p" stroke="#3b4ca8"/>
<path d="M1864 746.6h0M1831 763.7h0M1814 780.8h0M1812 797.8h0m24 0h0m86 0h0M1743.5 814.9h0m36 0h0m40.5 0h0m20 0h0m94 0h0M1802.5 832h0m60.5 0h0m29 0h0m23 0h0m21 0h0M1825.5 849.1h0m39 0h0m39.5 0h0m51 0h0M1865.5 866.1h0m36 0h0m22.5 0h0m143.5 0h0M1882 883.2h0m31 0h0m48 0h0m82.5 0h0M1875 900.3h0m66.5 0h0m49.5 0h0m71 0h0m36.5 0h0M1987.5 917.4h0m27 0h0m28.5 0h0m39 0h0M1962 934.5h0m76 0h0m21.5 0h0m37 0h0M1968 951.5h0m40 0h0m16 0h0m33.5 0h0m28 0h0M1933.5 968.6h0m73 0h0m69 0h0M2076 1002.8h0M2014.5 1019.8h0" class="p" stroke="#3b4ca8"/>
<path d="M1794 729.5h0M1836 763.7h0M1771 780.8h0m51 0h0M1813 797.8h0m23.5 0h0M1755.5 814.9h0m25 0h0m41.5 0h0m21.5 0h0m102.5 0h0M1809.5 832h0m58 0h0m30.5 0h0m22.5 0h0m16.5 0h0M1833.5 849.1h0m36 0h0m35.5 0h0m53 0h0M1872 866.1h0m34 0h0m20 0h0m153 0h0M1695 883.2h0m194 0h0m24.5 0h0m50 0h0m83.5 0h0M1893.5 900.3h0m50.5 0h0m62 0h0m60.5 0h0M1702.5 917.4h0m287 0h0m31.5 0h0m28 0h0m34.5 0h0M1970.5 934.5h0m68 0h0m26.5 0h0M1975 951.5h0m37.5 0h0m13.5 0h0m36.5 0h0m28 0h0M1966.5 968.6h0m41.5 0h0m74.5 0h0M1985.5 985.7h0M1926.5 1002.8h0" class="p" stroke="#3b4ca8"/>
<path d="M1807 729.5h0M1860 763.7h0M1788 780.8h0m133.5 0h0M1787 797.8h0m29 0h0m20.5 0h0M1763 814.9h0m25.5 0h0m35.5 0h0m21 0h0M1814.5 832h0m54 0h0m32.5 0h0m20 0h0m19.5 0h0M1703 849.1h0m144 0h0m27.5 0h0m39 0h0m120.5 0h0M1872 866.1h0m34.5 0h0m21.5 0h0M1701.5 883.2h0m189.5 0h0m41.5 0h0m35.5 0h0m125.5 0h0M1894.5 900.3h0m58 0h0m54 0h0m61.5 0h0M1880.5 917.4h0m110.5 0h0m32.5 0h0m31 0h0m31.5 0h0M1975 934.5h0m66.5 0h0m24 0h0M1976.5 951.5h0m39 0h0m14 0h0m40 0h0m21.5 0h0M1970 968.6h0m61 0h0m61.5 0h0M1989 985.7h0M1978 1002.8h0" class="p" stroke="#3b4ca8"/>
<path d="M1773.5 763.7h0m141.5 0h0M1795 780.8h0M1794 797.8h0m24 0h0m25.5 0h0M1766 814.9h0m23.5 0h0m37.5 0h0m20 0h0M1727 832h0m96.5 0h0m45.5 0h0m34.5 0h0m19 0h0m19 0h0M1736 849.1h0m112.5 0h0m27 0h0m52 0h0M1873.5 866.1h0m33.5 0h0m26 0h0M1866 883.2h0m36 0h0m32 0h0m37.5 0h0m124.5 0h0M1901 900.3h0m58.5 0h0m59 0h0m58.5 0h0M1952.5 917.4h0m49.5 0h0m24 0h0m30 0h0m31.5 0h0M1984 934.5h0m65 0h0m20 0h0M1984 951.5h0m36 0h0m14.5 0h0m35.5 0h0m22 0h0M1981 968.6h0m70 0h0m43.5 0h0M2024.5 985.7h0M1982 1002.8h0" class="p" stroke="#3b4ca8"/>
<path d="M1792 763.7h0m136 0h0M1800 780.8h0M1794.5 797.8h0m28.5 0h0m25.5 0h0M1768.5 814.9h0m38.5 0h0m25 0h0m77.5 0h0M1729.5 832h0m95.5 0h0m46 0h0m32.5 0h0m24.5 0h0m16.5 0h0M1764.5 849.1h0m88 0h0m23.5 0h0m51.5 0h0M1779 866.1h0m101 0h0m37.5 0h0m27.5 0h0M1873.5 883.2h0m29.5 0h0m34 0h0m68.5 0h0M1689.5 900.3h0m218.5 0h0m53.5 0h0m66.5 0h0m49.5 0h0M1962 917.4h0m43 0h0m21 0h0m42.5 0h0M1997.5 934.5h0m53.5 0h0m26.5 0h0M1990.5 951.5h0m29.5 0h0m23 0h0m34.5 0h0m16.5 0h0M1982 968.6h0m70 0h0m47.5 0h0M2043 985.7h0M1988 1002.8h0" class="p" stroke="#3b4ca8"/>
<path d="M1808 763.7h0m150.5 0h0M1802.5 780.8h0M1798 797.8h0m25.5 0h0m38 0h0M1771 814.9h0m38 0h0m24.5 0h0m79 0h0M1751.5 832h0m83.5 0h0m44.5 0h0m24.5 0h0m25 0h0m16.5 0h0M1793 849.1h0m67 0h0m38.5 0h0m37 0h0M1784 866.1h0m107 0h0m27 0h0m35 0h0M1876 883.2h0m32.5 0h0m31 0h0m74.5 0h0M1849 900.3h0m66.5 0h0m50 0h0m63 0h0m49.5 0h0M1979.5 917.4h0m30.5 0h0m17 0h0m45 0h0M2018 934.5h0m35.5 0h0m28 0h0M1995 951.5h0m27 0h0m21.5 0h0m35 0h0m20 0h0M1995.5 968.6h0m57.5 0h0m47 0h0M2065.5 985.7h0M2035.5 1002.8h0" class="p" stroke="#3b4ca8"/>
<path d="M1806.5 746.6h0M1808.5 763.7h0M1808 780.8h0M1799.5 797.8h0m25 0h0m66.5 0h0M1773.5 814.9h0m39 0h0m24 0h0m79.5 0h0M1790 832h0m58 0h0m37.5 0h0m20.5 0h0m28 0h0m18 0h0M1807 849.1h0m54 0h0m41 0h0m37.5 0h0M1816 866.1h0m82 0h0m25.5 0h0m61 0h0M1878 883.2h0m32 0h0m30.5 0h0m92.5 0h0M1870.5 900.3h0m48.5 0h0m49 0h0m75 0h0m43 0h0M1980 917.4h0m30 0h0m24 0h0m38.5 0h0M1695.5 934.5h0m323.5 0h0m37 0h0m36 0h0M1906 951.5h0m101.5 0h0m15 0h0m25.5 0h0m35 0h0M2000 968.6h0m72.5 0h0M2076.5 985.7h0M2048.5 1002.8h0" class="p" stroke="#3b4ca8"/>
<path d="M1686.8 858.9C1686.9 858.8 1686.9 858.7 1687 858.5C1691.3 845.2 1695.7 831.9 1700 819.1C1700.1 818.8 1700.3 818.5 1700.4 818.2C1704.3 809.6 1708.1 801.5 1712 794.3C1713.2 793.3 1714.4 792.4 1715.6 791.6C1721.6 787.7 1727.5 786.3 1733.4 785.3C1733.9 785.2 1734.5 785.1 1735 785C1740.4 784.8 1745.8 784.7 1751.2 783.4C1755.8 782.3 1760.4 780.3 1765 777.8C1765.5 777.6 1765.9 777.4 1766.4 777.1C1771.5 774.5 1776.5 771.4 1781.6 768.8C1785.8 766.7 1790.1 764.9 1794.3 764.7C1796.2 764.5 1798.1 764.7 1800 765.1C1801.5 765 1803 765.1 1804.4 765.3C1808.7 765.8 1812.9 767.6 1817.1 770.3C1822.2 773.6 1827.3 778.3 1832.3 783.9C1837.4 789.6 1842.5 796.3 1847.6 802.6C1848.4 803.6 1849.2 804.6 1850 805.6C1854.3 810.6 1858.5 815.2 1862.8 819.3C1867.9 824.2 1872.9 828.4 1878 832.1C1882.2 835.2 1886.5 838.1 1890.7 839.8C1894.1 841.2 1897.5 841.8 1900.8 841.1C1905.1 840.3 1909.3 837.6 1913.5 834.9C1917.8 832.2 1922 829.5 1926.2 828.6C1929.6 827.9 1933 828.4 1936.4 831.2C1939.7 834.1 1943.1 839.3 1946.5 846.5C1949.9 853.8 1953.3 863 1956.7 871.9C1960 880.9 1963.4 889.4 1966.8 896.1C1970.2 902.8 1973.6 907.6 1977 910.1C1980.3 912.7 1983.7 913.1 1987.1 912.7C1992.2 912.2 1997.2 910.1 2002.3 909C2007.4 908 2012.5 908 2017.5 908.6C2024.3 909.4 2031.1 911.2 2037.8 911.8C2044.6 912.4 2051.4 911.9 2058.1 913.2C2064.9 914.5 2071.7 917.6 2078.4 919.7C2081.5 920.6 2084.7 921.4 2087.8 921.9C2091.8 922.5 2095.9 922.6 2100 922.5L2100 967.3C2095.9 967.5 2091.8 967.4 2087.8 966.8C2084.7 966.4 2081.5 965.7 2078.4 964.7C2071.7 962.7 2064.9 959.7 2058.1 958.5C2051.4 957.3 2044.6 957.9 2037.8 957.4C2031.1 956.8 2024.3 955.2 2017.5 954.5C2012.5 953.9 2007.4 954 2002.3 955.1C1997.2 956.2 1992.2 958.4 1987.1 959C1983.7 959.4 1980.3 959 1977 956.5C1973.6 954 1970.2 949.2 1966.8 942.6C1963.4 936 1960 927.5 1956.7 918.6C1953.3 909.7 1949.9 900.5 1946.5 893.3C1943.1 886.1 1939.7 880.9 1936.4 878.1C1933 875.3 1929.6 874.9 1926.2 875.6C1922 876.6 1917.8 879.3 1913.5 882.1C1909.3 884.8 1905.1 887.6 1900.8 888.5C1897.5 889.2 1894.1 888.6 1890.7 887.3C1886.5 885.6 1882.2 882.8 1878 879.8C1872.9 876.1 1867.9 872 1862.8 867.2C1858.5 863.1 1854.3 858.5 1850 853.6C1849.2 852.7 1848.4 851.8 1847.6 850.9C1842.5 845.2 1837.4 839.1 1832.3 834.1C1827.3 829 1822.2 825 1817.1 822.3C1812.9 820.1 1808.7 818.8 1804.4 818.7C1803 818.7 1801.5 818.9 1800 819.1C1798.1 820.1 1796.2 821.4 1794.3 822.9C1790.1 826.3 1785.8 831.2 1781.6 836.5C1776.5 842.8 1771.5 849.7 1766.4 856.1C1765.9 856.7 1765.5 857.3 1765 857.8C1760.4 863.4 1755.8 868.5 1751.2 872.6C1745.8 877.5 1740.4 881.2 1735 885C1734.5 885.3 1733.9 885.7 1733.4 886C1727.5 889.6 1721.6 893.5 1715.6 900C1714.4 901.3 1713.2 902.8 1712 904.3C1708.1 905 1704.3 906.7 1700.4 908.9C1700.3 909 1700.1 909.1 1700 909.1C1695.7 908.6 1691.3 908.5 1687 908.5C1686.9 908.6 1686.9 908.7 1686.8 908.8Z" fill="#3b4ca8" fill-opacity=".2"/>
<path d="M1686.8 858.9C1686.9 858.8 1686.9 858.7 1687 858.5C1691.3 845.2 1695.7 831.9 1700 819.1C1700.1 818.8 1700.3 818.5 1700.4 818.2C1704.3 809.6 1708.1 801.5 1712 794.3C1713.2 793.3 1714.4 792.4 1715.6 791.6C1721.6 787.7 1727.5 786.3 1733.4 785.3C1733.9 785.2 1734.5 785.1 1735 785C1740.4 784.8 1745.8 784.7 1751.2 783.4C1755.8 782.3 1760.4 780.3 1765 777.8C1765.5 777.6 1765.9 777.4 1766.4 777.1C1771.5 774.5 1776.5 771.4 1781.6 768.8C1785.8 766.7 1790.1 764.9 1794.3 764.7C1796.2 764.5 1798.1 764.7 1800 765.1C1801.5 765 1803 765.1 1804.4 765.3C1808.7 765.8 1812.9 767.6 1817.1 770.3C1822.2 773.6 1827.3 778.3 1832.3 783.9C1837.4 789.6 1842.5 796.3 1847.6 802.6C1848.4 803.6 1849.2 804.6 1850 805.6C1854.3 810.6 1858.5 815.2 1862.8 819.3C1867.9 824.2 1872.9 828.4 1878 832.1C1882.2 835.2 1886.5 838.1 1890.7 839.8C1894.1 841.2 1897.5 841.8 1900.8 841.1C1905.1 840.3 1909.3 837.6 1913.5 834.9C1917.8 832.2 1922 829.5 1926.2 828.6C1929.6 827.9 1933 828.4 1936.4 831.2C1939.7 834.1 1943.1 839.3 1946.5 846.5C1949.9 853.8 1953.3 863 1956.7 871.9C1960 880.9 1963.4 889.4 1966.8 896.1C1970.2 902.8 1973.6 907.6 1977 910.1C1980.3 912.7 1983.7 913.1 1987.1 912.7C1992.2 912.2 1997.2 910.1 2002.3 909C2007.4 908 2012.5 908 2017.5 908.6C2024.3 909.4 2031.1 911.2 2037.8 911.8C2044.6 912.4 2051.4 911.9 2058.1 913.2C2064.9 914.5 2071.7 917.6 2078.4 919.7C2081.5 920.6 2084.7 921.4 2087.8 921.9C2091.8 922.5 2095.9 922.6 2100 922.5M1686.8 908.8C1686.9 908.7 1686.9 908.6 1687 908.5C1691.3 908.5 1695.7 908.6 1700 909.1C1700.1 909.1 1700.3 909 1700.4 908.9C1704.3 906.7 1708.1 905 1712 904.3C1713.2 902.8 1714.4 901.3 1715.6 900C1721.6 893.5 1727.5 889.6 1733.4 886C1733.9 885.7 1734.5 885.3 1735 885C1740.4 881.2 1745.8 877.5 1751.2 872.6C1755.8 868.5 1760.4 863.4 1765 857.8C1765.5 857.3 1765.9 856.7 1766.4 856.1C1771.5 849.7 1776.5 842.8 1781.6 836.5C1785.8 831.2 1790.1 826.3 1794.3 822.9C1796.2 821.4 1798.1 820.1 1800 819.1C1801.5 818.9 1803 818.7 1804.4 818.7C1808.7 818.8 1812.9 820.1 1817.1 822.3C1822.2 825 1827.3 829 1832.3 834.1C1837.4 839.1 1842.5 845.2 1847.6 850.9C1848.4 851.8 1849.2 852.7 1850 853.6C1854.3 858.5 1858.5 863.1 1862.8 867.2C1867.9 872 1872.9 876.1 1878 879.8C1882.2 882.8 1886.5 885.6 1890.7 887.3C1894.1 888.6 1897.5 889.2 1900.8 888.5C1905.1 887.6 1909.3 884.8 1913.5 882.1C1917.8 879.3 1922 876.6 1926.2 875.6C1929.6 874.9 1933 875.3 1936.4 878.1C1939.7 880.9 1943.1 886.1 1946.5 893.3C1949.9 900.5 1953.3 909.7 1956.7 918.6C1960 927.5 1963.4 936 1966.8 942.6C1970.2 949.2 1973.6 954 1977 956.5C1980.3 959 1983.7 959.4 1987.1 959C1992.2 958.4 1997.2 956.2 2002.3 955.1C2007.4 954 2012.5 953.9 2017.5 954.5C2024.3 955.2 2031.1 956.8 2037.8 957.4C2044.6 957.9 2051.4 957.3 2058.1 958.5C2064.9 959.7 2071.7 962.7 2078.4 964.7C2081.5 965.7 2084.7 966.4 2087.8 966.8C2091.8 967.4 2095.9 967.5 2100 967.3" class="d" stroke="#46548f"/>
<path d="M1686.8 883.8C1691.3 876.9 1695.9 869.9 1700.4 863.5C1705.5 856.5 1710.6 850.2 1715.6 845.8C1721.6 840.6 1727.5 837.9 1733.4 835.6C1739.3 833.3 1745.2 831.4 1751.2 828C1756.2 825.1 1761.3 821.1 1766.4 816.6C1771.5 812.1 1776.5 807.1 1781.6 802.7C1785.8 799 1790.1 795.6 1794.3 793.8C1797.7 792.3 1801.1 791.8 1804.4 792C1808.7 792.3 1812.9 793.8 1817.1 796.3C1822.2 799.3 1827.3 803.6 1832.3 809C1837.4 814.4 1842.5 820.8 1847.6 826.8C1852.6 832.8 1857.7 838.4 1862.8 843.3C1867.9 848.1 1872.9 852.2 1878 855.9C1882.2 859 1886.5 861.9 1890.7 863.5C1894.1 864.9 1897.5 865.5 1900.8 864.8C1905.1 864 1909.3 861.2 1913.5 858.5C1917.8 855.7 1922 853 1926.2 852.1C1929.6 851.4 1933 851.9 1936.4 854.7C1939.7 857.5 1943.1 862.7 1946.5 869.9C1949.9 877.1 1953.3 886.4 1956.7 895.3C1960 904.2 1963.4 912.7 1966.8 919.4C1970.2 926 1973.6 930.8 1977 933.3C1980.3 935.9 1983.7 936.2 1987.1 935.9C1992.2 935.3 1997.2 933.1 2002.3 932C2007.4 931 2012.5 931 2017.5 931.5C2024.3 932.3 2031.1 934 2037.8 934.6C2044.6 935.2 2051.4 934.6 2058.1 935.9C2064.9 937.1 2071.7 940.1 2078.4 942.2C2081.5 943.1 2084.7 943.9 2087.8 944.3C2091.8 944.9 2095.9 945 2100 944.9" class="h"/>
<path d="M1686.8 883.8C1691.3 876.9 1695.9 869.9 1700.4 863.5C1705.5 856.5 1710.6 850.2 1715.6 845.8C1721.6 840.6 1727.5 837.9 1733.4 835.6C1739.3 833.3 1745.2 831.4 1751.2 828C1756.2 825.1 1761.3 821.1 1766.4 816.6C1771.5 812.1 1776.5 807.1 1781.6 802.7C1785.8 799 1790.1 795.6 1794.3 793.8C1797.7 792.3 1801.1 791.8 1804.4 792C1808.7 792.3 1812.9 793.8 1817.1 796.3C1822.2 799.3 1827.3 803.6 1832.3 809C1837.4 814.4 1842.5 820.8 1847.6 826.8C1852.6 832.8 1857.7 838.4 1862.8 843.3C1867.9 848.1 1872.9 852.2 1878 855.9C1882.2 859 1886.5 861.9 1890.7 863.5C1894.1 864.9 1897.5 865.5 1900.8 864.8C1905.1 864 1909.3 861.2 1913.5 858.5C1917.8 855.7 1922 853 1926.2 852.1C1929.6 851.4 1933 851.9 1936.4 854.7C1939.7 857.5 1943.1 862.7 1946.5 869.9C1949.9 877.1 1953.3 886.4 1956.7 895.3C1960 904.2 1963.4 912.7 1966.8 919.4C1970.2 926 1973.6 930.8 1977 933.3C1980.3 935.9 1983.7 936.2 1987.1 935.9C1992.2 935.3 1997.2 933.1 2002.3 932C2007.4 931 2012.5 931 2017.5 931.5C2024.3 932.3 2031.1 934 2037.8 934.6C2044.6 935.2 2051.4 934.6 2058.1 935.9C2064.9 937.1 2071.7 940.1 2078.4 942.2C2081.5 943.1 2084.7 943.9 2087.8 944.3C2091.8 944.9 2095.9 945 2100 944.9" class="l" stroke="#3b4ca8"/>
</g>
<path d="M1680.4 133V1241.8" stroke="#fff" stroke-width="11.6"/>
<circle cx="1679.8" cy="666.2" r="14.3" fill="#fff"/>
<circle cx="1679.8" cy="837.4" r="14.3" fill="#fff"/>
<circle cx="1679.8" cy="997.8" r="14.3" fill="#fff"/>
<circle cx="1679.8" cy="1033.3" r="14.3" fill="#fff"/>
<circle cx="1679.8" cy="1126.8" r="14.3" fill="#fff"/>
<path d="M1679.75 132.5V1242.8" stroke="#000" stroke-width="2.2"/>
<path d="M2162 92V1251.8" stroke="#000" stroke-width="2"/>
<path d="M52 1241.8H2162" stroke="#000" stroke-width="2"/>
<path d="M2162 1241.8H2301.5" stroke="#555" stroke-width="1.2"/>
<path d="M143.7 1241.8v9" stroke="#000" stroke-width="1.6"/>
<path d="M484.7 1241.8v16" stroke="#000" stroke-width="1.6"/>
<path d="M826 1241.8v16" stroke="#000" stroke-width="1.6"/>
<path d="M1166.3 1241.8v16" stroke="#000" stroke-width="1.6"/>
<path d="M1506.8 1241.8v16" stroke="#000" stroke-width="1.6"/>
<path d="M1848 1241.8v16" stroke="#000" stroke-width="1.6"/>
<circle cx="1679.8" cy="666.2" r="9.55" fill="#dc1f14" stroke="#000" stroke-width="4.1"/>
<circle cx="1679.8" cy="837.4" r="9.55" fill="#3b4ca8" stroke="#000" stroke-width="4.1"/>
<circle cx="1679.8" cy="997.8" r="9.55" fill="#3bb3cf" stroke="#000" stroke-width="4.1"/>
<circle cx="1679.8" cy="1033.3" r="9.55" fill="#f28a2e" stroke="#000" stroke-width="4.1"/>
<circle cx="1679.8" cy="1126.8" r="9.55" fill="#69c834" stroke="#000" stroke-width="4.1"/>
<text class="ax" x="52" y="1232.3" textLength="15.7" lengthAdjust="spacingAndGlyphs">0</text>
<text class="ax" x="52" y="1061.5" textLength="31.3" lengthAdjust="spacingAndGlyphs">10</text>
<text class="ax" x="52" y="890.8" textLength="31.3" lengthAdjust="spacingAndGlyphs">20</text>
<text class="ax" x="52" y="720" textLength="31.3" lengthAdjust="spacingAndGlyphs">30</text>
<text class="ax" x="52" y="549.3" textLength="31.3" lengthAdjust="spacingAndGlyphs">40</text>
<text class="ax" x="52" y="378.5" textLength="31.3" lengthAdjust="spacingAndGlyphs">50</text>
<text class="ax" x="52" y="207.8" textLength="31.3" lengthAdjust="spacingAndGlyphs">60</text>
<text class="ax" x="626.4" y="1285.8" textLength="62.7" lengthAdjust="spacingAndGlyphs">2021</text>
<text class="ax" x="964.7" y="1285.8" textLength="62.7" lengthAdjust="spacingAndGlyphs">2022</text>
<text class="ax" x="1304.8" y="1285.8" textLength="62.7" lengthAdjust="spacingAndGlyphs">2023</text>
<text class="ax" x="1645.8" y="1285.8" textLength="62.7" lengthAdjust="spacingAndGlyphs">2024</text>
<text class="ax" x="1974.2" y="1285.8" textLength="62.7" lengthAdjust="spacingAndGlyphs">2025</text>
<text x="1546.3" y="115.6" font-size="29" fill="#1a1a1a" stroke="#1a1a1a" stroke-width=".7" textLength="266" lengthAdjust="spacingAndGlyphs">General-election result</text>
<text x="2114.3" y="75.3" font-size="28" font-weight="bold" fill="#0d0d0d" textLength="94.5" lengthAdjust="spacingAndGlyphs">Dec 3rd</text>
<circle cx="2177.7" cy="752" r="9.7" fill="#3bb3cf" stroke="#fff" stroke-width="4" paint-order="stroke"/>
<text class="lb" x="2191.3" y="761.7" textLength="120.5" lengthAdjust="spacingAndGlyphs">Reform 29</text>
<circle cx="2177.7" cy="902.5" r="9.7" fill="#3b4ca8" stroke="#fff" stroke-width="4" paint-order="stroke"/>
<text class="lb" x="2191.3" y="912.2" textLength="76" lengthAdjust="spacingAndGlyphs">Con 19</text>
<circle cx="2177.7" cy="938.5" r="9.7" fill="#dc1f14" stroke="#fff" stroke-width="4" paint-order="stroke"/>
<text class="lb" x="2191.3" y="948.2" textLength="74" lengthAdjust="spacingAndGlyphs">Lab 19</text>
<circle cx="2177.7" cy="996.6" r="9.7" fill="#69c834" stroke="#fff" stroke-width="4" paint-order="stroke"/>
<text class="lb" x="2191.3" y="1006.3" textLength="100" lengthAdjust="spacingAndGlyphs">Green 14</text>
<circle cx="2177.7" cy="1032.7" r="9.7" fill="#f28a2e" stroke="#fff" stroke-width="4" paint-order="stroke"/>
<text class="lb" x="2191.3" y="1042.4" textLength="65" lengthAdjust="spacingAndGlyphs">Lib 12</text>
</svg>
</body></html>
